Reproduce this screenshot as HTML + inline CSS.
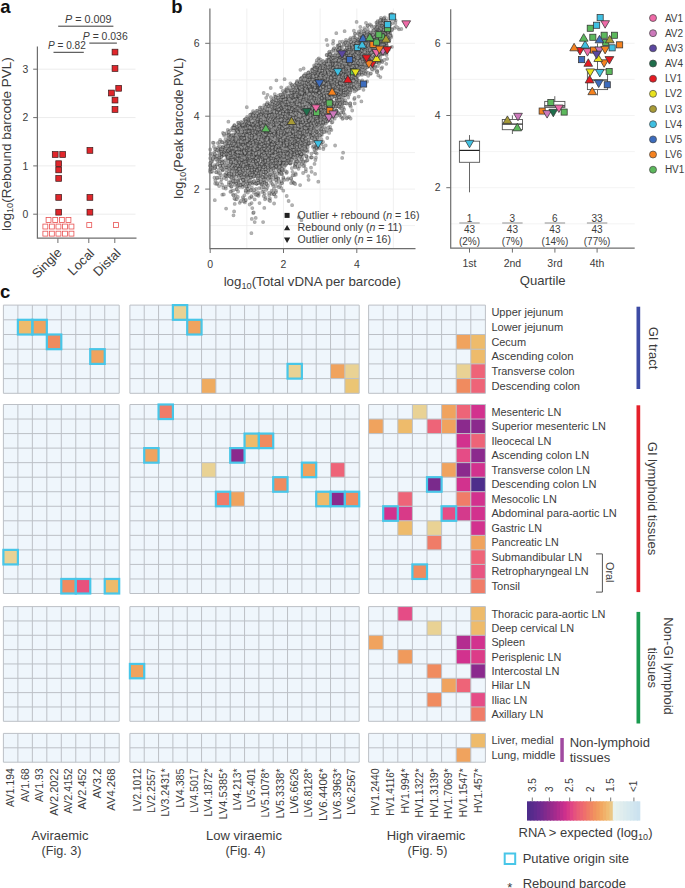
<!DOCTYPE html>
<html><head><meta charset="utf-8"><style>
html,body{margin:0;padding:0;background:#fff;overflow:hidden;}
svg{display:block;}
text{font-family:"Liberation Sans", sans-serif;}
</style></head><body>
<svg width="685" height="888" viewBox="0 0 685 888" font-family='"Liberation Sans", sans-serif' fill="#3c3c3c">
<text x="0.2" y="12.9" font-size="18.5" fill="#111" font-weight="bold" >a</text>
<path d="M37.4 214.2H135.5M37.4 165.9H135.5M37.4 117.6H135.5M37.4 69.2H135.5" stroke="#ececec" stroke-width="1"/>
<path d="M37.4 46.6V238.2H136.5" stroke="#6e6e6e" stroke-width="1.2" fill="none"/>
<path d="M33.2 214.2H37.4M33.2 165.9H37.4M33.2 117.6H37.4M33.2 69.2H37.4M57.9 238.2V243M88.8 238.2V243M114.8 238.2V243" stroke="#6e6e6e" stroke-width="1"/>
<text x="28.2" y="217.8" font-size="10.4" text-anchor="end" >0</text>
<text x="28.2" y="169.5" font-size="10.4" text-anchor="end" >1</text>
<text x="28.2" y="121.2" font-size="10.4" text-anchor="end" >2</text>
<text x="28.2" y="72.8" font-size="10.4" text-anchor="end" >3</text>
<text x="10.6" y="144.2" font-size="13.5" text-anchor="middle" transform="rotate(-90 10.6 144.2)" >log<tspan font-size="9.2" dy="2.6">10</tspan><tspan dy="-2.6">(Rebound barcode PVL)</tspan></text>
<text x="62.7" y="253.5" font-size="13" text-anchor="end" transform="rotate(-45 62.7 253.5)" >Single</text>
<text x="95.1" y="254.2" font-size="13" text-anchor="end" transform="rotate(-45 95.1 254.2)" >Local</text>
<text x="121.6" y="254.0" font-size="13" text-anchor="end" transform="rotate(-45 121.6 254.0)" >Distal</text>
<text x="65.0" y="23.0" font-size="10.6" textLength="46.4" lengthAdjust="spacingAndGlyphs" ><tspan font-style="italic">P</tspan> = 0.009</text>
<text x="82.8" y="40.4" font-size="10.6" textLength="44.9" lengthAdjust="spacingAndGlyphs" ><tspan font-style="italic">P</tspan> = 0.036</text>
<text x="48.0" y="49.1" font-size="10.6" textLength="37.8" lengthAdjust="spacingAndGlyphs" ><tspan font-style="italic">P</tspan> = 0.82</text>
<path d="M58.2 26.2H113.4M89.3 43.1H116.9M53.5 52.3H83.8" stroke="#3a3a3a" stroke-width="1"/>
<rect x="52.3" y="151.6" width="5.8" height="5.8" fill="#e0262b" stroke="#3a1a1a" stroke-width="0.7"/>
<rect x="59.8" y="151.6" width="5.8" height="5.8" fill="#e0262b" stroke="#3a1a1a" stroke-width="0.7"/>
<rect x="55.8" y="160.8" width="5.8" height="5.8" fill="#e0262b" stroke="#3a1a1a" stroke-width="0.7"/>
<rect x="55.8" y="167.0" width="5.8" height="5.8" fill="#e0262b" stroke="#3a1a1a" stroke-width="0.7"/>
<rect x="55.8" y="175.5" width="5.8" height="5.8" fill="#e0262b" stroke="#3a1a1a" stroke-width="0.7"/>
<rect x="55.8" y="194.5" width="5.8" height="5.8" fill="#e0262b" stroke="#3a1a1a" stroke-width="0.7"/>
<rect x="55.8" y="209.3" width="5.8" height="5.8" fill="#e0262b" stroke="#3a1a1a" stroke-width="0.7"/>
<rect x="87.0" y="147.5" width="5.8" height="5.8" fill="#e0262b" stroke="#3a1a1a" stroke-width="0.7"/>
<rect x="87.0" y="194.5" width="5.8" height="5.8" fill="#e0262b" stroke="#3a1a1a" stroke-width="0.7"/>
<rect x="87.0" y="209.3" width="5.8" height="5.8" fill="#e0262b" stroke="#3a1a1a" stroke-width="0.7"/>
<rect x="112.1" y="49.2" width="5.8" height="5.8" fill="#e0262b" stroke="#3a1a1a" stroke-width="0.7"/>
<rect x="112.1" y="65.6" width="5.8" height="5.8" fill="#e0262b" stroke="#3a1a1a" stroke-width="0.7"/>
<rect x="115.8" y="85.4" width="5.8" height="5.8" fill="#e0262b" stroke="#3a1a1a" stroke-width="0.7"/>
<rect x="108.5" y="90.1" width="5.8" height="5.8" fill="#e0262b" stroke="#3a1a1a" stroke-width="0.7"/>
<rect x="112.1" y="97.2" width="5.8" height="5.8" fill="#e0262b" stroke="#3a1a1a" stroke-width="0.7"/>
<rect x="112.1" y="106.6" width="5.8" height="5.8" fill="#e0262b" stroke="#3a1a1a" stroke-width="0.7"/>
<rect x="46.1" y="217.5" width="4.9" height="4.9" fill="#fff" stroke="#e85050" stroke-width="0.8"/>
<rect x="52.8" y="217.5" width="4.9" height="4.9" fill="#fff" stroke="#e85050" stroke-width="0.8"/>
<rect x="59.4" y="217.5" width="4.9" height="4.9" fill="#fff" stroke="#e85050" stroke-width="0.8"/>
<rect x="66.0" y="217.5" width="4.9" height="4.9" fill="#fff" stroke="#e85050" stroke-width="0.8"/>
<rect x="42.9" y="224.1" width="4.9" height="4.9" fill="#fff" stroke="#e85050" stroke-width="0.8"/>
<rect x="49.4" y="224.1" width="4.9" height="4.9" fill="#fff" stroke="#e85050" stroke-width="0.8"/>
<rect x="56.0" y="224.1" width="4.9" height="4.9" fill="#fff" stroke="#e85050" stroke-width="0.8"/>
<rect x="62.5" y="224.1" width="4.9" height="4.9" fill="#fff" stroke="#e85050" stroke-width="0.8"/>
<rect x="69.0" y="224.1" width="4.9" height="4.9" fill="#fff" stroke="#e85050" stroke-width="0.8"/>
<rect x="42.9" y="231.2" width="4.9" height="4.9" fill="#fff" stroke="#e85050" stroke-width="0.8"/>
<rect x="49.4" y="231.2" width="4.9" height="4.9" fill="#fff" stroke="#e85050" stroke-width="0.8"/>
<rect x="56.0" y="231.2" width="4.9" height="4.9" fill="#fff" stroke="#e85050" stroke-width="0.8"/>
<rect x="62.5" y="231.2" width="4.9" height="4.9" fill="#fff" stroke="#e85050" stroke-width="0.8"/>
<rect x="69.0" y="231.2" width="4.9" height="4.9" fill="#fff" stroke="#e85050" stroke-width="0.8"/>
<rect x="86.8" y="222.6" width="4.9" height="4.9" fill="#fff" stroke="#e85050" stroke-width="0.8"/>
<rect x="113.5" y="222.6" width="4.9" height="4.9" fill="#fff" stroke="#e85050" stroke-width="0.8"/>
<text x="171.2" y="13.4" font-size="18.5" fill="#111" font-weight="bold" >b</text>
<path d="M210 225.6H415M210 189.1H415M210 152.6H415M210 116.2H415M210 79.8H415M210 43.3H415M246.8 8.5V248.7M283.5 8.5V248.7M320.1 8.5V248.7M356.8 8.5V248.7M393.4 8.5V248.7" stroke="#ececec" stroke-width="0.8"/>
<defs><path id="k0" d="M286.8 109.7h0M264.9 143.8h0M310.9 89.4h0M252.6 145.5h0M253.2 183.7h0M253.2 212.9h0M329.6 101.4h0M279.2 121.4h0M295.2 97.1h0M332.7 113.9h0M311.4 77.5h0M270.5 127.4h0M261.7 165.9h0M265.3 110.9h0M353.2 62.2h0M250.5 146.4h0M263.5 191.3h0M351.7 59.1h0M316.4 145.4h0M300.3 126.6h0M285.2 138.0h0M271.0 130.4h0M387.2 58.8h0M341.0 46.9h0M282.7 137.7h0M251.7 159.1h0M251.0 124.8h0M309.2 115.9h0M289.1 134.5h0M372.3 48.5h0M321.9 103.3h0M261.8 127.5h0M350.1 67.9h0M347.1 59.0h0M296.3 91.9h0M305.3 129.0h0M359.7 87.0h0M242.9 166.3h0M277.7 132.8h0M313.4 92.7h0M307.6 100.0h0M246.4 130.1h0M297.8 167.1h0M244.6 156.2h0M312.3 98.9h0M328.0 86.1h0M217.1 164.7h0M323.3 89.0h0M293.2 101.3h0M285.4 142.9h0M311.7 119.4h0M282.1 136.0h0M271.6 100.4h0M340.0 81.7h0M310.5 111.4h0M220.5 165.4h0M310.5 135.8h0M315.9 113.1h0M299.2 104.3h0M255.2 138.8h0M332.2 85.2h0M381.6 43.0h0M358.4 57.3h0M240.9 161.5h0M311.9 107.8h0M308.8 72.3h0M306.9 80.8h0M304.4 107.5h0M321.5 73.2h0M346.3 76.7h0M314.4 83.5h0M284.1 145.2h0M270.1 141.4h0M287.0 151.1h0M297.7 81.1h0M322.7 89.7h0M303.5 100.4h0M291.5 92.7h0M224.2 135.5h0M378.6 48.0h0M278.6 162.5h0M233.5 182.6h0M299.1 150.3h0M342.6 64.6h0M331.4 115.4h0M352.0 69.2h0M303.4 106.5h0M323.0 131.9h0M267.7 134.5h0M341.4 75.3h0M331.4 130.0h0M368.1 60.8h0M282.2 174.1h0M231.2 186.8h0M314.8 70.9h0M306.9 118.0h0M302.4 125.5h0M263.1 159.9h0M376.0 31.0h0M293.4 136.2h0M226.1 167.8h0M314.1 97.3h0M329.5 69.2h0M252.8 140.5h0M295.3 97.8h0M323.4 105.9h0M326.0 94.0h0M263.2 144.7h0M284.9 147.2h0M328.7 63.1h0M316.8 126.4h0M229.2 151.7h0M342.9 73.9h0M316.1 76.9h0M389.7 22.3h0M229.6 141.9h0M285.6 142.5h0M318.8 58.3h0M320.2 89.7h0M238.5 168.1h0M308.7 121.7h0M258.8 131.1h0M282.1 96.3h0M296.1 103.0h0M251.3 163.1h0M271.1 147.9h0M382.4 43.5h0M362.4 62.7h0M251.4 146.7h0M322.1 78.4h0M271.3 153.3h0M283.6 161.8h0M274.5 167.7h0M330.5 61.0h0M279.6 129.2h0M283.2 100.2h0M287.5 120.5h0M227.8 144.3h0M242.3 139.1h0M301.7 78.0h0M247.7 159.2h0M284.2 136.8h0M253.7 145.3h0M242.9 139.8h0M238.9 147.1h0M257.5 157.7h0M336.6 113.2h0M378.8 38.4h0M351.2 54.0h0M305.3 101.7h0M306.0 84.0h0M342.3 90.8h0M269.3 140.8h0M246.9 143.7h0M369.8 24.3h0M288.4 129.5h0M317.5 90.5h0M314.9 87.8h0M298.9 131.1h0M321.7 144.1h0M297.2 158.9h0M310.0 106.8h0M330.8 77.1h0M272.6 132.3h0M346.2 65.3h0M318.3 86.1h0M320.2 97.5h0M271.3 143.3h0M294.9 127.5h0M294.3 175.1h0M304.0 103.6h0M384.5 44.6h0M319.0 88.0h0M285.2 116.2h0M263.6 141.1h0M272.8 133.1h0M337.7 72.4h0M350.5 92.0h0M298.5 107.2h0M313.2 117.4h0M223.8 153.8h0M256.6 166.2h0M292.4 111.5h0M252.5 130.9h0M368.0 72.6h0M320.9 77.6h0M254.0 151.0h0M364.4 60.3h0M341.8 78.8h0M308.2 143.7h0M366.3 62.2h0M342.0 86.4h0M247.5 183.7h0M330.8 71.9h0M295.5 121.5h0M298.3 135.2h0M330.1 96.7h0M330.8 78.2h0M277.2 128.6h0M288.9 135.6h0M338.9 97.7h0M253.9 181.3h0M255.6 153.4h0M302.7 122.2h0M309.3 125.9h0M338.1 50.3h0M282.6 118.9h0M323.6 103.4h0M342.3 92.9h0M283.5 126.0h0M292.8 126.4h0M307.9 96.6h0M260.8 145.8h0M318.9 121.7h0M313.1 114.5h0M380.6 32.5h0M252.7 152.0h0M310.8 89.8h0M321.6 110.1h0M345.9 66.9h0M214.0 156.0h0M230.2 147.2h0M300.0 99.1h0M351.5 80.3h0M333.9 76.3h0M301.6 154.7h0M354.5 46.3h0M335.4 79.2h0M262.6 115.9h0M259.8 165.2h0M337.9 103.4h0M256.0 189.0h0M227.7 156.5h0M254.8 171.6h0M293.2 133.5h0M387.0 41.7h0M261.2 134.9h0M305.6 118.5h0M283.3 96.7h0M246.5 161.9h0M285.8 89.6h0M234.9 155.3h0M302.2 144.2h0M300.3 90.3h0M299.2 112.2h0M266.0 157.9h0M316.0 139.5h0M334.5 75.0h0M287.0 128.6h0M331.6 94.5h0M255.1 155.1h0M259.7 122.4h0M249.1 156.6h0M346.0 39.8h0M302.8 97.1h0M300.9 158.4h0M303.3 76.6h0M277.3 154.6h0M283.3 106.8h0M379.4 45.2h0M316.7 111.7h0M329.0 109.4h0M238.0 122.6h0M241.3 125.9h0M326.6 83.0h0M321.1 130.0h0M303.6 119.5h0M355.1 43.1h0M288.0 145.0h0M293.0 134.7h0M249.9 146.6h0M354.3 43.8h0M283.0 125.4h0M301.3 108.7h0M305.1 92.1h0M292.0 119.0h0M275.7 133.2h0M280.1 142.5h0M301.5 129.6h0M301.3 103.0h0M358.5 70.6h0M244.5 166.1h0M231.7 139.9h0M270.4 132.3h0M302.0 98.4h0M272.7 139.5h0M280.9 141.6h0M309.2 109.4h0M241.0 161.0h0M304.6 117.6h0M263.7 125.7h0M321.4 94.2h0M319.1 64.6h0M214.2 152.6h0M286.2 147.8h0M346.7 54.3h0M284.9 146.7h0M285.6 161.6h0M283.0 141.6h0M292.3 157.0h0M308.2 108.5h0M338.1 65.7h0M290.4 83.3h0M269.1 165.1h0M297.6 117.1h0M231.6 163.9h0M307.4 84.2h0M275.8 106.1h0M289.7 109.1h0M345.3 55.2h0M246.3 126.8h0M323.5 84.3h0M309.7 106.6h0M335.2 92.5h0M342.5 57.6h0M275.7 110.7h0M288.9 144.3h0M348.2 97.5h0M296.1 84.1h0M377.4 39.8h0M332.7 91.2h0M274.9 160.8h0M308.9 103.6h0M324.4 86.3h0M325.9 113.3h0M311.0 103.2h0M271.5 127.7h0M276.1 119.0h0M233.3 162.0h0M333.9 86.2h0M269.3 145.2h0M304.4 130.9h0M255.2 148.0h0M287.9 95.5h0M304.7 92.5h0M319.3 106.8h0M275.3 118.0h0M237.3 143.3h0M210.2 171.0h0M230.1 176.6h0M280.7 115.2h0M312.2 96.8h0M276.1 190.9h0M297.0 94.6h0M236.4 147.4h0M384.6 21.2h0M325.7 87.8h0M326.4 104.4h0M210.6 165.3h0M389.9 15.0h0M244.1 150.5h0M217.5 178.2h0M342.0 69.4h0"/><path id="k1" d="M384.4 21.0h0M289.7 127.5h0M295.8 147.5h0M304.7 110.9h0M283.5 129.2h0M298.7 129.3h0M313.7 95.4h0M285.1 99.6h0M252.5 144.3h0M355.0 39.8h0M321.7 109.1h0M280.3 121.0h0M229.8 146.9h0M244.4 145.8h0M277.1 126.6h0M262.7 113.0h0M267.3 102.5h0M303.2 96.6h0M239.5 149.1h0M299.5 110.2h0M231.3 191.2h0M250.5 124.0h0M332.9 62.0h0M330.1 58.1h0M349.7 74.7h0M258.4 170.4h0M317.5 104.0h0M221.4 149.9h0M365.7 42.4h0M336.4 68.0h0M273.5 143.4h0M354.6 49.0h0M375.8 51.7h0M311.3 102.3h0M298.8 217.2h0M278.8 140.1h0M268.8 122.3h0M247.7 119.5h0M300.2 89.3h0M309.3 117.1h0M221.2 154.8h0M252.7 140.7h0M310.2 97.3h0M240.1 148.7h0M276.0 144.2h0M295.3 111.1h0M325.8 87.5h0M302.7 95.0h0M256.6 137.3h0M317.7 101.6h0M267.0 149.2h0M280.7 170.7h0M295.0 112.4h0M371.0 37.7h0M287.3 98.4h0M251.6 137.2h0M333.2 94.9h0M344.8 114.8h0M273.3 131.4h0M245.0 136.1h0M377.9 49.0h0M287.2 122.7h0M291.8 133.5h0M377.9 48.1h0M305.7 101.1h0M269.6 124.4h0M232.0 143.8h0M274.5 119.8h0M279.8 118.5h0M330.6 79.2h0M359.0 63.9h0M243.4 138.8h0M239.2 149.9h0M386.1 47.6h0M364.3 28.1h0M347.8 58.4h0M291.8 136.0h0M295.9 94.5h0M270.3 123.7h0M283.6 112.7h0M313.5 106.9h0M276.6 160.9h0M268.2 151.9h0M318.9 65.5h0M251.7 138.3h0M314.7 147.5h0M304.7 103.1h0M282.9 151.4h0M220.2 139.9h0M283.9 135.8h0M300.5 100.0h0M282.1 143.5h0M350.8 67.1h0M358.8 57.0h0M276.7 132.8h0M273.5 167.1h0M248.6 164.7h0M293.9 104.6h0M295.0 132.2h0M355.0 51.0h0M354.7 103.4h0M285.5 106.8h0M316.0 83.8h0M296.8 141.8h0M298.7 110.7h0M275.4 133.2h0M283.6 139.3h0M263.2 146.7h0M281.0 133.8h0M259.8 175.2h0M345.1 54.4h0M306.6 110.0h0M260.3 138.3h0M266.1 170.5h0M292.0 132.8h0M274.3 157.9h0M262.0 146.3h0M303.1 112.7h0M275.3 109.6h0M306.8 139.3h0M257.5 169.7h0M293.7 154.1h0M306.7 100.8h0M329.2 94.2h0M283.2 132.5h0M319.3 86.9h0M267.2 129.6h0M316.5 66.2h0M380.3 22.8h0M350.5 79.8h0M287.0 106.9h0M302.1 104.9h0M260.0 136.1h0M375.6 38.5h0M378.4 48.1h0M305.5 130.7h0M221.9 161.0h0M338.5 78.2h0M292.4 93.8h0M312.0 78.6h0M323.3 112.1h0M290.1 116.7h0M358.8 60.2h0M257.0 172.0h0M280.9 106.8h0M375.8 45.4h0M264.1 172.5h0M379.5 52.2h0M260.5 172.7h0M250.2 132.6h0M274.6 115.4h0M339.0 72.9h0M330.6 81.0h0M270.7 88.0h0M267.6 119.0h0M360.2 45.8h0M271.9 111.6h0M315.0 123.7h0M264.4 160.9h0M252.6 154.1h0M256.6 156.9h0M349.9 58.5h0M241.2 151.5h0M259.0 157.8h0M270.0 124.6h0M282.6 136.8h0M383.2 28.7h0M255.5 151.9h0M343.5 60.1h0M249.5 183.4h0M356.4 62.2h0M241.9 140.6h0M345.5 78.2h0M265.2 123.2h0M385.5 36.2h0M220.7 161.2h0M277.9 157.8h0M308.5 130.5h0M305.6 138.1h0M283.3 97.7h0M306.8 95.7h0M255.8 163.2h0M293.8 142.3h0M269.2 195.2h0M259.7 115.1h0M241.7 136.8h0M318.0 96.7h0M274.3 125.3h0M381.2 46.4h0M249.5 133.9h0M273.7 157.8h0M373.8 44.8h0M290.3 114.3h0M303.6 100.3h0M326.3 83.1h0M280.1 125.6h0M276.8 117.2h0M307.2 118.7h0M327.9 114.2h0M338.3 80.2h0M306.9 128.3h0M289.5 113.5h0M372.9 41.3h0M382.6 52.2h0M310.1 114.0h0M382.9 31.1h0M316.3 73.2h0M307.5 119.0h0M336.8 106.1h0M255.1 122.7h0M287.7 125.3h0M366.0 57.8h0M238.7 138.7h0M337.2 97.5h0M273.0 126.9h0M312.4 100.2h0M252.6 142.0h0M260.0 144.8h0M390.3 33.1h0M270.2 135.8h0M346.2 85.4h0M335.6 48.9h0M292.5 113.0h0M311.0 114.7h0M211.0 166.8h0M251.3 159.4h0M227.5 167.7h0M272.8 126.7h0M252.9 133.3h0M308.4 72.4h0M244.6 160.4h0M251.5 130.9h0M245.7 168.0h0M332.2 80.8h0M238.3 152.4h0M347.4 90.7h0M308.1 95.9h0M320.0 129.0h0M347.6 65.9h0M378.8 40.4h0M210.5 154.5h0M255.1 117.2h0M300.0 123.3h0M376.0 39.0h0M304.9 111.8h0M252.6 127.8h0M367.0 46.0h0M252.8 129.5h0M379.5 35.8h0M249.3 151.7h0M252.3 159.1h0M313.6 116.3h0M333.8 89.3h0M336.1 54.9h0M311.0 119.9h0M316.0 97.3h0M378.4 32.2h0M258.9 155.5h0M281.4 138.8h0M361.9 56.6h0M296.1 90.3h0M369.3 33.5h0M292.9 87.4h0M307.1 141.9h0M287.0 147.3h0M340.8 57.3h0M296.1 102.7h0M235.7 154.3h0M310.0 95.4h0M323.5 106.9h0M354.9 59.3h0M329.7 114.1h0M316.6 75.3h0M327.3 69.7h0M355.3 45.7h0M299.7 122.7h0M386.9 31.5h0M279.0 112.6h0M233.3 160.9h0M307.2 99.6h0M293.4 135.1h0M381.0 44.0h0M254.0 136.4h0M350.7 72.5h0M335.1 106.3h0M331.3 69.4h0M274.8 101.5h0M294.8 100.8h0M254.5 148.3h0M338.2 84.2h0M257.7 164.5h0M280.8 108.0h0M280.1 143.9h0M306.8 156.4h0M377.1 60.3h0M276.9 137.0h0M356.6 81.1h0M322.3 104.1h0M375.3 43.7h0M318.0 108.0h0M361.7 38.5h0M241.4 154.2h0M324.2 104.8h0M272.3 125.1h0M295.7 114.4h0M286.4 123.5h0M287.5 149.0h0M319.0 118.9h0M345.8 77.4h0M331.4 67.4h0M351.1 44.3h0M303.4 113.9h0M292.7 117.8h0M302.6 125.5h0M240.7 165.2h0M376.2 55.7h0M338.0 95.5h0M269.9 198.4h0M291.8 112.5h0M320.2 113.4h0M293.5 125.2h0M330.5 61.9h0M288.6 118.3h0M289.8 136.1h0M290.1 102.0h0M258.6 123.0h0M330.4 81.9h0M260.3 129.4h0M351.4 55.0h0M235.2 139.8h0M278.0 124.0h0M319.4 112.5h0M382.7 42.4h0M381.6 51.5h0M394.6 27.9h0M241.6 144.4h0M242.0 134.6h0M338.2 82.5h0M336.5 82.0h0M382.1 26.2h0M278.0 119.4h0M376.1 43.1h0M303.6 125.8h0M292.6 101.9h0M376.5 26.0h0M262.9 134.4h0M313.0 114.7h0M267.1 138.4h0M263.6 187.4h0M302.6 109.1h0M337.2 102.8h0M255.2 165.9h0M278.7 159.0h0"/><path id="k2" d="M352.4 61.0h0M357.2 80.4h0M262.5 142.8h0M268.3 109.5h0M256.8 168.3h0M279.5 163.2h0M253.4 153.2h0M274.4 150.0h0M268.8 128.5h0M350.7 79.0h0M378.2 30.4h0M292.1 115.8h0M286.2 134.9h0M315.1 85.3h0M262.3 109.4h0M271.1 137.2h0M315.5 101.8h0M282.4 120.3h0M325.1 70.1h0M327.4 120.8h0M377.2 44.2h0M305.8 144.1h0M354.4 77.1h0M300.7 117.9h0M279.8 131.3h0M256.7 159.1h0M261.1 148.3h0M248.8 169.4h0M319.4 92.4h0M295.9 131.2h0M316.8 72.4h0M305.4 104.0h0M286.4 122.1h0M304.9 76.8h0M234.4 139.6h0M278.0 115.5h0M292.0 132.0h0M320.3 72.3h0M315.5 107.0h0M294.8 163.0h0M269.4 117.7h0M210.2 149.5h0M284.8 165.8h0M345.4 65.7h0M302.4 116.7h0M246.7 135.5h0M228.4 159.2h0M354.3 75.0h0M343.9 81.8h0M325.8 88.5h0M295.9 123.5h0M276.4 158.3h0M289.7 158.9h0M340.4 86.1h0M334.0 74.1h0M269.1 133.5h0M259.5 142.7h0M265.5 135.0h0M306.2 121.4h0M346.4 63.6h0M258.7 121.4h0M272.6 145.0h0M309.8 129.0h0M250.7 129.2h0M299.5 121.0h0M275.1 141.8h0M323.7 68.9h0M331.5 81.6h0M316.0 120.1h0M266.6 158.5h0M221.1 155.2h0M371.4 49.5h0M325.7 145.4h0M266.9 128.3h0M307.6 151.7h0M256.6 111.0h0M388.7 31.8h0M254.2 134.6h0M292.3 154.0h0M270.7 127.1h0M292.1 108.6h0M301.2 130.0h0M380.9 42.4h0M297.6 120.2h0M325.9 92.5h0M251.8 218.9h0M244.6 131.3h0M306.3 132.8h0M252.9 171.6h0M352.4 63.6h0M289.6 130.8h0M302.4 139.3h0M298.0 126.5h0M294.9 108.7h0M243.5 146.9h0M277.2 153.9h0M302.3 116.6h0M260.0 156.9h0M269.3 149.7h0M341.4 76.1h0M373.7 49.4h0M376.8 52.3h0M344.8 83.6h0M301.4 110.5h0M387.1 24.4h0M265.9 106.5h0M353.3 51.1h0M222.7 155.6h0M377.3 58.7h0M298.2 116.3h0M253.1 175.5h0M356.6 40.9h0M236.7 157.7h0M305.4 121.2h0M380.9 42.6h0M287.6 121.4h0M269.0 152.9h0M347.7 77.2h0M308.0 85.3h0M325.6 69.9h0M295.6 173.3h0M337.7 91.9h0M308.1 94.0h0M307.4 131.5h0M261.0 143.4h0M282.3 99.4h0M246.2 124.3h0M262.3 149.3h0M267.2 114.1h0M210.9 153.4h0M271.7 135.1h0M322.2 78.4h0M335.0 67.7h0M313.7 122.1h0M260.2 111.5h0M262.9 167.8h0M242.9 150.4h0M323.8 72.6h0M259.2 152.4h0M306.4 100.3h0M321.5 139.2h0M220.1 165.9h0M288.4 126.4h0M296.5 117.5h0M281.8 129.6h0M292.2 101.3h0M311.8 136.2h0M226.0 176.0h0M301.4 148.8h0M324.2 117.5h0M246.8 140.8h0M250.7 167.8h0M277.9 108.5h0M313.5 127.8h0M288.6 114.6h0M259.3 135.9h0M275.9 105.2h0M244.5 159.5h0M326.0 121.7h0M300.0 109.0h0M307.5 114.7h0M303.6 104.8h0M276.4 121.2h0M325.0 89.8h0M270.8 135.8h0M333.3 89.5h0M282.2 118.2h0M228.5 150.6h0M319.3 73.1h0M356.7 61.3h0M228.5 141.3h0M311.7 80.3h0M344.5 70.4h0M289.8 125.3h0M256.8 163.8h0M279.3 139.6h0M315.7 67.1h0M312.0 111.0h0M364.6 57.2h0M300.4 137.6h0M234.0 153.0h0M261.9 122.1h0M309.6 109.5h0M319.6 75.7h0M291.8 109.5h0M302.2 116.0h0M273.0 127.7h0M301.8 107.2h0M245.3 128.5h0M274.0 193.9h0M342.8 66.6h0M354.0 66.4h0M326.7 88.6h0M283.4 148.4h0M384.3 33.0h0M294.4 152.6h0M245.5 138.5h0M313.4 93.4h0M295.8 125.7h0M266.1 138.3h0M322.5 128.0h0M312.2 73.4h0M321.5 111.4h0M284.5 138.7h0M233.9 139.5h0M317.5 103.7h0M378.4 37.2h0M289.9 145.0h0M325.9 88.4h0M379.9 48.7h0M290.7 114.5h0M337.9 93.2h0M234.3 125.1h0M365.9 72.0h0M280.9 113.7h0M242.6 169.8h0M308.1 107.3h0M267.3 137.4h0M283.6 136.1h0M330.1 81.4h0M348.2 51.0h0M288.8 131.3h0M341.8 74.9h0M245.1 130.4h0M221.7 141.8h0M314.7 146.6h0M391.3 35.9h0M231.6 174.1h0M377.0 55.3h0M302.3 157.9h0M284.3 126.9h0M321.2 94.5h0M304.4 94.0h0M371.5 52.8h0M301.8 142.4h0M296.1 87.6h0M322.7 100.7h0M249.6 132.1h0M365.8 56.8h0M247.5 146.1h0M388.8 38.2h0M277.8 132.7h0M298.3 99.2h0M268.6 169.0h0M305.2 104.0h0M276.7 119.3h0M262.2 170.7h0M316.5 132.7h0M340.3 96.3h0M281.9 152.8h0M261.1 171.3h0M309.2 102.6h0M257.7 134.3h0M242.4 143.8h0M304.5 89.3h0M359.9 36.6h0M387.4 22.9h0M252.7 148.7h0M281.9 125.0h0M266.2 133.1h0M276.5 182.2h0M385.2 36.2h0M238.8 122.7h0M331.4 96.9h0M266.4 139.3h0M290.6 163.7h0M270.6 139.7h0M319.8 104.6h0M236.7 173.9h0M351.5 59.6h0M329.3 96.6h0M381.2 44.1h0M284.3 118.0h0M361.6 56.3h0M381.4 26.0h0M346.0 49.5h0M286.7 120.1h0M249.3 121.8h0M360.7 39.9h0M237.1 156.2h0M264.6 193.9h0M282.8 98.4h0M332.8 96.4h0M269.7 146.1h0M256.4 137.3h0M249.0 155.3h0M297.0 99.5h0M305.5 100.1h0M289.6 116.7h0M256.6 123.9h0M230.7 148.2h0M242.1 145.1h0M344.6 88.2h0M296.5 148.0h0M288.2 160.2h0M381.3 30.1h0M263.9 143.5h0M248.3 161.2h0M281.1 123.1h0M276.6 146.8h0M235.9 165.7h0M266.7 152.6h0M347.4 61.6h0M284.1 167.3h0M319.5 77.6h0M234.3 161.5h0M303.6 125.9h0M373.9 43.5h0M309.1 143.6h0M247.9 192.5h0M246.5 143.8h0M242.8 141.7h0M285.8 115.0h0M319.3 98.5h0M345.8 41.8h0M283.5 111.4h0M323.7 146.9h0M279.5 155.0h0M288.1 151.0h0M297.9 110.5h0M292.1 109.6h0M274.0 151.9h0M251.9 151.8h0M386.4 24.7h0M341.6 76.2h0M275.8 139.2h0M303.0 110.2h0M311.3 127.0h0M357.2 69.1h0M278.7 95.4h0M299.2 155.5h0M265.1 132.0h0M285.7 106.6h0M288.9 109.5h0M244.5 176.6h0M294.3 131.3h0M255.5 159.0h0M295.0 107.2h0M289.8 103.2h0M231.5 151.2h0M265.6 167.0h0M281.6 110.6h0M294.6 122.5h0M333.3 84.7h0M299.6 131.6h0M312.3 97.8h0M346.1 66.6h0M210.2 165.4h0M279.8 172.1h0M255.9 146.9h0M333.1 107.1h0M246.3 134.8h0M273.3 174.0h0"/><path id="k3" d="M290.3 149.4h0M265.3 146.4h0M298.2 103.0h0M296.3 133.6h0M301.5 88.5h0M304.4 145.1h0M329.0 114.1h0M338.6 106.6h0M318.2 122.9h0M247.9 145.6h0M307.5 99.0h0M305.2 95.6h0M236.0 161.2h0M349.0 62.1h0M279.3 126.9h0M292.2 93.3h0M333.6 103.9h0M247.4 186.4h0M235.4 149.3h0M304.5 111.8h0M336.0 82.4h0M283.0 127.9h0M295.4 140.9h0M332.4 80.4h0M271.0 167.3h0M373.4 45.9h0M375.1 35.4h0M316.0 79.3h0M276.4 80.3h0M269.8 128.3h0M302.9 140.5h0M300.6 98.6h0M292.2 122.7h0M320.6 98.8h0M278.2 130.4h0M244.3 185.9h0M234.8 135.8h0M294.1 141.3h0M227.0 141.3h0M291.3 118.7h0M244.6 146.9h0M280.8 160.5h0M248.7 172.1h0M305.9 129.4h0M351.8 70.2h0M247.1 117.0h0M325.5 86.4h0M261.1 144.1h0M384.5 49.0h0M328.9 80.7h0M328.1 79.7h0M285.0 134.3h0M300.4 86.0h0M277.1 115.0h0M242.8 178.7h0M228.7 184.9h0M228.8 157.4h0M232.6 145.1h0M305.1 120.1h0M239.3 157.8h0M284.5 117.3h0M283.8 125.0h0M317.2 107.8h0M266.1 127.4h0M330.4 81.3h0M319.8 119.2h0M326.2 74.3h0M283.2 106.1h0M243.6 154.4h0M338.5 102.2h0M383.6 28.9h0M280.0 133.5h0M289.8 110.4h0M258.4 144.4h0M309.7 91.3h0M350.1 103.5h0M290.0 90.3h0M303.1 117.0h0M280.7 116.6h0M270.3 112.9h0M274.2 111.3h0M374.8 52.5h0M278.0 137.1h0M264.9 122.4h0M322.7 78.3h0M233.4 135.3h0M263.7 93.0h0M268.8 161.4h0M271.3 131.0h0M308.8 86.5h0M257.8 156.0h0M374.6 35.7h0M281.3 164.3h0M242.9 132.0h0M295.1 105.9h0M265.0 142.9h0M264.2 143.0h0M312.3 78.9h0M232.6 151.7h0M239.7 202.8h0M267.1 111.6h0M280.6 131.3h0M317.1 143.1h0M291.3 101.9h0M391.2 30.3h0M322.4 78.3h0M285.5 145.3h0M252.7 148.9h0M317.9 84.8h0M303.3 113.0h0M282.5 139.6h0M244.3 148.1h0M313.6 105.9h0M341.1 90.8h0M293.4 123.4h0M280.0 155.9h0M301.1 118.5h0M288.8 140.4h0M370.1 59.6h0M283.1 115.2h0M321.6 108.6h0M218.8 151.4h0M305.8 103.6h0M223.9 177.9h0M284.3 153.8h0M242.0 164.5h0M355.2 57.0h0M380.2 57.0h0M315.1 100.7h0M263.5 157.4h0M322.7 84.9h0M297.6 102.0h0M274.4 194.1h0M309.4 120.2h0M297.5 137.0h0M326.7 96.0h0M292.6 150.0h0M359.2 41.8h0M264.3 138.9h0M236.5 146.8h0M250.4 145.0h0M387.2 28.8h0M262.5 150.1h0M321.6 114.5h0M299.6 102.4h0M284.3 150.9h0M265.1 137.2h0M378.3 51.7h0M256.7 183.8h0M322.9 119.1h0M262.3 150.8h0M335.1 74.1h0M280.9 122.5h0M250.8 172.8h0M345.7 76.5h0M358.7 60.0h0M277.5 111.6h0M297.0 148.4h0M267.2 134.5h0M330.5 77.8h0M326.5 83.8h0M245.8 153.8h0M370.0 48.0h0M290.4 133.0h0M304.9 127.0h0M330.3 66.6h0M234.1 160.1h0M306.0 117.7h0M261.5 136.8h0M277.4 126.3h0M282.3 126.3h0M340.2 80.4h0M238.7 154.9h0M239.7 139.9h0M344.2 51.4h0M314.6 66.5h0M267.0 188.0h0M309.7 125.5h0M244.9 163.6h0M293.6 111.1h0M310.4 94.5h0M300.8 102.5h0M354.8 55.2h0M330.3 91.4h0M290.6 140.0h0M279.2 143.8h0M254.4 124.0h0M304.4 138.9h0M362.5 39.1h0M316.4 66.8h0M330.7 76.4h0M286.7 124.4h0M291.9 168.2h0M309.4 136.9h0M313.9 116.7h0M270.9 152.1h0M247.4 164.5h0M315.7 88.7h0M299.6 95.8h0M312.5 111.9h0M288.5 144.7h0M319.7 69.2h0M294.2 137.7h0M308.8 78.8h0M306.9 117.6h0M368.1 47.4h0M346.1 53.5h0M319.4 97.0h0M295.7 110.1h0M310.7 122.3h0M262.0 151.0h0M264.4 142.0h0M268.9 129.0h0M292.7 157.3h0M363.3 58.5h0M357.2 65.3h0M273.4 134.1h0M211.8 171.9h0M300.1 185.1h0M297.9 131.7h0M303.1 137.0h0M309.9 98.5h0M264.3 105.1h0M297.4 94.8h0M271.1 124.2h0M291.1 143.9h0M366.9 67.6h0M360.2 56.8h0M293.1 117.9h0M364.8 30.2h0M249.6 165.2h0M264.9 156.2h0M299.2 131.7h0M351.3 72.5h0M308.3 176.1h0M283.2 159.9h0M266.0 134.9h0M319.0 72.2h0M262.3 164.3h0M321.8 85.1h0M262.4 140.1h0M282.6 150.8h0M327.8 83.1h0M323.1 85.7h0M376.2 47.0h0M224.2 151.3h0M287.1 113.9h0M275.7 192.4h0M267.9 139.3h0M253.3 136.8h0M314.6 99.9h0M230.7 166.1h0M265.1 106.1h0M289.4 153.5h0M310.9 93.1h0M315.0 101.8h0M248.3 147.4h0M250.2 139.3h0M253.7 212.5h0M245.9 137.6h0M272.7 154.1h0M314.7 95.0h0M282.6 108.6h0M301.5 124.3h0M282.0 108.1h0M376.6 44.7h0M296.7 129.5h0M230.8 162.9h0M259.3 153.6h0M350.5 60.7h0M336.0 106.1h0M283.0 126.1h0M349.8 50.0h0M254.0 155.9h0M321.7 84.3h0M234.1 126.5h0M270.5 155.6h0M379.5 54.4h0M307.1 78.8h0M280.9 115.1h0M349.0 64.5h0M289.1 116.7h0M296.9 147.8h0M249.3 159.4h0M289.0 159.6h0M242.8 155.7h0M301.5 90.6h0M293.8 155.5h0M272.5 165.2h0M330.6 95.9h0M252.3 160.8h0M338.6 62.7h0M345.3 56.0h0M305.2 90.5h0M259.9 157.8h0M339.7 69.9h0M262.9 138.6h0M236.5 142.6h0M212.4 161.0h0M300.3 144.7h0M374.9 47.3h0M284.1 100.2h0M280.7 166.1h0M294.3 140.0h0M296.9 95.7h0M350.0 56.8h0M272.2 179.7h0M309.3 80.3h0M238.5 129.7h0M386.8 45.1h0M231.2 145.7h0M264.0 132.6h0M352.2 60.7h0M338.4 69.6h0M245.6 120.6h0M246.8 155.4h0M274.4 142.2h0M358.7 60.7h0M347.6 86.2h0M251.4 153.1h0M277.7 149.4h0M251.1 118.5h0M331.8 71.2h0M316.8 90.2h0M256.3 157.3h0M237.3 165.4h0M294.4 109.9h0M292.8 140.4h0M357.8 81.1h0M303.8 113.4h0M370.8 41.2h0M267.8 138.9h0M348.8 70.7h0M325.5 86.3h0M381.4 25.8h0M297.2 109.5h0M298.0 87.2h0M360.9 53.7h0M267.9 120.6h0M332.8 91.8h0M320.0 62.8h0M248.2 175.4h0M365.6 49.4h0M256.2 162.7h0M267.1 126.1h0M315.0 118.1h0M299.9 133.0h0M353.6 51.5h0M360.4 46.2h0M301.5 98.5h0M303.1 108.7h0M253.5 143.1h0M232.8 175.6h0"/><path id="k4" d="M334.1 82.5h0M270.0 117.6h0M228.9 155.5h0M260.1 129.7h0M260.0 109.3h0M254.0 141.0h0M386.8 30.8h0M349.0 69.0h0M332.5 65.3h0M299.2 127.6h0M296.7 116.9h0M284.7 120.8h0M302.1 94.2h0M348.3 76.8h0M379.4 39.1h0M392.1 29.0h0M299.6 95.8h0M254.8 129.3h0M270.8 129.4h0M322.6 88.0h0M326.8 79.9h0M278.0 139.4h0M288.2 140.0h0M242.7 180.0h0M253.8 166.5h0M294.0 91.4h0M276.1 167.2h0M269.5 123.7h0M300.2 89.1h0M382.0 34.8h0M347.4 76.4h0M316.8 102.1h0M311.5 138.6h0M278.2 159.2h0M254.8 120.1h0M330.0 89.7h0M379.2 29.8h0M257.1 116.1h0M356.9 59.4h0M280.0 154.3h0M249.1 168.6h0M332.7 74.2h0M247.3 135.1h0M294.7 128.7h0M355.2 44.0h0M290.5 118.1h0M313.1 142.1h0M339.1 67.6h0M323.5 84.3h0M289.6 153.6h0M351.0 59.2h0M267.7 147.4h0M298.7 147.4h0M256.8 183.5h0M236.6 168.3h0M310.0 133.1h0M378.6 37.3h0M248.5 156.0h0M267.1 158.6h0M287.4 95.2h0M258.6 180.6h0M305.3 84.8h0M351.9 86.6h0M351.3 58.9h0M301.5 113.7h0M293.2 182.8h0M340.9 88.8h0M273.9 188.7h0M257.3 127.4h0M274.1 136.5h0M265.8 139.7h0M314.6 87.5h0M272.9 116.8h0M325.4 84.6h0M371.2 25.4h0M328.3 82.4h0M302.8 105.2h0M286.2 96.2h0M327.4 83.5h0M244.5 119.7h0M240.4 165.8h0M383.4 22.4h0M293.8 121.4h0M258.2 179.3h0M215.2 183.5h0M267.2 135.2h0M246.4 135.9h0M272.3 103.4h0M345.2 52.3h0M326.9 73.6h0M299.7 109.4h0M331.6 88.3h0M237.2 152.3h0M280.0 101.9h0M363.4 40.2h0M249.1 140.1h0M275.7 143.7h0M320.6 66.4h0M333.5 49.1h0M258.3 171.5h0M270.0 141.3h0M312.8 102.0h0M341.1 74.1h0M275.3 121.1h0M231.7 135.5h0M286.8 160.5h0M289.4 136.2h0M263.8 137.3h0M322.3 95.7h0M244.6 161.5h0M297.1 118.2h0M332.5 96.1h0M262.5 131.2h0M296.4 155.9h0M253.5 149.6h0M263.9 135.9h0M336.5 83.1h0M350.0 77.9h0M332.8 101.8h0M289.8 105.6h0M359.1 56.3h0M339.6 114.3h0M283.3 159.2h0M343.5 101.0h0M300.1 155.5h0M340.0 70.4h0M285.1 111.5h0M270.8 135.7h0M311.3 89.6h0M241.7 153.0h0M266.5 154.8h0M308.8 139.3h0M344.0 53.9h0M272.1 107.2h0M265.5 140.5h0M263.7 139.4h0M210.2 169.3h0M303.6 136.2h0M276.5 151.7h0M237.8 131.5h0M342.1 94.5h0M293.2 131.8h0M276.6 134.3h0M286.7 109.5h0M314.8 67.9h0M280.2 135.5h0M306.5 104.2h0M307.7 123.4h0M356.1 87.6h0M260.8 128.0h0M272.7 154.1h0M295.4 152.9h0M341.0 55.8h0M237.3 154.4h0M329.0 52.4h0M246.5 163.6h0M329.2 64.5h0M264.8 135.0h0M260.4 128.1h0M244.3 167.7h0M260.1 107.9h0M305.8 97.7h0M308.8 110.9h0M343.8 73.3h0M291.5 149.6h0M318.5 78.3h0M252.8 148.1h0M379.6 47.5h0M328.2 65.8h0M235.8 134.1h0M270.3 138.9h0M318.3 134.4h0M260.4 124.3h0M338.2 88.2h0M270.3 143.2h0M362.0 65.9h0M260.9 116.6h0M295.8 127.8h0M243.9 154.1h0M323.2 89.0h0M258.7 140.8h0M292.8 137.9h0M321.7 102.9h0M317.5 99.1h0M296.6 151.6h0M340.7 69.0h0M282.3 150.9h0M310.1 77.3h0M280.9 140.4h0M270.6 141.4h0M325.0 119.6h0M238.4 146.6h0M257.4 146.3h0M315.0 88.4h0M275.7 96.9h0M261.1 140.8h0M347.5 50.4h0M297.9 130.6h0M264.2 161.4h0M273.6 170.4h0M254.8 170.3h0M265.0 109.1h0M275.6 148.4h0M317.6 90.3h0M317.8 108.5h0M265.6 197.9h0M264.8 167.3h0M316.4 69.6h0M341.5 104.5h0M287.9 108.8h0M299.6 109.0h0M363.5 89.8h0M345.2 95.2h0M289.5 107.9h0M293.6 133.3h0M271.1 134.6h0M337.5 68.4h0M333.5 94.4h0M293.7 112.8h0M376.5 40.8h0M332.3 75.6h0M314.6 95.8h0M344.0 65.3h0M287.5 131.3h0M339.1 63.6h0M364.1 48.1h0M225.5 139.2h0M371.0 44.6h0M315.7 122.0h0M333.6 75.3h0M271.5 128.9h0M251.0 157.1h0M337.5 65.8h0M233.6 150.1h0M279.6 173.8h0M381.9 31.5h0M238.6 175.4h0M321.4 142.6h0M383.9 31.5h0M279.0 120.5h0M328.4 66.3h0M244.6 175.0h0M285.2 129.8h0M237.5 146.0h0M259.7 141.2h0M334.4 69.8h0M281.2 139.3h0M293.4 106.5h0M304.6 105.1h0M349.5 78.6h0M271.5 158.1h0M289.7 97.0h0M298.1 103.4h0M355.1 65.8h0M357.4 72.4h0M297.0 149.2h0M245.2 147.5h0M282.3 162.8h0M302.5 142.9h0M300.1 152.7h0M294.2 144.6h0M273.4 154.4h0M272.8 153.9h0M355.4 56.7h0M281.3 97.9h0M386.1 43.4h0M376.2 39.4h0M264.9 157.5h0M256.6 162.5h0M374.0 42.7h0M278.3 161.7h0M255.5 162.3h0M257.0 155.5h0M263.7 153.3h0M290.8 123.1h0M222.2 154.4h0M293.5 121.4h0M250.4 140.7h0M381.8 32.5h0M215.9 149.2h0M298.2 126.9h0M255.4 139.0h0M294.0 96.1h0M312.2 115.2h0M288.1 163.2h0M311.7 124.3h0M236.0 155.9h0M329.3 69.6h0M280.3 133.5h0M287.4 121.7h0M336.6 64.6h0M327.9 81.7h0M273.5 138.5h0M250.7 150.2h0M334.8 67.3h0M337.7 76.8h0M322.2 98.4h0M254.9 151.1h0M308.7 124.9h0M264.8 172.3h0M348.5 70.0h0M246.1 176.8h0M353.1 61.0h0M256.5 163.5h0M306.7 145.3h0M358.6 33.2h0M351.1 56.0h0M239.7 186.9h0M280.0 110.2h0M272.1 101.7h0M336.5 72.8h0M276.9 141.0h0M246.1 134.2h0M303.9 133.6h0M289.4 155.8h0M327.5 90.9h0M359.0 43.6h0M265.0 119.4h0M286.3 101.5h0M328.1 71.2h0M225.4 147.4h0M356.6 51.8h0M264.4 136.1h0M265.4 139.9h0M309.4 103.4h0M239.8 129.2h0M333.7 55.7h0M266.0 151.8h0M303.9 118.9h0M269.6 138.7h0M355.4 63.2h0M289.6 115.3h0M317.9 109.8h0M373.3 44.5h0M362.1 70.7h0M288.6 201.0h0M340.2 87.0h0M296.2 98.3h0M252.0 152.3h0M319.7 80.6h0M315.6 110.3h0M285.2 163.5h0M241.0 125.9h0M322.9 74.0h0M249.5 151.4h0M336.3 100.1h0M333.1 117.8h0M262.1 153.0h0M287.0 141.9h0M316.8 98.7h0M262.7 159.0h0M313.1 99.1h0M321.8 134.9h0"/><path id="k5" d="M337.4 96.1h0M234.7 135.6h0M263.6 145.1h0M291.2 123.1h0M319.0 113.0h0M354.2 88.0h0M316.9 131.6h0M318.4 81.4h0M253.4 169.3h0M315.1 87.8h0M386.7 41.3h0M296.1 145.2h0M274.4 136.5h0M247.0 154.5h0M285.8 125.2h0M286.1 145.6h0M298.1 129.6h0M275.1 177.3h0M245.7 130.3h0M341.9 68.9h0M311.9 96.2h0M269.9 141.4h0M293.9 115.4h0M345.6 91.3h0M336.5 70.3h0M276.0 137.5h0M341.2 117.1h0M267.8 143.6h0M228.8 171.9h0M273.6 160.4h0M254.3 157.1h0M330.1 87.2h0M277.1 127.8h0M252.1 153.8h0M266.8 139.4h0M251.5 165.4h0M234.3 177.8h0M340.3 84.2h0M346.9 50.9h0M241.4 150.5h0M361.3 73.6h0M370.8 43.0h0M316.9 67.8h0M268.0 136.2h0M270.9 97.1h0M333.8 79.8h0M309.8 118.7h0M275.2 128.3h0M330.0 109.9h0M272.5 112.8h0M256.6 131.0h0M235.3 152.1h0M359.3 59.8h0M256.7 118.9h0M262.0 153.5h0M343.0 65.3h0M249.8 161.1h0M256.9 137.0h0M246.0 152.9h0M245.4 153.2h0M291.8 113.5h0M294.9 134.7h0M321.7 80.6h0M283.9 137.2h0M273.0 143.3h0M304.9 109.8h0M338.3 45.4h0M331.5 64.1h0M273.7 140.6h0M222.6 168.1h0M252.9 133.2h0M322.7 80.3h0M301.3 114.0h0M319.4 106.9h0M349.5 61.0h0M303.4 132.3h0M246.2 155.6h0M267.9 128.3h0M244.1 149.3h0M285.6 130.5h0M334.7 71.5h0M296.1 111.6h0M317.0 75.6h0M258.6 131.9h0M260.7 155.9h0M376.9 50.6h0M275.0 131.3h0M349.8 45.4h0M243.0 161.7h0M219.2 158.4h0M362.3 56.3h0M239.3 168.3h0M238.0 137.3h0M358.2 47.1h0M325.8 110.5h0M265.1 178.9h0M242.3 153.8h0M250.6 175.4h0M259.9 152.5h0M317.0 94.4h0M307.3 118.7h0M346.8 63.2h0M341.6 76.2h0M238.2 180.8h0M248.0 136.8h0M340.2 53.4h0M273.4 128.6h0M286.5 127.7h0M345.6 94.6h0M296.3 153.6h0M307.5 75.1h0M304.2 90.6h0M254.1 129.6h0M275.6 158.6h0M366.4 40.4h0M359.3 67.1h0M344.9 79.1h0M318.3 107.6h0M266.4 130.0h0M245.6 139.7h0M382.3 32.6h0M246.5 124.4h0M248.7 143.9h0M329.9 90.6h0M368.5 53.4h0M266.5 183.6h0M243.5 158.0h0M266.5 130.0h0M283.9 108.0h0M285.3 136.2h0M304.0 84.4h0M317.8 92.7h0M362.2 60.2h0M283.9 126.0h0M317.8 83.8h0M280.3 159.9h0M241.3 141.4h0M323.8 92.2h0M269.3 137.2h0M251.2 130.7h0M318.5 92.9h0M248.3 141.1h0M376.2 47.9h0M347.5 82.0h0M276.8 154.3h0M266.8 180.8h0M334.9 103.0h0M300.2 91.3h0M274.5 144.6h0M256.8 152.3h0M375.7 57.4h0M271.4 152.0h0M315.9 157.7h0M255.8 150.7h0M260.2 128.2h0M276.8 131.6h0M253.0 146.5h0M246.7 132.9h0M255.4 152.2h0M376.8 62.2h0M349.5 88.6h0M278.3 178.1h0M284.0 117.4h0M327.6 83.7h0M290.3 135.8h0M296.9 110.6h0M317.2 110.3h0M274.9 139.4h0M285.0 111.1h0M317.9 80.8h0M257.4 159.6h0M300.5 98.9h0M292.6 120.3h0M311.7 120.6h0M278.9 158.7h0M326.1 64.1h0M350.8 67.3h0M306.4 99.2h0M285.1 138.0h0M297.0 100.8h0M344.2 89.7h0M375.9 35.9h0M259.1 153.6h0M324.2 110.2h0M373.6 41.0h0M321.1 125.4h0M381.8 19.8h0M276.4 137.8h0M223.0 133.0h0M318.2 100.9h0M295.4 131.2h0M286.7 107.5h0M324.9 113.4h0M230.3 182.0h0M329.2 132.9h0M359.6 49.8h0M222.4 185.0h0M307.7 93.9h0M383.3 33.9h0M319.7 90.9h0M222.7 170.3h0M302.3 128.4h0M277.6 98.3h0M303.8 104.7h0M280.8 122.4h0M305.0 110.3h0M351.9 57.0h0M277.2 140.0h0M296.9 112.1h0M278.6 117.6h0M244.6 148.4h0M251.7 162.8h0M248.1 154.8h0M303.7 98.6h0M271.6 191.0h0M362.4 47.3h0M274.7 144.6h0M338.6 47.7h0M266.9 134.3h0M257.3 182.8h0M269.8 165.5h0M339.2 64.5h0M324.2 102.4h0M227.2 141.4h0M325.3 97.8h0M253.5 155.2h0M345.6 58.3h0M289.0 110.6h0M308.8 120.9h0M343.9 98.1h0M302.4 105.7h0M304.7 87.3h0M272.1 160.8h0M283.1 115.0h0M238.7 142.0h0M345.4 100.3h0M318.1 131.4h0M259.6 150.8h0M386.3 35.0h0M289.9 99.0h0M295.4 143.1h0M249.9 160.0h0M251.0 146.0h0M320.9 116.4h0M375.7 50.1h0M290.0 116.8h0M330.2 56.7h0M263.5 146.5h0M251.0 176.1h0M261.2 126.0h0M316.2 87.1h0M307.0 110.9h0M247.6 130.6h0M256.3 132.5h0M387.9 48.7h0M307.9 82.5h0M305.5 108.2h0M299.0 119.9h0M283.5 100.4h0M293.5 98.9h0M316.1 91.8h0M285.9 132.1h0M349.9 45.1h0M259.6 175.9h0M318.0 80.7h0M264.4 139.7h0M332.3 58.1h0M358.1 49.1h0M277.3 131.8h0M268.3 112.1h0M281.4 174.0h0M317.8 100.2h0M289.5 101.8h0M323.0 96.8h0M254.7 153.7h0M309.6 126.5h0M321.0 89.1h0M329.3 81.4h0M312.7 146.8h0M310.0 75.4h0M218.9 169.5h0M243.3 167.0h0M361.4 69.7h0M263.4 147.6h0M331.5 110.3h0M311.3 157.3h0M357.0 89.4h0M291.4 113.7h0M352.3 61.2h0M252.6 142.5h0M248.0 137.2h0M258.1 157.3h0M257.1 176.1h0M266.7 144.1h0M276.5 125.7h0M239.7 167.0h0M373.1 38.3h0M298.3 136.2h0M236.1 176.9h0M276.9 119.5h0M297.8 123.6h0M378.0 35.9h0M354.7 61.0h0M259.8 128.4h0M261.3 143.8h0M331.8 82.5h0M284.7 163.1h0M232.4 149.8h0M291.1 119.7h0M306.5 92.7h0M313.3 125.4h0M252.5 146.6h0M222.5 163.8h0M295.1 121.8h0M335.5 75.5h0M358.0 39.6h0M333.4 78.4h0M261.7 147.4h0M237.3 150.5h0M261.5 184.4h0M308.3 79.2h0M280.8 148.6h0M355.1 59.0h0M363.3 68.4h0M331.2 70.9h0M323.0 86.4h0M234.2 153.5h0M378.3 38.2h0M351.2 59.8h0M285.4 138.4h0M325.6 102.5h0M369.9 33.9h0M337.8 66.8h0M301.4 89.8h0M351.2 57.4h0M254.9 126.3h0M329.2 108.7h0M311.3 96.4h0M325.8 96.7h0M293.8 116.0h0M340.3 49.6h0M241.0 156.4h0M307.1 92.4h0M319.7 90.3h0M269.6 125.9h0M288.7 138.3h0M261.7 129.6h0M251.4 124.4h0M305.1 119.1h0M247.3 164.6h0M294.4 128.0h0M311.9 123.2h0M274.2 124.7h0"/><path id="k6" d="M330.2 99.1h0M334.2 63.8h0M244.5 139.0h0M276.7 118.8h0M361.8 51.1h0M258.4 133.5h0M271.6 141.2h0M237.9 160.3h0M375.1 41.4h0M305.7 148.0h0M248.2 129.2h0M278.2 170.8h0M215.3 167.8h0M263.7 176.9h0M330.3 70.4h0M241.2 163.0h0M282.3 137.9h0M271.1 169.9h0M253.7 171.6h0M377.4 71.7h0M351.7 69.0h0M328.8 103.8h0M309.7 116.6h0M268.5 171.3h0M220.5 149.9h0M264.7 127.3h0M232.2 128.7h0M339.3 56.9h0M278.3 120.6h0M260.9 155.8h0M253.8 133.4h0M254.8 136.4h0M260.5 114.8h0M260.8 183.5h0M301.8 146.6h0M300.3 154.6h0M271.6 128.2h0M285.7 125.0h0M273.4 162.0h0M245.1 137.8h0M240.0 156.3h0M271.1 131.1h0M278.1 107.4h0M267.5 151.9h0M256.7 140.2h0M242.6 146.2h0M299.4 103.2h0M329.8 73.7h0M266.9 152.3h0M295.6 130.5h0M357.8 83.5h0M278.1 178.9h0M233.1 160.3h0M334.0 77.7h0M243.3 125.9h0M340.8 81.5h0M317.3 113.0h0M260.7 132.7h0M258.4 149.1h0M248.0 129.6h0M359.2 64.8h0M247.7 174.9h0M289.5 106.2h0M293.7 108.1h0M324.1 88.6h0M295.9 116.6h0M318.2 85.3h0M216.4 150.2h0M226.4 179.2h0M348.2 74.8h0M269.1 122.4h0M306.0 87.4h0M270.8 162.9h0M353.0 56.7h0M303.7 119.8h0M300.6 122.4h0M247.4 141.7h0M308.0 115.4h0M344.3 71.5h0M372.5 38.4h0M253.4 159.4h0M310.7 75.2h0M234.3 166.0h0M302.6 107.9h0M284.1 149.7h0M327.4 99.5h0M247.9 141.5h0M290.4 108.4h0M291.4 136.3h0M366.4 50.2h0M325.1 117.6h0M299.7 115.8h0M327.8 112.3h0M314.9 90.9h0M358.3 83.8h0M268.8 123.2h0M311.7 111.3h0M325.8 81.4h0M327.6 102.3h0M335.7 69.0h0M340.5 92.2h0M266.0 145.2h0M299.3 110.2h0M309.1 98.9h0M388.8 49.7h0M249.7 197.9h0M288.6 114.6h0M324.6 94.7h0M318.2 111.1h0M312.1 91.5h0M348.1 58.1h0M316.1 116.6h0M235.8 163.0h0M294.5 143.7h0M264.1 163.8h0M304.4 91.0h0M361.4 101.4h0M278.6 129.7h0M360.3 33.9h0M245.2 132.4h0M216.3 171.9h0M314.6 98.6h0M270.6 125.5h0M343.1 67.6h0M281.5 127.5h0M299.4 100.7h0M320.0 70.0h0M342.5 70.1h0M331.3 92.5h0M331.2 82.8h0M251.0 148.4h0M278.4 135.6h0M347.0 72.9h0M237.9 181.3h0M280.3 100.3h0M283.6 143.7h0M392.7 23.1h0M317.5 117.7h0M274.8 120.3h0M317.1 132.1h0M264.0 165.2h0M274.9 123.9h0M246.8 107.2h0M327.2 71.0h0M222.8 146.9h0M305.5 84.3h0M334.0 74.2h0M296.2 134.3h0M292.4 181.7h0M260.6 123.3h0M323.7 83.6h0M292.9 151.2h0M254.4 182.8h0M346.2 68.2h0M316.1 94.3h0M332.5 59.8h0M238.8 159.7h0M362.7 41.7h0M346.6 67.5h0M342.8 111.9h0M285.5 120.9h0M281.8 162.6h0M308.7 90.6h0M296.1 97.3h0M248.6 155.8h0M305.6 115.8h0M321.8 67.9h0M371.5 38.6h0M374.6 67.0h0M367.3 40.5h0M331.4 58.9h0M242.7 160.0h0M279.1 120.6h0M279.0 151.6h0M327.9 91.3h0M254.3 153.2h0M276.9 154.8h0M341.3 83.3h0M299.9 145.7h0M285.7 103.2h0M260.2 155.3h0M254.7 157.2h0M269.2 155.1h0M323.4 89.8h0M372.0 34.6h0M294.7 121.1h0M294.9 166.3h0M230.7 162.9h0M280.5 111.2h0M299.9 126.9h0M373.7 39.0h0M291.4 115.4h0M277.1 137.8h0M294.2 135.7h0M344.1 44.9h0M318.9 84.6h0M259.4 149.9h0M367.0 65.0h0M345.5 65.8h0M238.0 172.8h0M283.8 93.1h0M275.3 126.7h0M286.1 122.9h0M301.7 135.4h0M295.8 174.7h0M312.9 68.8h0M311.1 79.9h0M235.2 153.8h0M233.3 127.2h0M236.1 180.7h0M336.0 79.0h0M276.7 122.0h0M293.2 117.7h0M319.4 89.4h0M298.1 114.9h0M266.4 144.9h0M376.7 38.0h0M290.3 108.9h0M307.2 107.6h0M332.7 67.9h0M260.7 143.2h0M297.2 129.5h0M347.3 83.6h0M247.4 135.9h0M294.3 116.8h0M328.8 87.0h0M355.2 33.8h0M320.3 88.1h0M284.9 133.6h0M378.0 47.9h0M317.6 66.5h0M274.4 115.9h0M284.8 112.0h0M338.2 71.7h0M265.3 138.3h0M293.4 134.5h0M349.2 87.6h0M238.6 145.9h0M312.7 70.9h0M336.1 93.3h0M337.1 104.7h0M341.9 105.1h0M257.3 138.6h0M343.6 74.3h0M304.8 132.5h0M327.8 112.2h0M250.2 117.7h0M344.1 88.9h0M367.7 49.1h0M357.7 45.2h0M268.2 135.0h0M355.4 72.3h0M299.9 105.6h0M246.4 142.6h0M284.8 110.0h0M313.6 110.0h0M344.0 87.1h0M254.4 155.1h0M349.2 73.1h0M263.5 118.6h0M269.4 140.2h0M262.6 162.3h0M311.9 122.6h0M261.0 156.1h0M310.7 97.9h0M280.3 140.1h0M278.9 152.1h0M355.9 52.7h0M307.1 113.8h0M275.0 132.5h0M300.3 149.7h0M329.8 79.4h0M310.2 107.5h0M359.4 53.5h0M359.6 52.7h0M300.5 153.4h0M264.1 130.2h0M274.7 124.0h0M274.2 128.5h0M307.2 131.4h0M321.2 92.1h0M352.0 62.2h0M282.2 135.8h0M260.9 133.6h0M256.4 161.6h0M373.2 50.1h0M306.7 111.6h0M223.3 142.3h0M255.8 148.1h0M316.5 113.6h0M310.4 125.8h0M361.9 47.0h0M252.4 157.9h0M312.2 123.3h0M266.4 139.0h0M323.2 78.5h0M253.7 118.5h0M272.6 111.4h0M262.6 124.5h0M253.5 147.1h0M283.2 96.5h0M360.0 59.7h0M248.4 157.4h0M324.0 123.9h0M287.6 103.3h0M324.4 89.6h0M303.0 101.1h0M351.2 70.9h0M339.3 67.3h0M258.8 194.1h0M337.6 45.7h0M256.3 183.6h0M318.7 103.3h0M293.3 120.1h0M298.5 168.8h0M290.9 119.4h0M308.8 143.1h0M378.3 43.7h0M382.3 33.4h0M277.3 159.5h0M240.8 158.2h0M329.4 97.6h0M386.6 55.0h0M309.2 94.5h0M287.6 109.2h0M249.2 134.7h0M227.6 143.1h0M254.1 146.6h0M233.4 159.3h0M245.4 141.0h0M298.0 135.5h0M312.3 106.7h0M313.0 105.5h0M317.3 70.4h0M290.5 116.2h0M251.3 128.8h0M337.9 72.3h0M292.3 119.0h0M231.5 148.4h0M298.4 92.3h0M252.3 157.2h0M298.9 133.6h0M286.0 119.2h0M253.5 144.9h0M273.9 119.0h0M341.5 72.0h0M296.7 129.6h0M276.1 131.2h0M324.4 98.3h0M299.0 123.1h0M294.5 120.9h0M284.2 115.0h0M228.3 158.1h0"/><path id="k7" d="M297.7 103.2h0M235.3 199.3h0M334.1 48.2h0M253.3 177.1h0M274.7 172.4h0M330.7 77.9h0M335.5 80.1h0M308.2 73.1h0M350.8 106.7h0M378.3 30.0h0M324.3 113.8h0M245.3 162.2h0M292.8 147.6h0M277.7 137.8h0M368.0 58.9h0M317.6 108.9h0M326.7 109.7h0M319.9 118.1h0M362.2 49.4h0M236.8 151.0h0M296.0 119.2h0M334.9 69.1h0M306.5 156.9h0M288.0 154.0h0M293.5 139.3h0M258.8 146.8h0M376.4 22.6h0M276.5 138.1h0M239.4 161.7h0M364.4 68.7h0M245.0 119.7h0M218.1 147.5h0M284.0 126.3h0M326.6 77.7h0M331.8 88.6h0M302.7 118.9h0M334.8 87.6h0M231.9 150.9h0M261.9 131.0h0M325.9 122.0h0M229.1 150.5h0M335.9 61.8h0M328.7 78.4h0M252.8 139.9h0M292.7 135.9h0M311.1 98.8h0M233.5 180.9h0M339.6 78.5h0M292.4 128.6h0M306.5 107.3h0M235.5 182.1h0M254.3 155.1h0M237.2 186.1h0M269.1 138.3h0M368.2 45.0h0M242.2 130.0h0M310.2 132.4h0M367.7 39.1h0M262.8 163.1h0M247.9 155.7h0M391.6 13.8h0M303.2 110.0h0M362.5 59.8h0M326.3 106.7h0M337.8 50.1h0M301.8 110.5h0M376.5 38.6h0M353.8 71.5h0M324.5 90.0h0M276.0 118.1h0M250.4 148.3h0M265.0 142.1h0M271.6 119.4h0M324.1 88.6h0M286.1 110.3h0M317.1 99.1h0M303.7 84.2h0M257.5 110.6h0M247.1 163.2h0M290.5 143.2h0M327.7 111.7h0M315.5 135.8h0M330.8 74.3h0M335.9 89.5h0M268.6 144.0h0M290.3 130.4h0M303.8 86.6h0M322.3 84.4h0M294.4 116.8h0M315.2 99.0h0M335.3 89.3h0M342.5 87.7h0M293.3 113.0h0M251.1 158.1h0M308.5 110.3h0M326.4 61.7h0M265.7 144.2h0M363.1 73.7h0M342.4 85.9h0M272.1 115.1h0M295.3 150.0h0M296.9 102.8h0M303.2 109.7h0M383.4 20.3h0M343.5 67.1h0M281.6 152.5h0M283.2 149.4h0M313.1 103.6h0M325.1 65.1h0M306.3 106.0h0M384.0 44.4h0M245.0 154.6h0M328.6 55.4h0M286.2 137.2h0M240.1 173.2h0M263.9 148.7h0M289.3 111.5h0M381.5 52.2h0M251.1 123.4h0M308.1 127.8h0M380.5 47.5h0M274.4 116.6h0M264.3 144.9h0M212.8 158.7h0M305.0 108.5h0M258.8 182.5h0M289.0 147.5h0M303.5 130.1h0M257.0 158.3h0M377.8 34.2h0M236.3 163.3h0M241.5 132.0h0M279.7 104.4h0M360.3 66.7h0M275.8 143.3h0M258.4 123.6h0M291.2 133.3h0M385.3 26.9h0M329.4 75.3h0M301.5 112.8h0M279.7 133.3h0M256.1 143.2h0M344.6 61.8h0M269.8 153.0h0M328.1 71.8h0M270.5 157.9h0M299.1 111.0h0M283.1 157.9h0M265.0 123.2h0M315.3 86.9h0M388.3 24.0h0M234.6 142.7h0M336.4 57.7h0M296.7 109.6h0M313.9 112.6h0M375.3 52.3h0M292.2 131.3h0M338.9 82.3h0M348.6 49.9h0M377.9 52.6h0M249.6 158.1h0M319.3 91.0h0M334.4 65.7h0M273.4 160.1h0M346.7 52.5h0M316.7 153.6h0M237.0 144.8h0M256.4 168.1h0M285.0 134.5h0M352.3 70.7h0M329.8 88.5h0M267.7 129.1h0M229.5 154.0h0M302.9 98.3h0M272.9 132.0h0M226.6 133.1h0M347.9 43.5h0M291.1 183.1h0M324.2 95.2h0M282.9 139.9h0M344.5 75.3h0M355.1 61.0h0M359.0 34.6h0M335.3 75.3h0M281.4 114.4h0M271.6 132.5h0M338.7 89.3h0M316.5 84.2h0M332.7 69.3h0M382.5 46.3h0M325.5 80.7h0M311.4 108.6h0M286.1 148.6h0M235.8 157.7h0M317.5 96.8h0M343.7 72.0h0M298.2 128.2h0M311.5 69.9h0M345.8 73.3h0M312.4 135.1h0M311.2 86.0h0M322.7 98.6h0M291.9 117.5h0M308.3 116.1h0M284.8 140.5h0M225.7 154.0h0M234.0 147.7h0M243.1 157.2h0M290.0 124.4h0M248.2 154.0h0M307.3 127.6h0M327.4 92.5h0M250.7 158.0h0M303.3 115.3h0M230.3 155.9h0M268.8 104.7h0M295.6 93.1h0M278.4 140.8h0M291.0 116.7h0M312.5 86.7h0M297.5 115.9h0M313.9 73.7h0M268.2 167.3h0M239.3 129.9h0M267.3 153.9h0M316.9 91.1h0M324.0 84.4h0M280.7 102.5h0M298.9 122.8h0M378.0 34.7h0M271.7 128.7h0M283.4 156.0h0M300.1 126.3h0M308.7 118.2h0M331.2 75.7h0M263.1 130.9h0M288.3 106.2h0M273.8 150.3h0M278.3 127.9h0M376.4 32.6h0M294.1 113.7h0M382.4 49.5h0M303.9 119.8h0M258.1 141.9h0M305.1 123.1h0M285.9 111.9h0M364.4 39.8h0M288.5 129.1h0M256.2 151.3h0M376.5 58.5h0M309.6 79.0h0M307.0 91.3h0M376.9 31.8h0M261.0 154.9h0M234.5 159.2h0M353.9 71.8h0M271.0 148.3h0M281.5 127.0h0M281.6 129.7h0M289.8 117.9h0M254.2 170.4h0M342.8 83.7h0M233.5 215.3h0M335.1 90.4h0M355.1 61.8h0M354.7 61.5h0M241.9 136.0h0M262.1 140.9h0M264.8 125.9h0M307.5 92.2h0M301.0 100.1h0M337.7 88.0h0M260.8 152.8h0M379.6 42.5h0M359.7 88.3h0M281.1 135.9h0M337.6 100.1h0M265.8 141.5h0M295.7 119.3h0M249.1 166.9h0M381.1 30.8h0M248.1 190.3h0M306.8 146.0h0M257.4 142.9h0M334.6 71.7h0M220.0 165.8h0M245.0 175.6h0M359.8 45.6h0M298.8 87.8h0M291.2 110.6h0M310.2 125.7h0M319.4 91.4h0M262.3 132.3h0M332.3 94.9h0M336.6 86.0h0M274.2 130.0h0M237.1 132.4h0M309.1 102.6h0M300.4 135.4h0M303.0 125.8h0M247.1 126.9h0M319.3 85.8h0M294.3 127.4h0M260.8 123.3h0M278.2 154.6h0M304.7 105.3h0M334.5 104.3h0M359.0 60.0h0M337.5 71.1h0M328.6 73.2h0M273.6 149.8h0M232.3 138.0h0M284.6 151.6h0M297.2 105.6h0M331.7 87.7h0M265.8 172.2h0M316.7 149.1h0M350.4 38.2h0M294.6 118.9h0M283.7 144.4h0M297.0 115.2h0M282.1 123.6h0M349.4 75.6h0M344.6 31.2h0M297.7 132.4h0M257.5 145.8h0M296.3 159.9h0M235.8 136.1h0M328.9 63.3h0M327.8 86.9h0M298.9 118.1h0M313.9 98.1h0M243.8 143.7h0M293.2 133.3h0M333.3 40.8h0M263.4 152.4h0M358.3 58.6h0M270.5 174.8h0M348.0 67.5h0M343.8 55.0h0M242.3 151.0h0M276.5 133.8h0M316.4 106.7h0M265.4 165.7h0M255.1 156.1h0M264.2 182.1h0M260.2 152.5h0M244.6 122.9h0M277.1 112.2h0M299.6 113.2h0M345.0 74.9h0M248.9 140.0h0M259.9 147.0h0"/><path id="k8" d="M272.9 130.7h0M341.2 85.5h0M242.1 165.5h0M311.8 132.5h0M267.0 139.8h0M255.0 144.5h0M365.8 47.2h0M275.8 131.9h0M236.9 162.8h0M296.7 108.2h0M300.2 109.1h0M275.3 114.0h0M268.5 123.5h0M333.3 77.7h0M288.5 134.0h0M292.6 125.8h0M268.2 150.0h0M288.8 99.8h0M295.8 126.3h0M284.7 149.3h0M250.2 126.6h0M272.9 145.7h0M254.6 175.0h0M276.7 139.6h0M258.5 195.8h0M376.3 42.5h0M259.9 121.5h0M313.9 123.1h0M250.8 163.2h0M380.7 42.2h0M228.4 141.2h0M313.4 123.8h0M373.5 57.1h0M255.5 159.3h0M240.7 175.6h0M254.6 155.7h0M265.4 147.7h0M276.6 123.6h0M343.4 61.9h0M301.4 125.9h0M238.4 148.6h0M265.4 132.9h0M382.3 60.9h0M286.7 128.2h0M305.7 75.1h0M230.5 159.2h0M291.1 179.0h0M346.6 56.6h0M317.6 110.3h0M279.7 131.0h0M304.0 75.4h0M267.4 123.4h0M295.8 144.8h0M376.7 41.2h0M300.0 111.2h0M281.8 138.3h0M372.2 58.8h0M329.3 78.9h0M306.7 131.2h0M296.6 138.2h0M305.5 111.5h0M298.5 107.7h0M320.8 89.7h0M313.8 96.2h0M334.9 112.9h0M253.5 134.4h0M263.7 152.6h0M381.6 31.9h0M377.5 36.0h0M328.6 117.9h0M243.6 149.5h0M271.1 129.7h0M380.4 48.2h0M298.4 112.9h0M235.3 164.0h0M316.8 138.4h0M254.1 157.6h0M295.4 118.1h0M254.3 150.8h0M327.6 83.4h0M296.1 134.4h0M269.2 200.0h0M332.9 58.0h0M252.6 132.7h0M287.2 156.9h0M287.4 132.2h0M282.3 128.3h0M329.1 74.5h0M243.6 151.2h0M238.7 181.5h0M323.1 105.0h0M222.3 194.7h0M288.8 106.8h0M325.8 98.4h0M328.1 59.4h0M273.4 148.3h0M329.9 99.9h0M350.2 86.0h0M239.6 138.9h0M290.8 90.1h0M286.1 91.1h0M278.2 123.3h0M380.1 37.6h0M267.6 129.1h0M324.2 81.8h0M304.8 131.6h0M275.6 162.0h0M390.4 24.5h0M237.6 155.9h0M321.7 86.1h0M336.5 66.8h0M330.6 67.5h0M384.1 31.2h0M272.8 133.3h0M297.6 139.4h0M287.0 145.9h0M340.1 65.1h0M271.5 114.5h0M376.6 39.6h0M305.9 85.7h0M336.8 91.0h0M346.7 69.2h0M266.8 162.9h0M341.6 85.6h0M219.1 154.3h0M281.4 114.5h0M264.5 162.3h0M364.9 50.5h0M286.8 130.7h0M321.8 90.6h0M294.8 146.5h0M298.6 119.7h0M277.2 102.5h0M276.1 186.0h0M256.6 125.9h0M289.4 155.2h0M286.4 151.7h0M243.8 180.5h0M272.2 135.5h0M224.5 154.0h0M223.4 187.8h0M332.5 81.4h0M213.9 146.7h0M217.1 184.2h0M285.1 143.8h0M380.7 29.8h0M303.7 154.6h0M210.2 171.9h0M295.0 97.3h0M258.0 154.8h0M327.6 110.2h0M346.3 52.6h0M237.7 129.9h0M280.0 143.2h0M366.2 61.6h0M298.7 108.1h0M313.7 85.3h0M254.5 126.9h0M271.4 130.5h0M267.5 94.8h0M349.2 51.9h0M280.8 102.4h0M360.4 49.5h0M253.3 171.5h0M365.1 62.1h0M278.0 138.8h0M304.8 88.6h0M247.6 144.6h0M337.4 85.5h0M245.8 181.8h0M286.2 99.1h0M318.9 115.9h0M259.7 119.0h0M286.8 133.5h0M286.2 155.2h0M330.0 91.9h0M250.4 143.1h0M390.1 34.8h0M334.5 86.6h0M300.8 116.9h0M347.7 67.1h0M297.4 98.7h0M240.8 143.5h0M309.9 115.9h0M303.4 115.5h0M266.3 168.9h0M299.4 152.9h0M270.4 128.7h0M298.4 99.4h0M326.0 93.3h0M283.9 126.5h0M354.4 37.1h0M376.4 49.0h0M286.5 112.3h0M298.7 152.9h0M361.2 66.3h0M251.0 171.8h0M336.7 63.8h0M214.2 165.2h0M277.7 138.9h0M311.0 84.1h0M339.6 71.2h0M333.5 90.2h0M280.6 100.0h0M263.1 133.6h0M316.9 122.3h0M238.4 147.5h0M269.2 163.8h0M241.1 165.7h0M384.5 60.0h0M334.6 82.7h0M307.5 103.3h0M238.4 162.0h0M303.1 86.6h0M342.2 73.6h0M250.5 114.6h0M234.4 198.4h0M281.7 123.7h0M363.4 53.6h0M241.0 141.9h0M308.3 111.9h0M320.1 120.3h0M252.7 153.3h0M371.0 37.2h0M369.7 48.3h0M299.7 129.6h0M351.8 67.0h0M324.3 97.5h0M335.4 92.2h0M245.2 165.0h0M250.9 177.7h0M290.1 103.0h0M264.3 122.2h0M319.8 115.1h0M292.4 99.6h0M315.5 95.6h0M279.6 119.7h0M276.0 179.6h0M342.9 91.0h0M344.4 91.6h0M292.3 158.6h0M302.4 139.4h0M265.3 133.5h0M309.7 128.9h0M376.3 42.1h0M293.1 154.6h0M276.6 136.3h0M355.2 89.2h0M354.4 52.6h0M366.4 63.2h0M378.7 48.6h0M339.7 75.9h0M344.8 54.7h0M297.1 151.0h0M230.9 182.8h0M281.2 130.6h0M275.8 142.6h0M263.9 145.5h0M271.8 193.8h0M326.6 114.6h0M306.6 97.4h0M343.1 73.9h0M282.4 136.4h0M249.6 162.4h0M269.0 143.7h0M276.1 150.1h0M308.9 84.6h0M377.5 39.4h0M232.9 194.6h0M271.4 146.3h0M245.9 121.4h0M295.3 120.1h0M302.4 106.6h0M269.9 128.4h0M340.9 66.9h0M348.6 62.3h0M328.1 111.0h0M305.7 116.6h0M287.4 139.0h0M268.5 147.5h0M276.1 147.3h0M230.1 142.5h0M334.8 82.4h0M266.5 130.9h0M313.4 89.9h0M269.2 120.7h0M273.1 144.3h0M300.1 129.1h0M239.6 164.2h0M328.3 92.3h0M285.0 164.9h0M257.2 131.2h0M257.5 161.0h0M261.8 170.0h0M293.2 120.2h0M292.7 113.5h0M307.7 102.4h0M350.2 48.0h0M239.9 155.3h0M258.8 147.4h0M317.9 107.3h0M259.2 130.1h0M297.9 89.6h0M351.5 40.5h0M283.6 111.1h0M307.1 95.8h0M324.9 90.7h0M288.6 114.8h0M300.1 108.4h0M283.3 124.8h0M275.6 108.3h0M237.5 149.7h0M272.3 130.5h0M322.1 123.7h0M254.0 141.1h0M291.0 113.4h0M317.4 93.4h0M258.3 156.5h0M340.8 63.6h0M304.0 88.6h0M334.0 64.8h0M327.2 85.4h0M249.0 157.1h0M278.6 129.3h0M281.6 114.9h0M290.1 131.3h0M300.5 123.8h0M339.3 75.1h0M287.2 141.3h0M239.5 157.8h0M323.3 107.8h0M309.5 79.4h0M336.8 103.6h0M264.4 118.8h0M347.4 52.8h0M289.1 108.1h0M294.2 103.5h0M285.1 160.5h0M275.3 141.5h0M329.6 64.1h0M250.2 126.5h0M322.6 123.9h0M359.7 55.5h0M338.7 64.5h0M370.7 53.3h0M382.4 26.0h0M223.5 154.5h0M339.2 50.5h0M300.6 87.5h0M261.8 152.6h0M282.6 131.1h0M310.9 157.5h0M266.5 157.1h0"/><path id="k9" d="M281.3 131.9h0M268.3 106.1h0M368.9 32.8h0M346.3 67.0h0M326.7 63.3h0M251.4 142.4h0M245.6 141.9h0M253.0 134.9h0M314.3 109.1h0M308.3 142.5h0M264.0 129.2h0M323.8 122.2h0M378.3 56.1h0M328.5 85.6h0M322.7 114.2h0M254.7 138.2h0M318.4 93.1h0M300.0 156.5h0M365.0 49.8h0M356.6 21.9h0M250.6 172.7h0M260.1 163.9h0M377.5 59.1h0M277.5 150.8h0M247.4 126.2h0M273.0 129.8h0M333.3 67.9h0M371.0 61.9h0M335.6 62.9h0M322.9 61.5h0M324.5 70.9h0M281.5 110.7h0M317.4 116.1h0M259.9 152.7h0M362.6 61.3h0M319.4 95.3h0M263.4 162.4h0M316.1 72.4h0M259.9 131.6h0M273.8 139.1h0M322.9 63.2h0M313.6 145.8h0M288.0 131.6h0M292.6 175.4h0M338.4 98.1h0M235.9 129.1h0M289.2 96.7h0M265.7 150.5h0M257.8 146.6h0M290.1 118.8h0M263.1 162.6h0M320.8 121.0h0M264.9 112.3h0M250.9 154.6h0M389.2 29.8h0M345.9 71.1h0M321.8 101.2h0M278.3 127.7h0M338.3 113.2h0M283.2 107.5h0M341.7 59.6h0M329.8 72.2h0M235.9 164.4h0M258.4 116.7h0M224.0 133.9h0M325.4 74.4h0M329.8 87.8h0M338.7 93.2h0M270.6 165.1h0M280.9 134.6h0M214.5 177.7h0M286.1 164.6h0M223.9 152.1h0M306.4 89.8h0M325.2 91.2h0M371.9 42.1h0M336.4 62.2h0M333.3 62.8h0M361.0 56.4h0M338.3 71.6h0M309.1 115.3h0M346.2 71.2h0M314.8 123.6h0M344.5 56.4h0M360.4 56.5h0M311.3 108.0h0M294.3 143.8h0M305.8 99.0h0M326.0 74.7h0M281.9 123.6h0M231.5 135.5h0M228.3 160.9h0M302.8 95.4h0M376.0 39.8h0M252.8 127.5h0M351.9 66.3h0M343.7 51.4h0M272.8 140.4h0M334.0 104.3h0M374.3 40.5h0M306.0 102.8h0M328.7 115.5h0M384.8 25.8h0M290.9 132.6h0M298.5 144.6h0M244.8 139.4h0M307.6 98.3h0M296.9 133.0h0M268.1 122.7h0M376.9 70.5h0M310.7 90.7h0M310.4 80.9h0M344.7 53.7h0M243.1 126.0h0M262.5 133.6h0M253.5 146.2h0M278.7 165.8h0M338.2 58.9h0M234.1 175.3h0M350.0 74.0h0M380.0 28.8h0M275.2 163.9h0M280.6 131.2h0M234.9 154.0h0M282.9 147.1h0M303.2 103.7h0M257.5 116.1h0M226.7 151.1h0M283.9 137.4h0M262.8 182.4h0M255.4 136.9h0M280.5 116.9h0M257.5 125.0h0M320.7 115.8h0M287.0 88.1h0M282.3 100.4h0M244.4 195.3h0M299.0 118.4h0M225.9 174.7h0M303.5 145.4h0M281.3 188.1h0M295.5 96.8h0M269.4 122.8h0M307.7 108.4h0M307.8 95.6h0M240.6 138.9h0M238.2 146.2h0M282.6 113.4h0M238.5 138.5h0M378.6 42.4h0M326.5 67.6h0M343.1 118.0h0M349.2 94.5h0M236.8 146.0h0M239.6 165.6h0M233.3 154.5h0M288.3 102.2h0M301.6 132.7h0M258.9 173.3h0M250.2 131.4h0M244.5 143.9h0M376.0 39.8h0M249.5 137.5h0M336.5 97.8h0M298.0 89.7h0M285.8 160.9h0M383.5 46.9h0M309.8 96.7h0M321.8 114.3h0M344.9 71.7h0M268.5 147.0h0M318.7 98.1h0M253.1 111.1h0M299.5 111.6h0M336.3 113.0h0M292.7 112.5h0M331.2 87.1h0M274.3 126.5h0M313.0 105.4h0M346.1 79.2h0M363.9 63.1h0M303.0 108.8h0M324.6 91.3h0M280.6 112.9h0M308.1 104.7h0M276.3 103.3h0M237.8 153.9h0M330.6 66.4h0M351.5 53.0h0M320.5 103.0h0M323.1 83.0h0M269.4 146.2h0M326.6 89.9h0M297.7 114.7h0M269.2 124.5h0M244.8 157.2h0M367.8 34.4h0M346.2 76.3h0M267.4 156.7h0M310.5 110.8h0M317.3 85.2h0M308.8 142.2h0M323.9 71.9h0M266.8 156.3h0M232.9 177.6h0M281.7 123.8h0M322.9 82.7h0M263.2 116.3h0M244.0 137.2h0M372.9 40.0h0M307.5 116.3h0M354.8 54.3h0M301.4 100.2h0M237.0 160.8h0M277.6 143.0h0M346.2 74.1h0M256.9 135.8h0M241.3 150.4h0M255.2 149.8h0M290.7 113.4h0M298.6 142.3h0M288.5 161.2h0M262.4 132.6h0M311.7 74.2h0M254.3 190.2h0M291.1 127.7h0M289.4 121.0h0M278.9 147.6h0M236.2 165.7h0M230.7 150.0h0M252.9 157.6h0M369.2 53.0h0M307.2 114.6h0M236.2 154.1h0M289.8 108.8h0M283.0 153.9h0M295.5 114.6h0M327.8 85.2h0M252.1 151.9h0M316.3 108.9h0M315.4 160.1h0M358.8 51.5h0M310.2 124.3h0M282.5 142.3h0M219.3 146.2h0M313.4 88.3h0M384.3 30.6h0M253.5 143.0h0M263.9 127.9h0M285.0 119.3h0M273.4 137.7h0M220.3 161.6h0M221.8 148.1h0M285.9 143.4h0M262.8 180.2h0M378.8 52.4h0M259.3 169.6h0M317.8 125.3h0M274.9 102.9h0M304.7 90.1h0M297.4 107.8h0M245.0 155.7h0M290.7 97.6h0M251.0 168.7h0M250.5 127.6h0M262.5 132.5h0M297.2 123.1h0M268.6 153.6h0M344.2 109.3h0M233.5 141.5h0M252.3 208.1h0M273.3 140.0h0M227.3 156.2h0M276.8 162.3h0M349.8 48.2h0M321.6 84.8h0M269.3 153.5h0M372.7 65.5h0M258.8 156.4h0M299.3 128.9h0M297.9 91.7h0M288.4 97.4h0M217.9 143.1h0M241.4 149.9h0M267.4 125.8h0M280.3 107.7h0M276.7 133.3h0M335.2 80.2h0M333.3 83.4h0M267.1 149.0h0M356.3 64.2h0M338.6 105.9h0M235.7 143.8h0M298.0 143.6h0M269.5 124.2h0M316.1 86.6h0M346.7 93.3h0M303.9 104.4h0M332.5 83.4h0M230.5 185.5h0M389.0 39.9h0M275.3 96.7h0M259.3 172.8h0M240.1 155.3h0M379.7 33.6h0M290.3 151.1h0M244.1 155.0h0M321.2 123.5h0M282.9 101.0h0M295.8 151.3h0M294.7 105.4h0M258.1 179.9h0M272.1 123.1h0M307.6 108.7h0M252.6 136.0h0M362.4 51.4h0M314.4 73.4h0M263.7 144.6h0M296.5 105.4h0M360.7 45.2h0M375.5 52.2h0M292.7 134.7h0M340.5 59.6h0M273.3 175.4h0M332.1 109.2h0M308.6 104.5h0M286.7 150.0h0M264.2 172.1h0M268.4 115.6h0M346.4 67.8h0M275.1 132.7h0M292.2 140.1h0M269.1 169.2h0M377.8 29.9h0M294.1 128.1h0M287.3 130.0h0M265.7 151.7h0M283.7 107.3h0M241.9 135.0h0M330.5 71.3h0M322.5 92.6h0M267.2 123.7h0M354.6 62.8h0M239.9 138.0h0M262.7 150.5h0M358.9 58.6h0M267.4 164.7h0M219.9 146.2h0M331.0 67.5h0M381.4 30.5h0M309.7 86.9h0M277.5 166.0h0M242.5 185.2h0"/><path id="k10" d="M345.1 68.4h0M336.6 116.1h0M301.6 159.4h0M295.5 99.9h0M326.2 84.8h0M291.3 115.4h0M313.8 112.4h0M322.3 96.3h0M254.7 199.4h0M399.0 29.3h0M301.5 115.8h0M334.1 88.0h0M282.1 170.5h0M296.0 121.1h0M270.4 115.8h0M270.0 119.9h0M331.8 112.8h0M380.8 45.7h0M235.3 140.2h0M309.8 80.9h0M340.9 102.6h0M275.2 133.2h0M279.0 158.7h0M322.7 94.0h0M272.5 153.5h0M295.7 140.8h0M241.7 151.0h0M312.2 112.2h0M273.1 120.4h0M252.1 113.5h0M268.8 115.3h0M379.9 35.6h0M286.5 115.0h0M384.4 44.9h0M327.1 95.4h0M254.8 129.4h0M244.7 125.4h0M257.6 171.0h0M371.6 39.1h0M264.9 124.5h0M244.7 137.9h0M266.3 184.1h0M248.8 133.8h0M351.4 88.4h0M285.1 157.6h0M246.8 154.3h0M319.0 97.8h0M265.3 136.8h0M293.2 90.0h0M356.5 74.1h0M333.5 91.1h0M287.0 127.9h0M273.9 107.2h0M277.6 163.7h0M276.3 120.0h0M247.2 168.6h0M333.0 90.0h0M357.1 54.1h0M320.6 126.6h0M305.3 82.9h0M242.7 159.2h0M317.2 104.7h0M295.8 100.0h0M327.1 59.6h0M237.5 171.5h0M249.4 155.3h0M253.1 135.5h0M239.5 124.4h0M320.6 93.1h0M281.8 152.4h0M290.4 121.2h0M273.0 132.4h0M242.1 153.3h0M368.0 38.3h0M365.6 59.0h0M274.3 104.9h0M323.4 121.4h0M246.1 159.1h0M257.8 172.9h0M343.3 79.6h0M276.3 107.2h0M228.4 121.7h0M291.4 151.0h0M246.6 128.6h0M258.3 153.9h0M329.6 71.5h0M261.1 126.0h0M325.4 71.1h0M342.0 103.5h0M328.4 116.9h0M334.0 69.6h0M284.2 154.4h0M252.8 158.4h0M261.0 175.1h0M346.6 85.3h0M305.2 128.0h0M332.4 94.2h0M248.3 138.4h0M248.4 122.0h0M284.3 139.4h0M305.0 94.9h0M268.9 151.8h0M312.3 120.8h0M248.4 129.8h0M360.8 81.3h0M251.6 203.1h0M232.1 154.9h0M310.7 88.3h0M292.9 129.2h0M330.5 79.0h0M318.7 110.0h0M262.0 141.1h0M259.7 173.0h0M378.3 29.9h0M250.8 136.4h0M354.2 99.1h0M375.5 54.0h0M283.8 119.6h0M249.7 128.2h0M312.8 100.4h0M304.8 127.2h0M282.5 136.0h0M284.2 142.7h0M273.4 125.1h0M302.1 164.2h0M308.6 117.6h0M323.7 107.4h0M300.4 117.0h0M375.2 51.6h0M353.8 62.2h0M309.9 119.4h0M284.9 121.9h0M248.5 161.9h0M241.9 153.7h0M311.7 76.3h0M251.1 161.5h0M227.2 176.2h0M338.1 73.1h0M280.1 163.4h0M344.4 52.8h0M282.7 136.1h0M323.3 97.3h0M318.9 127.9h0M298.7 129.9h0M374.2 61.3h0M281.4 110.8h0M289.4 133.6h0M315.1 107.4h0M384.5 18.9h0M324.0 80.0h0M241.8 157.6h0M240.7 140.9h0M302.3 106.2h0M303.0 127.1h0M271.8 132.7h0M295.1 154.0h0M271.5 139.3h0M270.7 147.0h0M317.9 98.1h0M309.4 76.1h0M316.1 129.7h0M279.0 104.1h0M341.2 77.7h0M377.5 56.5h0M301.1 115.3h0M284.3 141.3h0M285.1 127.0h0M272.4 137.0h0M357.0 45.4h0M352.2 74.3h0M280.3 113.6h0M321.5 68.4h0M225.4 148.4h0M288.6 110.6h0M253.7 157.7h0M349.9 39.6h0M215.2 157.0h0M318.5 70.1h0M239.0 151.8h0M310.3 117.9h0M320.7 104.8h0M250.1 176.9h0M258.4 123.9h0M381.4 60.5h0M266.7 164.6h0M288.0 148.5h0M316.3 99.2h0M338.1 86.3h0M296.6 120.7h0M322.9 72.3h0M271.4 125.1h0M328.8 73.4h0M289.9 162.9h0M250.8 165.5h0M352.5 69.0h0M311.7 93.5h0M306.2 125.8h0M266.9 144.2h0M237.1 158.5h0M347.4 65.0h0M277.8 128.7h0M241.9 176.4h0M290.2 136.5h0M311.6 137.4h0M254.8 113.0h0M244.0 147.4h0M314.5 116.0h0M239.9 135.3h0M292.6 92.9h0M302.4 81.7h0M359.0 56.4h0M258.9 173.6h0M308.6 179.8h0M281.9 122.1h0M213.7 142.9h0M340.4 69.9h0M277.0 110.5h0M380.9 46.5h0M308.8 97.3h0M316.1 90.7h0M289.3 132.6h0M219.3 161.5h0M291.0 105.0h0M316.0 75.3h0M322.3 89.8h0M302.6 107.2h0M298.9 108.7h0M306.2 156.0h0M276.2 177.5h0M295.1 140.1h0M249.7 135.6h0M287.3 137.0h0M314.1 90.2h0M368.9 36.7h0M234.0 174.3h0M242.0 137.2h0M237.6 140.1h0M356.4 70.3h0M372.9 44.5h0M358.0 64.2h0M300.8 124.0h0M296.0 114.3h0M241.8 157.1h0M298.8 125.2h0M376.1 51.9h0M298.9 96.3h0M278.8 116.7h0M291.5 152.5h0M314.5 163.9h0M253.5 139.9h0M313.3 78.7h0M259.7 178.7h0M280.1 104.7h0M259.2 128.3h0M382.8 23.1h0M288.4 100.9h0M315.3 79.3h0M343.5 83.5h0M240.9 138.9h0M351.7 70.9h0M343.0 77.4h0M283.7 131.6h0M264.7 158.7h0M269.8 123.3h0M215.2 155.2h0M258.9 114.7h0M271.2 182.9h0M297.6 143.4h0M301.4 220.2h0M286.7 101.5h0M286.2 126.4h0M330.3 109.3h0M249.3 166.3h0M375.3 39.8h0M277.2 130.5h0M310.0 102.9h0M240.4 172.8h0M347.7 76.5h0M317.4 124.2h0M315.6 117.8h0M318.6 77.2h0M317.9 77.7h0M210.2 158.2h0M271.7 149.2h0M281.9 182.8h0M355.9 43.0h0M241.2 149.2h0M314.4 118.3h0M301.8 95.6h0M271.5 135.9h0M302.4 97.9h0M250.0 144.3h0M335.9 60.2h0M304.7 101.8h0M245.9 132.3h0M292.0 105.9h0M265.9 116.4h0M290.2 124.3h0M301.7 104.7h0M215.4 167.1h0M248.4 162.1h0M305.0 120.4h0M230.7 145.0h0M302.9 83.7h0M294.1 121.9h0M361.9 58.4h0M309.3 93.3h0M355.6 50.6h0M254.5 153.4h0M365.8 40.0h0M309.0 96.0h0M236.8 128.2h0M319.7 104.1h0M261.7 133.6h0M259.1 155.9h0M236.3 141.4h0M292.1 100.6h0M275.3 167.5h0M357.9 54.5h0M257.9 150.1h0M269.2 128.2h0M275.1 144.1h0M328.2 111.8h0M318.7 90.5h0M279.2 118.4h0M256.5 128.0h0M232.7 161.4h0M256.1 140.9h0M290.6 110.1h0M301.0 103.5h0M308.2 97.3h0M358.5 80.5h0M304.0 102.6h0M308.9 77.2h0M367.8 60.9h0M283.3 170.2h0M246.3 145.8h0M338.5 51.7h0M249.5 151.7h0M381.2 30.5h0M252.6 170.1h0M297.7 161.6h0M251.9 168.4h0M270.3 137.8h0M320.0 74.8h0M338.3 74.0h0M295.8 115.5h0M344.1 75.5h0M251.4 129.4h0M305.9 171.3h0M329.5 81.0h0M306.7 76.3h0M342.2 87.1h0"/><path id="k11" d="M307.5 110.0h0M391.0 37.6h0M367.7 47.5h0M267.5 127.7h0M278.4 102.3h0M323.6 64.4h0M285.9 110.6h0M263.0 129.9h0M302.4 138.8h0M304.4 113.6h0M265.4 141.0h0M282.1 114.4h0M244.9 133.0h0M273.9 136.4h0M261.4 136.8h0M349.0 67.9h0M375.7 44.3h0M270.3 144.1h0M351.3 85.6h0M323.9 74.8h0M288.3 103.6h0M225.2 150.2h0M318.0 72.9h0M300.7 131.4h0M299.7 166.3h0M263.3 165.1h0M336.3 110.5h0M251.2 156.5h0M352.5 78.4h0M314.5 96.4h0M389.1 18.2h0M260.7 155.4h0M243.9 138.0h0M298.5 143.0h0M321.4 130.7h0M274.3 117.1h0M280.9 141.7h0M280.6 119.5h0M324.8 87.7h0M298.4 134.1h0M306.5 107.7h0M257.4 132.2h0M340.1 80.7h0M232.9 179.0h0M356.8 56.1h0M232.1 143.7h0M382.5 49.1h0M358.3 88.4h0M329.9 89.7h0M278.4 116.9h0M339.5 77.0h0M358.2 59.4h0M267.4 128.6h0M378.7 43.6h0M287.1 109.6h0M234.1 167.0h0M310.8 111.6h0M299.4 125.2h0M262.8 176.5h0M260.4 150.8h0M294.8 145.4h0M251.3 117.5h0M264.7 160.7h0M349.4 63.7h0M316.4 131.5h0M360.0 60.7h0M297.6 110.0h0M253.2 142.3h0M309.7 108.7h0M272.9 148.7h0M347.7 94.3h0M285.4 141.2h0M289.5 135.8h0M313.2 90.4h0M261.9 156.8h0M228.7 135.7h0M350.1 60.9h0M360.0 43.9h0M332.4 63.9h0M301.0 89.9h0M267.5 123.9h0M279.5 123.6h0M270.5 139.5h0M252.7 156.0h0M283.2 107.1h0M308.9 101.1h0M238.2 169.9h0M251.9 125.9h0M285.1 119.4h0M287.7 143.5h0M318.2 101.9h0M255.7 123.0h0M346.2 57.6h0M266.2 106.0h0M277.1 133.4h0M256.1 147.9h0M353.9 41.9h0M284.4 113.4h0M302.8 123.5h0M267.7 113.0h0M346.6 94.0h0M305.7 105.1h0M234.9 167.9h0M310.7 91.2h0M295.3 115.2h0M337.1 65.9h0M288.4 130.5h0M253.6 125.2h0M364.3 43.4h0M257.1 148.8h0M320.7 82.5h0M243.8 145.5h0M331.5 60.0h0M245.4 163.4h0M313.8 124.6h0M302.7 102.6h0M303.9 107.9h0M319.9 135.9h0M283.1 96.8h0M296.2 122.9h0M312.7 73.1h0M331.2 93.3h0M289.1 152.8h0M245.8 150.2h0M337.1 90.5h0M287.9 127.8h0M351.4 65.3h0M260.2 147.8h0M292.6 125.8h0M358.3 61.3h0M351.3 59.2h0M294.0 93.3h0M300.6 148.8h0M220.3 149.7h0M238.4 128.6h0M245.1 143.3h0M289.5 124.9h0M338.9 94.4h0M280.0 138.0h0M248.2 131.9h0M312.7 99.1h0M211.9 171.1h0M319.4 113.7h0M273.0 192.4h0M277.4 166.2h0M242.3 152.5h0M324.7 92.5h0M239.2 162.0h0M364.2 67.2h0M293.6 98.9h0M273.3 127.2h0M330.3 64.2h0M248.1 153.7h0M241.0 134.4h0M282.4 122.0h0M291.9 84.9h0M324.0 101.4h0M240.3 178.4h0M297.9 104.8h0M306.5 91.8h0M285.3 118.2h0M326.9 54.9h0M299.0 114.0h0M360.3 27.0h0M336.1 75.2h0M332.2 83.1h0M244.0 162.6h0M267.9 116.6h0M270.1 201.0h0M304.2 123.4h0M310.7 110.3h0M265.5 142.3h0M259.2 188.1h0M300.7 109.0h0M322.1 100.6h0M265.2 107.6h0M283.6 118.1h0M270.2 128.0h0M270.6 131.3h0M278.7 104.0h0M315.6 118.8h0M368.1 37.5h0M319.9 93.7h0M380.2 54.4h0M316.8 111.2h0M260.3 138.5h0M295.0 106.9h0M345.8 82.5h0M351.6 72.2h0M316.2 123.8h0M368.3 41.2h0M313.1 103.8h0M305.8 96.7h0M240.6 148.3h0M245.8 145.6h0M323.8 101.2h0M282.5 95.1h0M329.2 92.5h0M362.5 54.0h0M302.8 103.6h0M347.7 66.2h0M244.3 149.0h0M348.9 83.9h0M276.1 159.5h0M301.2 138.9h0M312.0 157.4h0M301.3 84.9h0M379.3 23.7h0M266.2 162.0h0M255.2 169.6h0M277.8 150.5h0M307.4 120.5h0M241.3 166.7h0M327.6 72.9h0M250.5 166.8h0M316.8 60.5h0M222.2 142.4h0M266.7 150.6h0M347.9 63.2h0M269.7 174.6h0M248.6 160.4h0M320.4 116.8h0M278.3 149.4h0M241.5 139.7h0M336.6 60.3h0M224.3 147.8h0M321.8 98.9h0M287.0 128.4h0M269.3 146.0h0M270.3 133.2h0M317.1 81.6h0M347.1 73.9h0M244.2 164.3h0M343.4 57.8h0M269.4 163.5h0M312.5 134.8h0M236.8 149.1h0M269.9 147.0h0M239.2 171.9h0M277.9 123.8h0M317.0 80.2h0M292.8 102.8h0M274.6 136.0h0M276.4 164.4h0M251.7 147.2h0M372.2 51.3h0M351.4 85.8h0M281.8 110.5h0M380.4 50.5h0M329.9 100.0h0M330.4 87.2h0M297.5 131.9h0M299.0 126.0h0M248.2 174.3h0M276.1 130.5h0M242.3 138.0h0M260.8 149.7h0M372.9 30.7h0M278.0 131.8h0M279.0 135.2h0M282.3 162.9h0M236.2 183.4h0M361.0 30.7h0M246.5 137.7h0M345.1 83.7h0M334.6 89.8h0M321.8 75.8h0M353.9 30.7h0M327.4 92.3h0M272.4 132.2h0M273.0 166.0h0M255.3 155.3h0M260.7 146.0h0M304.3 86.0h0M367.2 40.0h0M378.2 43.7h0M268.7 118.4h0M381.5 43.4h0M297.4 140.4h0M218.6 173.1h0M330.7 58.5h0M335.2 83.5h0M264.6 145.4h0M278.0 133.1h0M275.8 165.8h0M320.6 85.8h0M314.1 96.5h0M240.9 201.0h0M281.5 157.5h0M240.0 166.2h0M370.0 46.0h0M299.1 117.5h0M268.0 156.0h0M269.7 122.8h0M342.3 76.5h0M238.8 164.9h0M320.6 59.6h0M264.6 160.3h0M349.2 46.9h0M286.8 122.0h0M249.8 142.2h0M244.3 182.8h0M357.5 61.9h0M231.4 178.5h0M342.5 118.8h0M300.8 84.3h0M372.3 33.8h0M382.2 37.2h0M355.0 80.2h0M379.4 52.3h0M366.9 50.5h0M276.0 111.6h0M331.7 122.6h0M275.3 145.4h0M305.2 146.4h0M349.7 60.1h0M366.9 55.1h0M279.3 155.5h0M343.4 92.2h0M302.2 105.0h0M288.1 178.4h0M315.2 94.3h0M255.6 158.0h0M317.9 59.5h0M272.5 108.1h0M304.9 140.9h0M323.6 80.7h0M289.3 120.6h0M313.1 106.1h0M343.6 75.9h0M314.2 84.5h0M258.3 117.5h0M247.5 158.0h0M303.2 113.0h0M279.8 108.0h0M311.9 89.5h0M352.6 48.6h0M242.2 184.0h0M318.2 90.6h0M259.4 140.5h0M313.2 98.6h0M328.7 62.0h0M340.4 102.7h0M290.5 156.3h0M294.0 127.9h0M329.5 93.3h0M256.8 169.1h0M314.2 110.0h0M243.4 158.6h0M262.0 183.9h0M346.9 60.9h0M226.1 208.6h0M305.6 105.1h0"/><path id="k12" d="M265.8 122.5h0M247.1 148.7h0M229.3 151.7h0M301.9 153.3h0M323.4 101.9h0M331.1 101.4h0M269.3 135.1h0M225.9 145.7h0M330.7 75.6h0M241.2 121.9h0M329.2 80.6h0M297.4 113.0h0M228.8 182.4h0M263.0 140.5h0M298.7 111.7h0M346.8 68.9h0M256.2 125.7h0M244.8 202.4h0M306.4 108.2h0M281.2 129.5h0M359.9 61.4h0M339.5 66.8h0M364.5 43.5h0M334.1 59.3h0M373.0 41.6h0M301.4 113.4h0M290.0 124.0h0M336.4 93.2h0M268.8 106.0h0M305.6 97.1h0M332.3 78.9h0M314.1 113.0h0M338.6 72.0h0M263.0 171.7h0M296.2 88.8h0M306.6 119.9h0M275.8 131.2h0M344.5 90.6h0M244.4 142.8h0M256.1 130.8h0M328.1 75.9h0M255.7 217.9h0M289.4 118.6h0M256.9 151.2h0M248.7 150.4h0M325.5 88.1h0M325.5 74.0h0M309.4 111.7h0M279.3 150.5h0M376.8 47.4h0M251.5 129.8h0M336.6 80.7h0M339.4 67.1h0M322.6 110.5h0M242.6 167.4h0M380.8 46.5h0M355.6 45.1h0M251.6 143.1h0M269.4 113.0h0M343.5 112.7h0M324.3 92.1h0M371.0 36.5h0M327.4 85.5h0M306.7 88.6h0M284.0 106.7h0M324.5 81.6h0M295.9 97.3h0M279.2 145.8h0M289.5 146.2h0M230.0 169.7h0M271.4 138.0h0M309.5 120.1h0M284.4 148.7h0M345.9 64.1h0M347.3 66.6h0M306.3 88.8h0M256.6 149.2h0M259.4 147.9h0M250.8 144.1h0M250.4 143.4h0M270.1 144.1h0M291.4 95.2h0M262.6 161.8h0M375.9 48.1h0M250.5 140.5h0M252.9 150.2h0M337.4 80.1h0M379.7 41.5h0M268.2 151.5h0M264.5 141.0h0M318.6 104.2h0M293.4 108.1h0M278.9 127.3h0M382.2 62.2h0M315.5 85.3h0M290.0 111.4h0M278.3 134.4h0M238.7 133.4h0M298.5 121.2h0M336.3 75.3h0M263.7 134.6h0M349.8 51.8h0M378.1 24.1h0M254.2 129.5h0M222.0 148.9h0M294.7 124.6h0M307.7 100.5h0M295.9 161.7h0M247.2 163.5h0M327.4 84.6h0M245.7 143.9h0M360.4 44.5h0M343.9 92.8h0M383.7 45.3h0M303.2 84.7h0M345.1 56.9h0M248.4 120.0h0M284.4 133.3h0M359.0 31.3h0M274.0 142.1h0M293.6 141.7h0M292.7 94.8h0M313.3 123.3h0M248.5 153.8h0M257.7 149.1h0M262.4 169.0h0M265.4 126.2h0M269.0 146.1h0M274.7 143.9h0M341.1 56.3h0M290.7 123.6h0M360.5 52.8h0M324.0 98.0h0M330.5 83.2h0M323.5 82.5h0M228.4 137.9h0M291.1 178.2h0M269.1 156.5h0M305.1 132.9h0M291.1 159.9h0M337.0 99.5h0M335.1 108.5h0M227.6 155.8h0M274.9 114.9h0M346.7 93.6h0M355.8 46.8h0M324.0 120.1h0M235.8 128.8h0M295.4 155.5h0M257.7 125.7h0M296.2 136.5h0M268.9 141.6h0M263.1 139.8h0M263.2 137.9h0M325.4 116.9h0M257.3 159.7h0M243.6 142.3h0M340.0 42.4h0M339.9 87.1h0M262.5 140.4h0M294.6 119.1h0M284.3 151.2h0M327.3 86.4h0M311.3 85.3h0M329.1 69.2h0M246.2 160.8h0M329.8 72.5h0M308.9 85.8h0M337.3 57.6h0M339.9 82.3h0M289.8 141.6h0M294.7 154.5h0M242.2 162.9h0M312.7 105.4h0M335.5 74.1h0M332.7 61.3h0M324.7 87.4h0M327.7 106.0h0M263.3 166.1h0M334.2 80.5h0M323.8 78.1h0M265.3 173.6h0M291.6 114.5h0M255.4 134.8h0M233.3 134.9h0M296.2 86.1h0M258.5 145.0h0M363.4 64.2h0M272.8 113.8h0M307.2 117.7h0M291.9 127.7h0M251.9 187.7h0M338.2 85.4h0M320.8 68.2h0M265.0 199.3h0M244.6 166.1h0M239.8 152.1h0M274.4 115.2h0M301.7 115.4h0M359.6 73.6h0M226.3 169.8h0M274.5 163.6h0M344.5 43.1h0M316.5 71.8h0M382.8 19.7h0M278.1 130.7h0M329.0 91.2h0M270.9 177.2h0M295.5 121.9h0M389.4 40.4h0M311.5 107.4h0M353.8 87.4h0M260.2 145.3h0M217.4 164.0h0M314.4 84.5h0M275.2 132.7h0M259.9 131.8h0M354.7 58.9h0M299.0 118.7h0M328.3 78.8h0M253.7 134.1h0M369.6 60.5h0M374.2 62.5h0M247.9 156.5h0M322.3 101.8h0M274.6 146.3h0M305.6 94.5h0M231.6 174.5h0M278.2 127.8h0M340.6 66.1h0M350.0 60.8h0M337.4 87.8h0M286.7 196.0h0M263.1 139.5h0M387.7 32.7h0M257.8 121.3h0M306.7 130.8h0M308.6 103.0h0M263.2 129.2h0M327.6 90.2h0M357.1 71.5h0M283.0 163.8h0M315.2 89.0h0M323.5 106.4h0M228.5 174.5h0M293.5 105.5h0M311.4 101.3h0M261.6 124.0h0M275.2 156.4h0M340.9 84.1h0M262.9 170.5h0M324.6 85.0h0M235.3 155.1h0M285.8 143.6h0M314.4 152.2h0M370.5 53.6h0M378.7 47.9h0M339.3 87.6h0M331.2 55.4h0M310.2 99.9h0M365.2 73.6h0M238.9 163.6h0M280.6 140.7h0M348.1 62.4h0M279.6 131.0h0M292.8 106.4h0M339.8 42.0h0M265.6 140.0h0M307.5 150.1h0M312.2 96.0h0M371.5 33.1h0M280.5 132.2h0M345.2 64.6h0M263.3 122.7h0M299.7 89.0h0M285.0 129.5h0M304.9 161.9h0M272.6 145.9h0M360.6 84.3h0M241.2 175.2h0M284.3 144.4h0M332.0 85.1h0M302.9 96.4h0M314.5 77.4h0M303.5 149.6h0M259.5 150.5h0M294.6 100.3h0M301.8 131.3h0M342.7 56.0h0M259.2 134.5h0M282.6 139.3h0M341.6 87.0h0M356.7 50.7h0M296.6 140.7h0M327.9 71.2h0M346.3 103.1h0M341.1 100.0h0M371.8 26.8h0M235.1 145.4h0M289.5 120.2h0M289.2 126.2h0M313.8 121.2h0M332.5 64.6h0M252.8 166.7h0M238.3 150.6h0M316.2 114.8h0M243.2 135.2h0M353.6 67.2h0M369.6 38.5h0M253.7 158.6h0M279.7 101.2h0M252.5 124.3h0M331.0 92.5h0M377.0 50.2h0M226.3 143.0h0M367.1 81.5h0M292.2 144.5h0M244.9 143.4h0M250.7 143.4h0M348.9 76.2h0M372.1 52.6h0M247.9 125.8h0M367.4 48.9h0M291.3 124.3h0M274.1 118.1h0M295.4 117.3h0M276.0 148.6h0M236.8 160.8h0M300.6 78.6h0M253.9 129.6h0M277.6 134.2h0M317.4 78.5h0M317.3 106.1h0M277.4 125.5h0M234.3 127.9h0M362.2 38.5h0M298.1 83.6h0M313.2 77.6h0M260.7 113.9h0M253.1 158.5h0M381.7 46.4h0M328.0 92.6h0M317.3 101.4h0M268.9 150.5h0M301.1 108.4h0M386.8 20.8h0M296.4 134.5h0M268.3 146.2h0M235.5 162.5h0M280.7 95.0h0M271.9 160.5h0M345.4 73.2h0M384.5 24.0h0"/><path id="k13" d="M332.5 77.7h0M328.3 86.8h0M389.2 31.5h0M271.7 138.6h0M260.1 122.1h0M236.1 132.6h0M265.4 172.8h0M315.8 114.5h0M279.3 153.8h0M256.2 118.2h0M372.2 56.4h0M283.2 140.7h0M367.5 46.0h0M349.5 58.2h0M254.0 192.7h0M241.2 166.1h0M321.8 112.2h0M297.6 113.7h0M270.2 180.7h0M352.9 79.2h0M293.6 132.9h0M376.0 28.6h0M335.7 79.3h0M380.4 46.0h0M356.1 59.4h0M276.5 116.5h0M273.5 151.3h0M343.1 95.5h0M382.7 54.3h0M294.2 92.1h0M327.2 61.2h0M289.2 146.8h0M286.0 106.5h0M230.3 147.9h0M253.7 123.1h0M286.7 156.4h0M374.6 62.6h0M354.7 48.5h0M377.8 36.1h0M329.7 70.1h0M254.0 142.2h0M249.3 155.7h0M245.7 130.6h0M356.6 77.7h0M328.5 70.5h0M331.0 76.7h0M316.3 75.8h0M281.5 124.5h0M383.9 46.5h0M296.6 114.3h0M359.2 63.9h0M251.4 135.5h0M325.6 111.0h0M358.5 47.9h0M343.2 52.4h0M256.0 117.2h0M240.1 158.4h0M290.3 98.6h0M252.3 147.7h0M350.4 88.8h0M273.7 120.5h0M282.9 159.7h0M246.3 156.9h0M334.6 63.9h0M262.0 150.2h0M284.0 112.5h0M321.6 84.0h0M286.2 141.8h0M247.6 176.7h0M288.1 104.6h0M336.7 82.7h0M263.2 123.5h0M258.0 138.4h0M292.0 123.9h0M315.3 79.8h0M265.4 167.1h0M289.6 137.6h0M355.1 62.6h0M248.0 144.4h0M315.3 122.8h0M261.5 116.1h0M342.6 59.4h0M215.0 149.3h0M248.3 149.3h0M309.3 97.7h0M325.8 123.5h0M255.7 167.9h0M302.6 99.2h0M279.9 128.5h0M352.3 68.1h0M261.7 120.4h0M333.0 90.0h0M346.6 77.6h0M234.0 167.1h0M284.1 130.9h0M288.8 157.6h0M314.1 91.0h0M350.2 81.8h0M325.7 113.6h0M285.6 105.2h0M358.4 40.6h0M312.5 69.9h0M276.3 137.9h0M367.1 42.1h0M285.9 123.3h0M311.4 88.2h0M269.2 131.1h0M313.1 101.0h0M379.6 48.3h0M283.1 151.6h0M283.1 118.0h0M258.0 133.3h0M315.9 113.9h0M286.6 99.1h0M271.2 136.8h0M295.9 138.9h0M320.2 96.3h0M344.9 62.5h0M251.4 233.2h0M328.8 101.1h0M268.7 118.1h0M290.7 151.0h0M222.7 169.9h0M363.1 52.8h0M252.1 139.9h0M331.9 112.3h0M265.9 145.0h0M300.3 126.7h0M280.1 122.5h0M343.8 80.8h0M307.4 84.2h0M351.1 51.8h0M358.8 57.8h0M290.3 133.1h0M268.0 158.8h0M379.0 37.9h0M378.3 75.4h0M245.9 128.6h0M316.4 106.5h0M274.1 106.8h0M309.2 110.3h0M329.9 70.1h0M310.9 98.6h0M258.1 142.5h0M282.0 183.1h0M277.7 155.9h0M259.8 123.1h0M274.2 120.2h0M233.1 190.6h0M240.4 166.4h0M256.7 162.2h0M266.1 114.3h0M294.9 165.4h0M255.5 152.8h0M355.6 61.9h0M277.5 137.3h0M345.8 73.2h0M354.2 44.0h0M265.0 116.0h0M263.6 148.2h0M291.9 120.6h0M282.2 147.4h0M262.2 192.0h0M382.2 36.6h0M320.7 80.1h0M363.0 48.5h0M383.1 37.0h0M327.7 77.2h0M344.1 78.3h0M305.3 80.6h0M299.7 131.8h0M275.2 123.7h0M280.1 167.0h0M299.4 109.2h0M299.5 107.0h0M328.6 70.5h0M345.9 68.2h0M278.6 145.5h0M322.6 101.7h0M381.3 19.6h0M288.8 125.2h0M273.0 156.9h0M326.1 101.2h0M362.9 63.8h0M329.2 55.5h0M346.8 46.9h0M271.0 136.5h0M359.4 45.5h0M326.8 71.0h0M354.6 77.8h0M210.6 162.6h0M320.7 85.1h0M248.3 147.9h0M282.0 146.0h0M366.1 32.6h0M369.3 46.7h0M288.5 113.6h0M277.6 104.4h0M322.2 92.8h0M291.3 138.0h0M358.7 96.6h0M289.9 115.7h0M295.6 108.9h0M262.7 130.1h0M294.7 143.1h0M300.2 89.9h0M268.1 125.3h0M339.2 53.2h0M343.3 79.1h0M294.0 95.3h0M271.2 126.9h0M264.6 161.3h0M235.5 150.4h0M292.9 117.9h0M314.6 81.1h0M308.6 114.3h0M268.1 153.5h0M252.8 138.8h0M319.2 86.8h0M280.9 115.9h0M298.7 99.1h0M277.3 130.4h0M316.4 131.9h0M305.1 107.2h0M329.5 51.6h0M277.2 141.4h0M356.0 44.0h0M315.4 117.0h0M287.7 108.6h0M338.6 84.6h0M283.1 155.9h0M309.8 102.2h0M248.5 161.5h0M290.9 129.7h0M257.5 135.1h0M324.1 112.7h0M295.7 110.4h0M296.0 144.3h0M304.5 134.3h0M296.2 83.7h0M314.0 130.5h0M214.9 154.0h0M286.2 103.3h0M308.3 140.1h0M373.0 69.8h0M371.7 67.9h0M269.5 115.3h0M283.1 141.3h0M323.2 89.9h0M248.0 128.3h0M251.4 190.0h0M319.7 105.5h0M327.8 90.6h0M280.5 145.7h0M319.1 85.4h0M290.8 115.6h0M251.7 197.1h0M301.6 96.6h0M241.3 154.4h0M322.0 112.8h0M304.2 105.5h0M302.9 109.0h0M278.2 122.8h0M325.7 66.5h0M317.9 95.4h0M345.7 89.5h0M369.8 39.0h0M260.5 136.8h0M308.4 82.1h0M257.8 129.5h0M311.6 118.8h0M378.5 41.9h0M303.8 141.5h0M289.6 106.8h0M285.7 157.1h0M284.4 136.2h0M299.0 116.7h0M245.5 141.2h0M252.5 182.5h0M349.5 65.9h0M293.6 110.6h0M362.1 36.9h0M239.5 143.9h0M385.1 33.4h0M290.6 96.0h0M281.3 137.5h0M239.7 163.4h0M318.1 106.9h0M340.2 94.1h0M351.3 55.2h0M270.2 103.5h0M327.4 75.5h0M238.9 173.0h0M267.5 124.9h0M312.4 97.5h0M262.5 139.7h0M362.7 41.7h0M271.9 111.0h0M289.3 162.3h0M244.4 163.6h0M262.5 143.1h0M278.0 120.2h0M330.8 77.1h0M266.7 151.3h0M308.7 106.3h0M337.4 100.6h0M329.2 88.6h0M284.0 115.4h0M361.3 45.9h0M322.3 99.4h0M276.5 100.7h0M314.5 136.6h0M271.4 134.6h0M248.9 132.6h0M306.4 109.1h0M332.9 94.6h0M258.9 136.8h0M266.3 140.0h0M221.7 153.2h0M357.2 57.4h0M375.7 27.9h0M297.9 90.4h0M268.7 175.9h0M212.9 168.0h0M307.2 117.4h0M326.5 39.9h0M346.1 52.4h0M276.0 106.3h0M292.2 137.6h0M282.9 104.1h0M289.0 149.8h0M336.9 86.3h0M311.3 118.7h0M325.0 100.4h0M268.9 123.6h0M277.7 151.2h0M306.0 91.1h0M304.6 118.1h0M276.1 113.1h0M270.7 124.0h0M261.5 135.0h0M322.8 82.0h0M317.1 115.8h0M280.3 104.8h0M299.2 128.7h0M275.2 130.4h0M238.6 134.7h0M262.1 139.3h0M298.0 129.0h0M305.2 88.4h0M329.9 103.3h0M296.8 106.2h0M279.7 144.7h0"/><path id="k14" d="M378.9 61.9h0M271.5 122.9h0M253.9 181.9h0M286.9 91.2h0M364.8 70.3h0M293.4 109.3h0M294.3 122.2h0M379.3 36.1h0M327.7 81.3h0M359.9 47.5h0M220.7 157.2h0M287.7 106.7h0M356.1 48.1h0M321.0 73.6h0M330.9 103.5h0M381.1 38.6h0M288.5 121.4h0M292.8 108.5h0M325.7 108.3h0M349.2 47.6h0M308.5 104.2h0M236.3 189.1h0M301.6 148.1h0M291.6 141.1h0M320.0 79.3h0M273.3 155.2h0M229.2 134.3h0M242.1 155.2h0M222.6 147.4h0M268.0 113.3h0M286.2 129.6h0M289.2 119.5h0M350.9 61.1h0M257.7 140.5h0M250.6 177.3h0M310.0 88.4h0M250.6 155.8h0M352.8 70.8h0M259.5 132.2h0M338.9 85.0h0M382.4 28.5h0M313.3 99.1h0M350.5 53.6h0M277.5 168.5h0M381.8 34.2h0M374.2 48.5h0M260.2 172.3h0M310.0 83.4h0M286.5 163.2h0M257.0 195.1h0M264.0 127.8h0M231.3 159.8h0M262.0 116.0h0M270.0 121.0h0M270.5 118.5h0M262.6 145.6h0M312.0 108.1h0M310.3 101.8h0M286.6 148.6h0M367.5 33.7h0M245.7 191.8h0M241.4 137.9h0M310.7 87.1h0M283.3 102.5h0M305.8 102.7h0M368.6 33.9h0M379.1 38.5h0M323.9 96.8h0M308.8 105.3h0M339.6 55.1h0M243.0 176.5h0M302.2 81.6h0M295.9 118.2h0M304.2 127.3h0M283.1 136.7h0M269.2 133.6h0M331.6 82.5h0M284.7 120.7h0M261.1 123.9h0M267.9 146.9h0M246.7 189.2h0M339.6 45.5h0M251.3 124.4h0M378.1 34.9h0M249.0 143.0h0M271.6 153.0h0M276.9 129.0h0M313.8 76.6h0M320.1 88.2h0M281.2 166.8h0M377.6 21.1h0M319.6 113.0h0M298.6 106.4h0M274.1 165.2h0M261.3 129.5h0M290.5 132.5h0M263.9 124.1h0M326.6 109.2h0M304.3 107.8h0M306.7 110.6h0M333.2 69.0h0M254.3 157.9h0M309.4 116.3h0M319.4 98.1h0M370.9 51.4h0M240.4 129.7h0M355.9 63.5h0M313.7 71.5h0M378.1 29.0h0M374.4 29.5h0M340.6 71.5h0M322.8 77.9h0M300.3 103.1h0M324.4 89.5h0M227.9 155.1h0M349.1 117.0h0M304.2 103.8h0M278.0 118.3h0M331.2 65.8h0M288.3 121.7h0M370.5 73.8h0M343.1 74.2h0M297.1 129.7h0M325.5 70.7h0M380.1 49.7h0M381.8 52.7h0M260.8 154.5h0M279.9 133.4h0M356.4 61.9h0M283.7 128.0h0M304.0 115.1h0M329.6 67.2h0M249.9 182.7h0M355.0 72.1h0M278.5 119.9h0M352.3 53.0h0M275.9 138.1h0M292.8 117.7h0M260.0 167.0h0M306.9 122.8h0M263.5 128.5h0M382.0 40.2h0M210.6 169.1h0M273.3 157.2h0M259.7 122.0h0M352.0 79.2h0M319.2 83.3h0M245.3 148.1h0M334.7 88.0h0M355.0 73.7h0M305.3 85.2h0M300.0 90.7h0M338.6 86.6h0M285.3 135.3h0M293.2 127.9h0M306.8 160.7h0M324.6 74.0h0M283.8 162.6h0M305.1 94.7h0M360.4 41.1h0M270.1 133.1h0M256.4 144.7h0M233.5 151.2h0M341.1 69.2h0M357.5 38.7h0M322.0 85.1h0M363.5 37.7h0M293.7 157.4h0M226.3 167.2h0M251.0 170.4h0M294.3 183.0h0M262.0 132.0h0M302.5 106.9h0M259.1 157.5h0M279.9 123.8h0M296.0 159.6h0M258.0 182.8h0M343.6 69.2h0M281.7 137.4h0M281.6 123.0h0M231.4 177.3h0M232.2 168.6h0M289.6 99.1h0M321.4 98.8h0M279.5 108.7h0M367.7 34.7h0M306.8 108.2h0M293.9 142.3h0M352.2 52.8h0M258.0 151.7h0M231.9 147.3h0M294.5 140.3h0M291.6 128.5h0M314.0 105.9h0M264.4 146.9h0M298.2 95.7h0M291.6 114.9h0M227.8 129.8h0M298.4 120.5h0M251.9 144.0h0M255.9 148.4h0M270.3 117.9h0M287.2 133.9h0M310.5 117.1h0M356.7 71.6h0M312.8 115.4h0M384.3 41.8h0M295.2 127.4h0M325.5 71.2h0M302.4 114.3h0M295.8 103.9h0M324.8 92.7h0M348.0 58.1h0M277.0 174.1h0M358.1 42.0h0M254.2 154.8h0M313.4 126.4h0M259.2 114.9h0M309.7 74.8h0M356.1 90.1h0M331.9 70.4h0M279.1 136.9h0M339.6 68.1h0M241.2 156.3h0M335.9 85.4h0M237.6 138.5h0M341.1 68.1h0M347.5 68.3h0M288.5 126.1h0M245.1 160.6h0M354.5 50.5h0M296.8 92.6h0M374.0 50.7h0M360.6 60.1h0M274.4 117.3h0M362.1 55.0h0M271.5 145.0h0M245.1 126.1h0M387.2 37.0h0M257.6 133.8h0M257.9 136.0h0M360.4 41.7h0M292.5 108.8h0M330.9 74.7h0M315.2 131.1h0M291.8 146.3h0M285.8 106.6h0M335.4 83.1h0M367.6 52.3h0M304.9 113.2h0M380.8 42.5h0M230.7 146.1h0M300.6 107.7h0M276.2 120.8h0M273.5 119.1h0M263.2 151.3h0M266.6 142.1h0M233.9 163.0h0M223.1 165.5h0M305.3 115.5h0M284.7 159.1h0M309.2 127.1h0M257.5 148.7h0M317.5 115.8h0M232.1 167.8h0M247.4 168.0h0M303.1 103.4h0M290.1 109.8h0M350.8 58.2h0M358.5 70.0h0M264.3 207.9h0M315.0 71.1h0M221.1 149.7h0M313.4 75.4h0M359.2 49.3h0M386.7 47.1h0M252.6 166.4h0M254.1 150.1h0M259.6 131.8h0M319.8 65.9h0M285.0 103.8h0M236.9 154.7h0M307.1 104.5h0M241.5 124.2h0M273.2 148.3h0M282.6 108.3h0M330.5 53.6h0M381.7 43.6h0M318.3 107.8h0M340.3 70.5h0M308.3 102.7h0M330.9 104.8h0M280.2 169.2h0M290.0 130.0h0M322.1 125.6h0M355.5 89.9h0M302.7 133.4h0M315.3 107.1h0M292.1 149.6h0M270.7 144.9h0M299.5 121.2h0M348.8 41.2h0M353.1 62.8h0M369.3 48.0h0M290.7 129.6h0M352.3 62.3h0M296.0 164.2h0M277.2 107.4h0M296.5 113.2h0M304.2 106.3h0M259.8 134.1h0M298.1 116.7h0M327.8 98.5h0M242.9 158.7h0M355.1 88.8h0M334.5 91.4h0M295.7 121.3h0M262.2 112.2h0M273.1 185.5h0M378.5 53.7h0M247.0 174.2h0M299.2 129.9h0M275.2 146.8h0M340.3 88.8h0M241.4 129.0h0M261.9 145.7h0M296.0 123.2h0M293.5 111.7h0M378.7 62.6h0M314.5 88.7h0M312.4 102.9h0M338.5 46.7h0M286.8 126.8h0M331.7 103.9h0M254.8 163.1h0M270.3 130.1h0M329.2 109.8h0M342.6 59.8h0M347.0 88.4h0M276.1 134.9h0M252.8 146.7h0M342.6 77.3h0M282.1 153.4h0M321.4 129.0h0M322.8 112.6h0M316.4 101.9h0M262.9 130.5h0M327.0 99.0h0M294.4 151.7h0M334.1 76.7h0M352.5 67.6h0M335.4 67.0h0M337.7 88.5h0"/><path id="k15" d="M311.2 123.3h0M274.5 147.3h0M301.5 150.5h0M245.5 147.0h0M266.6 146.3h0M283.9 144.4h0M257.1 132.5h0M329.5 61.9h0M316.1 148.2h0M248.8 143.3h0M265.8 158.0h0M237.6 132.0h0M320.5 108.3h0M272.9 118.0h0M380.6 30.4h0M234.1 138.9h0M353.6 70.2h0M281.9 144.0h0M304.7 109.7h0M297.4 123.9h0M319.4 98.7h0M280.8 138.9h0M265.1 155.8h0M266.1 149.9h0M296.3 119.3h0M264.7 125.5h0M297.6 113.4h0M315.7 93.7h0M368.1 56.7h0M369.1 59.1h0M241.0 184.6h0M344.1 59.7h0M270.5 149.0h0M243.5 199.0h0M267.8 124.1h0M306.0 135.4h0M364.9 45.3h0M285.7 136.2h0M366.9 49.7h0M355.8 73.1h0M355.7 83.3h0M254.3 144.7h0M282.1 116.0h0M265.7 172.5h0M252.3 159.2h0M261.1 134.9h0M293.2 101.4h0M265.6 169.2h0M361.2 41.5h0M269.4 125.1h0M260.2 144.4h0M211.3 162.2h0M317.9 83.6h0M356.0 81.0h0M371.4 37.1h0M376.8 61.6h0M337.6 74.0h0M341.0 76.7h0M288.1 114.8h0M341.0 89.3h0M291.7 126.3h0M347.2 56.5h0M310.4 110.5h0M268.0 163.3h0M320.3 67.4h0M349.6 49.6h0M364.2 50.0h0M306.8 84.1h0M348.3 62.8h0M233.2 157.2h0M252.3 151.8h0M345.2 72.1h0M327.2 101.7h0M247.9 140.6h0M329.1 99.4h0M330.6 101.4h0M344.6 61.8h0M305.8 110.2h0M278.2 133.9h0M288.1 130.8h0M268.6 146.9h0M286.6 147.6h0M297.2 104.2h0M253.0 145.0h0M232.1 147.9h0M313.5 117.0h0M321.0 104.0h0M261.6 127.6h0M322.1 67.4h0M318.9 65.5h0M311.4 95.5h0M294.5 95.3h0M304.8 109.4h0M354.0 59.6h0M254.7 175.7h0M311.0 96.5h0M361.8 40.6h0M240.3 154.3h0M358.1 45.9h0M274.8 94.2h0M351.4 67.3h0M250.2 166.5h0M352.8 46.9h0M225.5 175.7h0M279.8 162.8h0M370.3 54.8h0M268.8 142.8h0M339.6 97.3h0M303.5 99.1h0M254.0 167.0h0M245.0 158.0h0M303.7 128.1h0M281.2 105.2h0M367.6 54.4h0M340.5 60.2h0M329.7 66.4h0M310.4 97.1h0M300.0 133.1h0M357.2 63.2h0M243.8 179.9h0M298.7 153.1h0M336.9 112.2h0M272.9 116.3h0M266.9 137.0h0M246.4 146.9h0M286.0 147.3h0M323.3 91.8h0M332.6 105.7h0M238.0 185.5h0M295.2 167.4h0M237.9 131.7h0M265.1 162.2h0M328.1 94.9h0M347.1 117.5h0M272.6 119.5h0M297.0 115.8h0M271.4 146.5h0M336.0 86.5h0M294.4 109.8h0M304.7 98.0h0M258.8 158.6h0M335.4 95.4h0M254.7 171.8h0M333.2 92.2h0M284.8 106.4h0M227.1 147.0h0M354.0 69.5h0M293.0 147.9h0M364.1 54.5h0M300.0 129.7h0M316.0 76.3h0M252.2 136.5h0M289.1 87.1h0M256.1 133.1h0M306.1 97.7h0M223.8 194.4h0M249.5 153.2h0M340.4 64.6h0M230.4 191.8h0M261.3 156.8h0M346.1 70.4h0M316.4 96.7h0M313.5 93.3h0M271.9 161.4h0M314.5 112.4h0M319.7 91.9h0M271.6 135.1h0M298.1 122.0h0M303.4 103.0h0M285.2 93.3h0M377.3 41.5h0M340.8 48.1h0M287.6 114.5h0M316.8 113.5h0M323.0 65.0h0M310.4 85.1h0M263.1 116.1h0M325.9 103.7h0M267.1 155.8h0M360.2 64.1h0M375.6 39.8h0M377.2 33.5h0M278.4 143.0h0M366.0 49.3h0M294.4 114.1h0M277.2 166.9h0M336.4 82.2h0M320.3 134.6h0M366.0 67.5h0M368.9 48.9h0M324.6 104.5h0M299.7 88.4h0M321.1 102.5h0M286.0 146.0h0M308.4 86.2h0M315.5 94.5h0M278.8 142.0h0M264.3 146.4h0M317.8 77.8h0M283.4 97.0h0M267.9 140.9h0M305.0 151.4h0M299.1 122.0h0M273.9 130.0h0M344.5 103.2h0M260.6 175.5h0M381.0 17.8h0M232.5 152.7h0M253.2 114.0h0M297.4 117.1h0M306.8 125.3h0M305.8 85.7h0M243.1 170.7h0M339.9 68.7h0M297.3 124.1h0M341.1 112.6h0M300.4 107.1h0M278.7 114.4h0M263.4 133.6h0M301.0 89.1h0M269.5 129.8h0M355.7 73.4h0M285.8 124.0h0M293.5 137.2h0M395.6 20.4h0M261.7 116.7h0M383.7 47.9h0M354.7 68.4h0M356.0 48.7h0M333.6 82.1h0M298.6 125.4h0M310.8 124.7h0M362.2 58.9h0M282.3 128.2h0M308.0 89.1h0M257.5 159.1h0M333.3 76.2h0M242.3 125.0h0M308.7 87.1h0M278.9 133.2h0M381.7 27.3h0M232.9 152.4h0M324.3 112.9h0M246.1 135.1h0M351.9 89.6h0M277.0 143.2h0M331.6 82.0h0M295.1 141.3h0M259.8 147.1h0M284.8 150.2h0M288.9 106.0h0M235.2 171.1h0M269.7 152.0h0M345.5 52.3h0M303.0 116.1h0M251.4 145.5h0M257.7 136.7h0M319.8 115.0h0M299.3 143.8h0M362.2 80.5h0M287.6 130.8h0M319.7 86.4h0M384.2 32.3h0M267.6 112.6h0M256.0 147.1h0M320.6 77.8h0M232.8 153.2h0M363.6 31.3h0M270.4 132.5h0M271.3 115.0h0M376.2 40.3h0M289.2 129.6h0M263.6 187.0h0M313.6 84.0h0M329.7 80.1h0M324.8 92.8h0M314.0 140.5h0M245.6 145.9h0M299.9 106.1h0M227.0 157.3h0M214.8 200.2h0M304.1 147.2h0M357.0 43.3h0M366.0 42.2h0M369.8 38.5h0M311.2 91.5h0M305.7 109.7h0M280.3 153.0h0M279.8 131.4h0M273.7 113.8h0M300.2 141.0h0M298.8 146.1h0M334.7 71.9h0M293.1 113.7h0M269.6 161.9h0M285.6 102.1h0M261.5 165.4h0M297.7 124.1h0M300.7 100.2h0M314.2 94.5h0M352.6 76.1h0M325.1 127.9h0M279.3 150.8h0M374.2 49.8h0M339.7 83.7h0M320.8 101.7h0M261.5 187.9h0M317.0 109.4h0M300.8 133.3h0M228.6 134.6h0M290.4 131.9h0M293.6 119.7h0M266.6 144.5h0M303.0 130.2h0M320.7 89.8h0M354.3 49.8h0M370.9 73.3h0M319.3 81.7h0M263.9 123.7h0M317.8 122.3h0M304.5 127.7h0M289.0 143.1h0M289.2 124.0h0M346.1 60.8h0M250.1 127.3h0M325.3 63.5h0M254.7 143.6h0M277.5 124.7h0M306.9 127.8h0M322.0 132.1h0M277.1 143.8h0M311.0 127.9h0M222.9 161.7h0M226.0 146.8h0M315.2 137.3h0M285.2 150.5h0M292.3 102.0h0M357.6 61.4h0M278.9 130.8h0M264.2 118.2h0M228.5 150.8h0M345.6 50.8h0M300.2 131.2h0M382.2 34.9h0M346.0 71.3h0M316.0 140.2h0M304.8 148.0h0M350.6 90.3h0M304.4 165.7h0M269.9 114.8h0M327.4 86.6h0M301.3 147.9h0M377.5 39.9h0"/><path id="k16" d="M239.1 151.0h0M306.2 100.3h0M364.2 35.8h0M303.7 115.4h0M318.0 139.0h0M274.8 138.7h0M310.1 110.1h0M255.9 160.1h0M224.9 174.7h0M289.9 145.7h0M341.6 65.1h0M255.4 151.1h0M293.8 139.1h0M319.2 78.0h0M256.0 150.2h0M312.8 85.8h0M278.6 113.5h0M370.6 47.5h0M282.1 124.6h0M255.6 130.9h0M322.4 80.3h0M316.5 113.7h0M306.2 113.0h0M349.9 105.2h0M255.7 172.8h0M316.5 100.9h0M272.2 156.3h0M339.9 104.2h0M282.8 111.7h0M317.6 93.9h0M299.0 149.8h0M272.8 118.8h0M267.9 136.2h0M315.1 112.6h0M289.1 111.0h0M290.4 135.4h0M340.9 78.8h0M353.5 63.3h0M280.5 161.5h0M221.1 175.1h0M290.9 112.0h0M356.5 44.9h0M314.4 78.5h0M308.6 84.5h0M282.5 116.7h0M299.5 139.2h0M343.2 67.5h0M319.5 71.6h0M258.6 145.6h0M307.1 110.7h0M236.9 145.4h0M295.1 109.6h0M308.0 103.3h0M349.7 82.7h0M329.9 70.2h0M294.6 117.1h0M274.8 114.2h0M278.9 132.3h0M285.9 153.2h0M235.2 181.2h0M234.3 165.4h0M381.5 43.2h0M289.6 108.5h0M315.3 92.4h0M313.1 106.0h0M282.0 137.6h0M259.1 134.4h0M385.6 24.4h0M251.3 166.3h0M317.0 147.6h0M253.7 159.1h0M286.5 172.9h0M377.3 22.4h0M376.4 37.7h0M257.4 170.0h0M323.7 110.6h0M345.2 69.7h0M273.6 138.9h0M236.7 152.2h0M246.8 129.9h0M385.5 34.1h0M286.1 155.4h0M329.0 94.2h0M216.2 172.3h0M292.4 92.2h0M266.8 127.6h0M357.9 52.4h0M359.3 74.8h0M230.0 130.6h0M379.2 48.6h0M243.1 163.2h0M295.5 101.2h0M285.7 125.4h0M268.5 148.4h0M304.6 132.6h0M301.1 122.2h0M303.0 104.6h0M253.1 146.1h0M326.3 63.7h0M263.3 127.9h0M346.9 86.9h0M238.5 151.5h0M277.8 135.4h0M267.8 138.7h0M245.5 148.7h0M299.9 147.0h0M310.5 114.7h0M314.4 89.3h0M304.0 100.4h0M272.1 106.0h0M355.5 77.4h0M285.3 126.7h0M282.5 132.6h0M329.3 74.8h0M299.5 109.5h0M301.9 137.1h0M378.2 45.2h0M379.3 37.0h0M268.6 149.5h0M327.7 103.2h0M278.9 99.9h0M232.8 145.4h0M305.5 105.5h0M237.5 181.4h0M282.4 131.9h0M288.1 117.4h0M333.0 43.7h0M293.8 134.1h0M262.5 147.1h0M260.8 139.5h0M326.5 102.7h0M384.4 38.6h0M265.3 127.0h0M311.3 95.2h0M333.5 71.9h0M310.6 79.8h0M353.6 69.1h0M276.3 146.5h0M257.9 135.5h0M235.6 170.5h0M330.4 103.3h0M299.0 84.1h0M260.3 145.6h0M312.3 102.6h0M226.5 155.1h0M354.6 37.5h0M276.0 137.2h0M255.4 134.1h0M357.2 49.0h0M258.7 118.4h0M217.6 158.9h0M286.5 117.5h0M309.6 91.3h0M231.9 157.6h0M250.2 156.9h0M279.9 113.2h0M262.4 128.0h0M257.2 163.9h0M332.4 83.9h0M291.2 108.5h0M256.6 176.6h0M270.5 136.1h0M323.8 66.3h0M309.7 95.3h0M328.1 85.4h0M229.3 139.1h0M257.2 147.8h0M274.2 112.2h0M267.5 129.3h0M249.0 158.7h0M246.9 155.2h0M351.8 83.1h0M323.1 141.9h0M301.9 94.7h0M322.2 122.2h0M284.6 79.2h0M356.0 57.4h0M238.3 147.8h0M307.4 117.7h0M264.2 133.8h0M292.1 117.8h0M288.5 147.8h0M226.6 164.9h0M275.1 115.7h0M319.7 109.2h0M341.4 75.7h0M286.0 116.5h0M279.5 139.4h0M286.3 132.9h0M248.4 153.2h0M327.5 100.7h0M326.6 55.1h0M317.5 90.6h0M307.7 99.7h0M265.4 177.2h0M361.5 47.5h0M322.0 84.6h0M312.5 80.9h0M289.1 143.1h0M252.7 166.1h0M329.9 129.3h0M270.6 154.0h0M251.2 164.5h0M236.1 149.0h0M292.6 103.6h0M293.0 136.1h0M344.6 57.7h0M224.4 153.4h0M258.8 149.1h0M254.0 143.4h0M379.2 31.4h0M222.5 169.2h0M297.6 108.8h0M287.9 124.5h0M282.4 124.1h0M335.7 94.1h0M249.8 150.0h0M316.1 102.1h0M302.0 91.7h0M249.7 150.7h0M373.7 37.3h0M263.1 138.7h0M300.5 161.6h0M355.7 50.5h0M333.7 86.5h0M311.7 92.1h0M283.0 134.6h0M309.0 107.2h0M310.4 119.9h0M304.6 84.6h0M281.3 131.4h0M352.0 48.2h0M364.8 64.2h0M266.8 150.9h0M315.3 104.5h0M240.2 177.9h0M281.9 147.5h0M321.1 85.3h0M276.3 128.7h0M339.4 55.1h0M308.2 93.5h0M340.6 71.3h0M365.6 42.5h0M239.9 155.9h0M266.9 131.5h0M252.1 135.4h0M360.3 46.5h0M334.4 90.4h0M358.4 39.8h0M343.2 74.0h0M300.2 104.4h0M296.1 110.8h0M259.3 116.0h0M373.9 49.3h0M314.1 65.4h0M238.9 177.3h0M368.1 58.1h0M335.3 57.2h0M299.3 144.7h0M338.8 73.9h0M278.0 132.5h0M315.8 89.2h0M301.3 149.4h0M321.8 85.8h0M280.6 106.9h0M251.6 155.3h0M237.9 142.3h0M250.0 154.5h0M273.2 156.8h0M287.4 136.1h0M279.0 134.5h0M325.0 81.4h0M305.8 83.7h0M306.8 75.6h0M252.6 145.8h0M279.8 117.2h0M245.2 200.6h0M259.3 128.7h0M234.6 184.8h0M273.3 125.1h0M248.0 157.3h0M339.5 107.4h0M239.9 153.0h0M391.7 18.6h0M300.1 110.9h0M341.0 79.7h0M307.4 103.3h0M309.7 87.7h0M296.0 131.0h0M310.8 110.8h0M291.3 145.7h0M273.7 144.0h0M253.5 153.1h0M264.7 123.6h0M334.0 89.9h0M247.7 157.0h0M290.2 114.0h0M353.0 60.9h0M233.2 160.6h0M299.7 97.6h0M270.0 129.9h0M248.9 153.1h0M309.3 81.5h0M291.0 110.3h0M370.5 57.8h0M291.1 106.7h0M293.9 147.7h0M242.0 147.9h0M302.2 120.3h0M329.0 118.6h0M352.1 65.3h0M385.3 39.1h0M266.5 139.2h0M275.0 139.1h0M281.4 151.7h0M332.6 76.2h0M283.2 139.5h0M280.9 131.8h0M332.9 116.2h0M334.6 86.4h0M329.0 76.7h0M236.6 150.0h0M242.5 138.5h0M307.4 98.0h0M277.6 146.2h0M279.4 123.2h0M234.4 162.5h0M277.6 110.0h0M345.4 83.5h0M265.2 118.7h0M229.4 157.3h0M322.5 95.4h0M341.3 71.1h0M262.9 141.4h0M337.8 73.7h0M337.4 85.1h0M279.3 140.0h0M264.9 123.2h0M304.5 113.6h0M269.2 127.2h0M266.6 130.6h0M275.5 112.3h0M279.3 149.2h0M245.7 143.1h0M321.5 66.3h0M299.7 108.0h0M297.2 130.2h0M361.6 40.9h0M279.4 140.1h0M302.6 131.2h0M302.6 114.9h0M375.9 39.8h0"/><path id="k17" d="M253.2 146.5h0M323.3 105.5h0M308.5 143.7h0M238.3 172.9h0M249.2 169.9h0M244.6 147.6h0M312.4 120.9h0M329.0 59.7h0M318.0 84.5h0M308.0 81.0h0M359.7 61.3h0M340.4 84.1h0M345.0 70.5h0M291.3 123.2h0M388.4 24.5h0M244.2 138.2h0M274.0 128.5h0M301.3 138.4h0M261.1 164.4h0M387.5 36.3h0M273.7 133.0h0M347.5 76.3h0M253.8 113.5h0M261.5 119.6h0M270.4 148.3h0M290.2 163.0h0M329.7 86.2h0M376.8 72.2h0M283.1 128.9h0M239.1 147.3h0M265.7 126.9h0M302.0 100.3h0M376.3 47.0h0M360.1 61.4h0M352.2 110.5h0M335.8 53.9h0M384.2 37.3h0M303.5 135.8h0M250.0 129.2h0M258.6 133.3h0M280.7 108.5h0M249.6 171.5h0M300.6 134.6h0M280.6 113.2h0M331.6 68.7h0M376.0 35.9h0M256.8 144.8h0M321.3 85.8h0M262.2 126.4h0M267.8 165.5h0M283.5 178.5h0M248.5 122.0h0M250.1 114.9h0M214.3 157.2h0M363.4 69.8h0M298.2 99.0h0M253.7 154.6h0M365.7 43.7h0M238.2 153.5h0M309.8 112.5h0M303.5 87.2h0M312.2 110.9h0M297.2 131.0h0M236.8 189.4h0M250.4 142.7h0M331.3 111.0h0M254.0 133.4h0M281.2 149.0h0M297.9 91.5h0M365.3 36.6h0M274.8 107.9h0M340.6 96.7h0M250.0 151.7h0M280.4 150.2h0M379.2 43.9h0M238.0 164.0h0M307.8 92.4h0M353.6 80.5h0M261.6 142.1h0M252.5 145.6h0M387.6 38.2h0M247.0 141.4h0M311.0 96.4h0M326.1 131.7h0M352.4 43.4h0M326.9 76.9h0M375.4 50.3h0M272.1 147.2h0M300.3 100.0h0M267.5 118.8h0M285.5 99.5h0M262.5 134.8h0M288.4 137.3h0M314.3 80.3h0M307.1 102.6h0M364.9 40.1h0M382.8 42.5h0M238.3 140.8h0M220.0 172.9h0M360.5 46.3h0M375.6 55.0h0M372.6 39.8h0M381.5 36.4h0M261.4 118.8h0M286.4 148.8h0M328.4 118.8h0M263.7 157.6h0M377.3 24.3h0M316.9 110.5h0M215.0 167.5h0M235.2 165.5h0M300.7 98.9h0M221.3 156.9h0M265.3 147.8h0M294.2 149.4h0M336.5 90.7h0M365.0 68.1h0M298.8 127.1h0M269.0 115.8h0M238.8 184.7h0M283.0 140.5h0M290.2 129.3h0M291.3 110.0h0M262.1 136.2h0M277.5 138.5h0M261.8 149.8h0M277.7 138.3h0M323.7 94.6h0M274.9 131.9h0M298.3 135.8h0M315.6 85.6h0M314.1 95.3h0M214.6 166.7h0M339.7 48.5h0M268.2 105.9h0M335.3 62.4h0M264.6 126.2h0M277.7 112.7h0M271.6 153.9h0M339.5 77.3h0M329.8 92.6h0M247.6 155.6h0M237.8 197.0h0M386.5 45.8h0M354.6 97.9h0M308.0 79.9h0M293.8 97.3h0M299.9 115.9h0M281.4 127.3h0M263.0 177.7h0M314.9 89.4h0M267.5 139.8h0M274.4 131.0h0M340.5 70.1h0M277.0 160.7h0M273.5 163.4h0M291.3 107.4h0M299.9 120.7h0M251.9 172.6h0M362.1 70.1h0M395.4 22.9h0M259.0 147.0h0M253.8 133.4h0M240.4 149.1h0M282.4 113.6h0M275.8 139.5h0M316.2 121.3h0M243.4 156.4h0M303.7 112.1h0M252.3 136.6h0M376.8 50.5h0M297.6 107.5h0M243.4 148.7h0M269.5 177.4h0M345.9 79.7h0M338.9 93.8h0M297.5 132.7h0M252.1 123.8h0M347.6 90.8h0M245.1 157.7h0M332.1 87.7h0M367.4 25.8h0M250.1 184.2h0M311.4 153.6h0M296.1 132.5h0M283.2 111.4h0M297.2 145.1h0M369.4 35.6h0M312.7 94.4h0M329.8 82.8h0M281.6 103.3h0M248.1 127.9h0M327.2 74.6h0M247.9 189.2h0M333.5 70.7h0M246.0 158.9h0M339.3 68.7h0M281.5 138.8h0M248.8 171.0h0M263.1 222.1h0M358.7 53.6h0M350.1 90.3h0M276.5 146.2h0M342.9 78.9h0M249.5 147.4h0M243.7 162.6h0M263.5 127.4h0M328.1 83.3h0M339.4 74.7h0M357.0 79.7h0M327.8 89.7h0M286.9 171.9h0M266.8 133.7h0M271.5 157.9h0M282.0 131.9h0M346.3 77.9h0M253.1 166.1h0M264.1 112.1h0M279.5 105.9h0M306.0 121.3h0M354.0 87.5h0M271.6 107.1h0M290.8 142.4h0M321.3 113.4h0M253.0 144.0h0M326.1 67.8h0M249.8 149.2h0M318.9 105.4h0M284.0 99.9h0M272.2 136.5h0M260.5 159.4h0M250.5 136.4h0M343.9 90.2h0M357.2 59.0h0M312.5 94.1h0M301.3 116.8h0M299.7 92.1h0M242.5 169.0h0M270.6 166.3h0M235.5 160.8h0M335.4 52.4h0M255.1 169.4h0M260.1 168.3h0M382.6 44.8h0M270.4 132.2h0M340.4 58.0h0M350.5 60.4h0M288.6 138.3h0M305.8 114.1h0M339.7 71.6h0M344.8 56.8h0M268.6 117.6h0M297.5 118.7h0M303.9 153.2h0M380.7 44.6h0M330.4 120.0h0M284.2 118.3h0M290.9 111.5h0M347.0 73.3h0M263.9 118.8h0M280.8 139.3h0M250.1 167.6h0M280.5 94.6h0M244.1 124.5h0M383.3 44.1h0M309.4 100.4h0M297.5 84.0h0M263.0 132.5h0M329.5 54.7h0M371.1 57.7h0M266.2 158.1h0M277.1 121.5h0M365.5 33.7h0M348.3 60.4h0M251.8 131.5h0M371.8 45.5h0M377.3 35.9h0M275.9 147.0h0M348.3 53.0h0M253.4 143.7h0M305.8 89.7h0M376.9 51.3h0M334.5 67.2h0M251.8 140.5h0M401.4 29.0h0M286.8 110.9h0M342.8 64.0h0M320.9 97.6h0M278.1 145.4h0M320.4 80.9h0M294.5 114.8h0M301.6 128.0h0M374.9 52.8h0M333.0 76.7h0M283.7 100.4h0M307.0 95.7h0M315.3 112.5h0M379.3 25.7h0M346.2 55.8h0M232.9 168.3h0M266.7 164.3h0M311.9 97.8h0M290.0 134.0h0M283.8 123.6h0M275.4 140.3h0M270.9 164.5h0M260.0 150.2h0M334.8 83.2h0M322.0 103.3h0M331.4 80.7h0M340.7 84.7h0M320.4 81.0h0M375.0 55.6h0M246.2 180.1h0M242.6 142.8h0M305.4 74.0h0M258.7 144.6h0M268.4 118.7h0M322.4 89.8h0M278.2 121.0h0M323.5 81.2h0M285.7 151.3h0M333.2 84.1h0M297.0 124.8h0M276.8 112.3h0M365.5 74.1h0M292.6 129.4h0M284.8 133.3h0M342.9 76.7h0M308.0 106.8h0M387.5 29.5h0M317.3 137.6h0M380.4 77.1h0M236.6 163.3h0M251.9 160.4h0M310.6 89.6h0M279.2 128.1h0M370.2 42.2h0M221.8 153.9h0M231.7 186.3h0M271.2 134.9h0M316.2 124.2h0M264.7 147.7h0M300.8 143.2h0M327.4 73.8h0M261.1 137.3h0M319.1 71.5h0M379.3 30.6h0M345.9 69.7h0M261.8 140.9h0M347.9 53.3h0M334.2 103.0h0"/><path id="k18" d="M334.3 60.2h0M249.2 128.5h0M278.5 146.8h0M339.7 48.1h0M302.4 136.9h0M325.6 107.2h0M343.9 95.1h0M311.3 128.5h0M280.0 163.0h0M258.3 148.4h0M316.9 80.5h0M284.9 159.3h0M334.5 91.8h0M307.8 101.2h0M373.4 47.1h0M268.2 148.2h0M348.0 72.3h0M274.6 137.1h0M256.1 158.1h0M330.1 65.6h0M278.0 125.6h0M266.2 146.3h0M315.0 108.1h0M315.5 122.0h0M361.4 72.5h0M281.3 100.0h0M267.7 143.3h0M336.3 98.3h0M343.7 85.1h0M289.2 145.8h0M269.3 152.4h0M297.0 101.3h0M278.5 110.6h0M280.4 146.1h0M305.6 79.4h0M386.8 49.8h0M306.3 82.8h0M318.8 95.2h0M325.1 83.6h0M296.8 120.5h0M225.5 165.3h0M270.6 140.8h0M328.8 87.1h0M329.9 64.5h0M324.3 105.3h0M250.1 147.8h0M330.0 69.1h0M377.9 46.1h0M316.8 94.2h0M379.6 29.1h0M316.5 110.7h0M265.5 175.9h0M382.5 38.6h0M256.5 125.8h0M349.3 76.7h0M277.8 153.7h0M280.6 117.8h0M363.7 34.0h0M349.1 89.4h0M376.1 55.6h0M327.9 82.8h0M372.6 40.7h0M237.7 164.4h0M341.4 76.9h0M317.0 90.1h0M386.2 41.5h0M314.7 85.6h0M329.2 93.1h0M241.5 165.1h0M232.4 148.1h0M304.1 117.4h0M380.3 33.6h0M250.1 172.9h0M258.1 154.3h0M302.0 102.3h0M286.3 126.6h0M258.3 118.4h0M327.1 101.7h0M230.6 139.3h0M257.1 171.1h0M379.2 51.3h0M306.4 113.2h0M323.0 66.3h0M279.7 171.8h0M378.0 42.5h0M296.8 109.0h0M293.0 113.1h0M320.9 77.7h0M328.2 73.1h0M344.1 56.6h0M244.9 130.8h0M346.1 74.8h0M347.5 78.3h0M324.8 83.3h0M296.2 127.2h0M232.5 127.8h0M295.4 98.7h0M277.0 121.4h0M292.3 85.5h0M336.9 58.1h0M225.8 188.5h0M326.0 84.8h0M232.3 158.3h0M278.6 133.5h0M285.4 154.3h0M319.9 92.2h0M250.8 118.8h0M341.2 93.2h0M327.1 92.6h0M315.0 126.4h0M285.2 116.3h0M280.2 132.9h0M271.3 152.6h0M271.8 171.7h0M384.8 17.3h0M284.3 179.9h0M261.0 155.3h0M293.1 114.4h0M275.9 139.7h0M350.1 57.9h0M297.5 112.7h0M298.8 120.2h0M271.5 119.4h0M265.0 135.4h0M343.7 90.0h0M291.1 130.4h0M294.1 141.6h0M329.1 72.1h0M253.1 157.3h0M255.5 137.6h0M219.3 157.3h0M330.3 68.7h0M371.9 69.2h0M232.5 149.4h0M349.0 63.9h0M292.5 142.7h0M303.4 161.1h0M308.4 111.2h0M324.3 100.4h0M279.9 142.7h0M311.8 120.9h0M287.6 96.8h0M242.8 197.3h0M273.5 167.9h0M307.2 108.8h0M358.3 48.7h0M315.4 107.2h0M303.9 102.7h0M290.8 107.8h0M279.5 129.0h0M352.6 49.5h0M279.5 155.7h0M375.3 47.2h0M344.6 102.9h0M384.3 32.6h0M294.4 118.5h0M271.2 119.3h0M244.1 146.6h0M320.6 108.0h0M283.3 190.7h0M303.0 125.2h0M333.6 78.2h0M307.5 91.8h0M290.8 92.5h0M347.0 77.5h0M285.9 136.2h0M325.3 111.1h0M325.0 69.2h0M304.7 90.8h0M270.5 170.2h0M306.5 116.1h0M286.8 141.3h0M284.2 158.1h0M295.6 112.8h0M296.0 100.2h0M293.4 109.7h0M362.3 50.7h0M338.2 50.1h0M318.3 85.0h0M291.1 145.4h0M294.1 124.2h0M228.6 154.0h0M347.4 71.4h0M384.5 52.4h0M320.3 105.2h0M254.2 123.8h0M343.8 44.5h0M337.6 89.8h0M267.0 123.8h0M317.5 100.3h0M270.6 129.7h0M313.3 120.1h0M302.6 113.7h0M275.2 153.7h0M287.3 133.3h0M221.4 179.4h0M322.0 111.8h0M314.9 91.1h0M344.5 71.8h0M349.8 71.0h0M304.1 131.5h0M342.0 58.2h0M346.7 103.5h0M346.6 47.9h0M236.9 149.7h0M271.8 139.5h0M221.5 151.7h0M353.1 56.7h0M253.7 156.2h0M252.0 142.8h0M279.2 116.5h0M259.4 154.7h0M290.5 93.6h0M316.4 135.4h0M296.1 125.4h0M297.4 93.8h0M269.1 129.0h0M266.1 130.9h0M330.3 98.0h0M295.6 125.4h0M227.0 163.4h0M267.3 124.8h0M337.0 85.7h0M324.1 63.1h0M291.9 105.1h0M326.2 94.6h0M245.8 200.0h0M324.6 106.6h0M295.9 130.6h0M331.4 89.7h0M324.8 93.0h0M261.6 155.1h0M305.2 111.4h0M310.7 102.6h0M298.1 140.0h0M275.6 147.8h0M283.3 138.1h0M313.5 88.8h0M236.6 156.8h0M303.6 68.5h0M289.7 105.4h0M247.2 158.4h0M311.3 99.8h0M263.2 135.4h0M276.9 162.5h0M318.8 98.2h0M266.3 150.4h0M288.0 99.6h0M300.4 101.7h0M354.0 68.0h0M314.0 90.2h0M315.4 98.1h0M302.2 125.3h0M267.5 120.1h0M350.5 58.7h0M375.9 28.7h0M303.4 130.5h0M336.8 81.2h0M329.5 87.4h0M304.9 149.8h0M325.6 92.3h0M298.1 100.0h0M238.7 155.5h0M269.5 122.0h0M242.6 187.1h0M356.0 79.0h0M351.6 78.1h0M367.5 48.6h0M322.0 81.8h0M259.3 135.2h0M321.4 81.8h0M373.1 34.9h0M280.2 155.9h0M262.8 163.1h0M335.1 145.5h0M232.9 157.8h0M210.2 166.3h0M368.2 75.8h0M310.8 101.4h0M228.2 151.0h0M306.0 87.0h0M306.8 118.0h0M267.6 174.0h0M279.7 105.3h0M234.2 150.7h0M380.6 53.6h0M309.8 87.4h0M348.3 85.7h0M367.9 39.8h0M321.3 77.3h0M226.1 148.6h0M267.9 160.5h0M309.0 132.9h0M269.8 149.7h0M325.0 115.5h0M363.3 34.1h0M312.7 77.2h0M361.3 56.5h0M288.5 125.9h0M291.8 130.0h0M306.2 141.3h0M307.3 76.6h0M363.5 38.0h0M318.9 98.5h0M353.2 37.5h0M325.4 66.6h0M276.0 97.6h0M307.4 93.7h0M277.6 165.3h0M278.2 132.1h0M278.9 187.2h0M358.1 45.1h0M292.5 171.8h0M252.9 165.1h0M339.1 74.2h0M229.4 168.4h0M312.8 81.1h0M343.3 87.4h0M260.1 122.3h0M336.3 84.8h0M264.1 140.5h0M276.0 140.6h0M243.1 172.8h0M368.0 39.9h0M278.7 130.3h0M259.7 118.2h0M351.8 85.4h0M235.6 147.4h0M375.5 58.5h0M334.7 94.5h0M251.7 147.8h0M268.9 122.7h0M229.2 153.6h0M253.8 162.3h0M273.6 124.8h0M311.3 136.2h0M277.2 145.6h0M276.4 142.6h0M244.6 162.6h0M328.0 82.9h0M337.3 65.0h0M314.4 130.0h0M365.4 47.4h0M377.9 26.3h0M274.6 132.0h0M235.6 194.9h0M242.7 147.7h0M328.1 88.7h0M303.5 119.3h0M231.5 161.0h0M282.3 147.0h0M335.7 65.5h0"/><path id="k19" d="M317.8 121.6h0M323.0 84.1h0M344.3 57.1h0M333.2 113.4h0M260.1 107.5h0M375.9 50.4h0M280.1 120.1h0M302.0 138.1h0M296.4 87.8h0M217.3 160.6h0M301.0 154.4h0M367.2 50.6h0M232.7 160.1h0M289.3 99.0h0M299.7 101.5h0M249.6 133.3h0M292.6 119.0h0M318.6 147.2h0M277.8 150.5h0M304.8 132.9h0M294.3 121.6h0M267.8 144.7h0M334.1 80.1h0M254.2 169.3h0M232.9 181.0h0M225.7 186.6h0M366.8 55.8h0M375.3 66.3h0M293.0 150.1h0M273.6 99.8h0M342.3 101.5h0M338.7 66.3h0M267.9 159.3h0M334.6 71.9h0M351.0 41.8h0M318.8 102.5h0M237.4 145.1h0M309.7 79.6h0M268.9 126.0h0M285.4 115.8h0M284.0 131.0h0M297.2 145.0h0M342.4 57.5h0M283.3 177.4h0M272.6 101.7h0M240.4 185.1h0M266.9 142.6h0M264.8 121.0h0M316.6 118.2h0M337.0 91.6h0M335.5 57.7h0M296.0 107.2h0M362.2 59.8h0M297.1 90.1h0M298.4 106.9h0M312.6 122.2h0M306.7 115.8h0M309.1 95.4h0M258.3 175.9h0M318.9 108.4h0M266.1 171.9h0M290.8 149.0h0M242.4 140.0h0M243.2 156.0h0M333.5 60.2h0M281.3 181.2h0M264.5 182.9h0M312.3 99.1h0M275.8 163.0h0M330.1 66.2h0M302.3 96.7h0M283.8 107.0h0M355.0 33.6h0M264.1 134.7h0M306.1 106.0h0M265.5 160.3h0M336.7 111.0h0M292.0 127.1h0M388.0 32.5h0M350.2 103.5h0M265.1 146.1h0M252.5 115.1h0M240.2 171.7h0M326.4 103.3h0M304.9 123.3h0M384.9 53.5h0M281.3 123.1h0M322.1 77.9h0M238.8 125.5h0M392.0 29.9h0M244.4 138.3h0M375.5 55.6h0M342.7 70.2h0M255.9 157.9h0M300.0 92.6h0M307.5 84.1h0M302.3 78.8h0M294.6 85.2h0M374.9 40.0h0M372.4 59.8h0M276.9 140.1h0M276.9 108.0h0M272.9 145.4h0M292.4 117.2h0M284.4 132.1h0M246.4 186.3h0M247.8 156.8h0M337.3 75.3h0M357.0 60.4h0M291.3 140.8h0M323.1 73.2h0M274.4 134.0h0M341.5 80.2h0M327.1 95.3h0M238.0 126.1h0M289.9 119.0h0M244.1 156.7h0M217.4 159.3h0M284.5 136.1h0M269.7 129.8h0M300.8 90.8h0M257.2 123.5h0M275.0 155.8h0M342.7 75.1h0M279.3 149.9h0M282.7 151.4h0M265.1 152.8h0M321.5 133.9h0M261.3 172.0h0M246.2 181.5h0M383.3 46.9h0M305.8 168.9h0M235.0 156.8h0M299.5 97.2h0M275.4 149.1h0M249.7 127.5h0M314.4 81.8h0M305.9 132.4h0M298.9 103.5h0M268.8 143.4h0M250.6 148.7h0M306.1 150.0h0M354.5 60.4h0M263.7 116.3h0M340.4 71.7h0M278.7 109.1h0M315.1 111.4h0M256.7 129.3h0M259.0 148.1h0M300.2 82.2h0M269.2 150.6h0M274.9 120.7h0M276.5 154.5h0M291.8 121.2h0M241.5 164.9h0M370.8 53.2h0M301.4 118.0h0M289.5 104.6h0M281.2 87.3h0M258.9 140.8h0M334.7 85.6h0M316.0 70.0h0M285.8 156.1h0M278.0 159.2h0M312.8 122.0h0M257.7 141.7h0M381.8 46.1h0M386.5 40.2h0M256.7 143.3h0M343.1 152.7h0M275.6 142.1h0M311.5 132.4h0M284.0 143.5h0M347.3 67.8h0M347.0 77.0h0M260.2 132.0h0M271.8 147.4h0M271.4 156.2h0M251.5 169.6h0M285.8 110.7h0M261.8 155.8h0M296.6 129.2h0M246.8 171.4h0M374.5 37.1h0M353.6 77.1h0M250.4 149.8h0M311.1 120.0h0M296.7 92.8h0M288.2 96.1h0M356.4 62.8h0M300.6 120.3h0M350.6 118.5h0M381.6 39.4h0M304.7 83.0h0M255.2 145.6h0M360.9 50.0h0M342.4 41.6h0M283.1 134.4h0M276.5 130.2h0M322.8 105.1h0M334.3 73.4h0M315.5 106.6h0M290.3 114.1h0M281.1 146.3h0M340.7 59.6h0M318.2 72.8h0M305.0 96.8h0M260.8 173.7h0M375.5 32.5h0M258.1 127.4h0M258.7 141.1h0M286.7 158.2h0M389.0 35.1h0M271.1 152.9h0M235.6 145.7h0M323.8 88.9h0M371.7 59.0h0M263.7 196.1h0M369.5 50.3h0M242.9 179.9h0M254.6 151.1h0M335.0 70.9h0M327.1 104.7h0M238.2 142.3h0M303.9 136.7h0M305.5 99.2h0M304.7 99.1h0M261.0 142.7h0M335.8 63.4h0M287.8 117.0h0M278.7 165.3h0M330.1 88.6h0M311.3 93.9h0M359.5 39.5h0M316.4 63.0h0M276.3 138.0h0M310.9 102.5h0M326.5 67.9h0M350.2 67.7h0M263.7 142.5h0M219.1 186.1h0M376.0 37.9h0M324.3 97.4h0M260.1 144.4h0M327.3 138.0h0M342.4 87.8h0M255.1 153.9h0M254.8 144.7h0M341.9 82.9h0M281.6 129.5h0M287.0 145.1h0M307.3 114.9h0M345.8 67.8h0M294.1 118.5h0M286.1 123.1h0M258.2 138.1h0M295.7 145.6h0M271.9 147.8h0M308.1 134.5h0M326.0 87.1h0M343.5 69.3h0M353.4 56.4h0M285.6 108.3h0M287.9 107.3h0M251.3 159.8h0M250.6 165.5h0M258.4 160.3h0M274.7 136.2h0M236.6 171.7h0M345.9 57.3h0M284.3 104.2h0M262.3 111.4h0M275.9 138.2h0M230.5 155.2h0M300.4 114.2h0M261.0 126.6h0M221.3 168.4h0M336.5 82.0h0M253.5 142.2h0M294.8 118.2h0M325.9 77.3h0M362.0 74.8h0M290.3 127.9h0M237.9 143.7h0M290.3 117.7h0M331.9 78.8h0M294.9 147.5h0M277.5 157.2h0M319.9 67.3h0M279.5 144.5h0M328.4 82.6h0M261.1 131.0h0M367.7 25.5h0M287.4 136.8h0M294.5 130.7h0M310.0 89.1h0M285.4 110.1h0M284.5 114.5h0M296.7 100.8h0M321.0 118.2h0M331.9 90.0h0M308.2 126.6h0M344.5 71.0h0M249.0 138.9h0M282.9 111.5h0M382.1 41.1h0M310.0 106.1h0M296.8 81.5h0M308.9 83.7h0M310.1 117.7h0M311.2 97.8h0M312.3 98.7h0M263.9 136.7h0M281.5 127.2h0M380.7 48.9h0M244.6 158.8h0M306.1 120.1h0M340.6 84.1h0M234.1 211.4h0M312.2 81.0h0M307.2 97.8h0M273.9 158.0h0M318.9 60.9h0M299.2 127.1h0M316.0 93.8h0M284.0 108.7h0M344.9 63.7h0M253.3 156.5h0M332.1 78.2h0M272.4 144.7h0M322.7 80.9h0M334.9 84.9h0M334.9 59.2h0M336.8 85.9h0M284.2 92.4h0M380.5 61.2h0M212.9 142.7h0M244.2 173.9h0M303.7 98.1h0M345.4 50.4h0M276.0 166.3h0M290.9 155.1h0M304.5 85.4h0M286.2 125.7h0M325.5 79.4h0M319.3 112.4h0M298.5 108.8h0M279.2 163.0h0M343.6 83.5h0M307.8 147.0h0M340.9 108.7h0M382.1 44.4h0"/><path id="k20" d="M352.2 60.4h0M243.3 142.6h0M308.1 106.2h0M289.0 138.0h0M267.7 145.0h0M290.3 154.1h0M297.1 122.6h0M332.3 85.6h0M255.2 132.2h0M253.4 156.2h0M262.1 107.7h0M251.0 164.0h0M249.5 173.4h0M285.5 124.1h0M287.2 89.9h0M261.9 132.2h0M252.1 129.0h0M330.3 79.7h0M272.9 160.1h0M346.0 63.5h0M368.4 60.6h0M296.2 149.4h0M364.3 56.2h0M257.5 129.4h0M284.5 136.3h0M320.3 76.7h0M342.3 57.9h0M331.3 95.3h0M337.3 76.5h0M257.1 155.1h0M258.0 140.9h0M317.9 109.6h0M284.4 156.6h0M257.0 141.3h0M379.2 41.8h0M352.1 68.3h0M352.6 72.6h0M309.6 87.1h0M274.2 194.3h0M376.5 35.0h0M253.8 155.6h0M331.3 100.7h0M318.3 181.7h0M305.2 75.7h0M378.0 66.0h0M311.9 138.0h0M300.6 130.1h0M311.0 167.7h0M291.0 114.4h0M331.6 70.5h0M371.6 52.4h0M388.5 31.5h0M327.8 64.7h0M382.1 41.1h0M302.6 118.1h0M272.1 120.4h0M327.5 121.4h0M288.7 136.5h0M283.1 153.7h0M372.4 48.4h0M286.6 115.1h0M376.8 44.9h0M239.7 162.2h0M319.5 135.3h0M280.1 163.0h0M331.9 97.8h0M293.5 140.0h0M257.5 128.1h0M332.2 102.1h0M302.1 88.0h0M325.6 89.4h0M308.0 92.7h0M379.1 41.2h0M371.2 42.5h0M247.4 173.1h0M263.2 143.8h0M248.7 135.7h0M289.1 127.7h0M233.9 143.9h0M315.6 82.9h0M270.0 119.7h0M328.9 64.0h0M308.1 127.1h0M280.7 121.3h0M306.0 110.7h0M247.5 171.5h0M297.3 100.1h0M280.0 160.7h0M237.0 130.4h0M232.7 154.2h0M290.5 139.8h0M318.7 99.3h0M297.6 154.8h0M334.6 86.1h0M344.8 65.1h0M378.0 40.9h0M260.4 123.0h0M373.1 39.8h0M361.5 54.8h0M382.1 67.5h0M235.3 168.7h0M291.5 120.3h0M292.4 130.8h0M319.5 115.3h0M276.0 179.9h0M305.5 117.0h0M293.8 149.9h0M247.4 118.5h0M272.6 147.0h0M339.1 60.4h0M284.3 107.0h0M270.1 135.8h0M314.8 102.5h0M250.3 157.2h0M317.2 95.0h0M356.7 63.1h0M289.1 140.5h0M383.9 53.5h0M261.7 148.6h0M321.1 73.9h0M302.9 131.3h0M319.0 107.4h0M334.0 70.6h0M313.9 116.5h0M287.9 142.0h0M325.2 113.7h0M268.0 185.7h0M326.6 94.7h0M273.9 156.4h0M273.6 102.1h0M302.6 132.8h0M326.5 85.2h0M341.7 88.4h0M357.0 66.6h0M346.4 53.2h0M330.3 81.0h0M261.1 114.8h0M330.5 77.3h0M287.3 131.8h0M244.3 163.5h0M311.7 108.9h0M259.1 170.5h0M313.3 131.0h0M290.9 128.3h0M241.8 177.3h0M254.5 134.5h0M338.2 86.5h0M317.9 120.6h0M276.1 123.4h0M363.2 45.8h0M318.7 99.9h0M329.9 64.1h0M235.1 147.3h0M267.4 127.8h0M260.1 152.2h0M286.2 142.8h0M367.2 57.7h0M289.5 108.8h0M336.5 72.1h0M272.7 184.1h0M347.9 77.2h0M272.5 161.0h0M244.9 152.1h0M284.4 150.7h0M302.6 140.6h0M316.5 78.5h0M276.7 143.1h0M300.9 115.1h0M388.7 40.5h0M361.9 37.5h0M276.2 107.6h0M312.6 104.6h0M301.8 87.3h0M265.9 149.4h0M377.5 53.6h0M243.0 141.5h0M325.1 71.0h0M330.9 73.6h0M311.6 100.4h0M295.2 90.4h0M296.8 83.0h0M274.8 157.2h0M286.3 145.2h0M268.3 127.9h0M275.7 196.7h0M292.4 109.0h0M299.4 87.4h0M258.2 119.3h0M318.1 113.8h0M328.8 61.6h0M353.7 81.0h0M322.5 103.9h0M304.4 124.2h0M278.7 143.4h0M256.9 193.8h0M357.4 53.0h0M292.7 114.6h0M380.0 27.7h0M303.0 137.4h0M240.7 146.6h0M336.8 58.4h0M249.5 136.9h0M288.1 122.7h0M370.7 64.2h0M232.6 151.9h0M227.8 158.3h0M278.2 119.3h0M357.9 58.6h0M224.0 162.0h0M334.0 81.5h0M298.9 114.7h0M336.8 77.4h0M383.8 20.7h0M313.7 124.0h0M244.0 177.3h0M256.3 142.4h0M278.3 131.5h0M345.3 75.3h0M328.1 72.1h0M251.8 167.4h0M278.1 97.8h0M231.6 171.4h0M323.1 110.8h0M357.0 56.6h0M288.4 116.2h0M257.2 113.5h0M238.4 150.9h0M316.9 90.4h0M272.4 155.8h0M259.6 163.1h0M246.3 147.9h0M324.2 132.0h0M357.5 61.1h0M379.1 39.0h0M268.2 128.7h0M250.7 190.5h0M376.5 52.2h0M231.7 159.9h0M331.3 80.5h0M344.8 80.0h0M260.6 130.0h0M242.2 122.8h0M347.1 57.4h0M248.9 145.4h0M315.1 114.4h0M300.7 104.5h0M326.7 97.7h0M334.5 57.3h0M271.2 128.0h0M269.1 192.8h0M284.3 106.7h0M229.3 165.8h0M280.8 118.5h0M293.7 100.6h0M297.1 128.8h0M320.7 119.7h0M264.7 156.8h0M272.4 122.9h0M341.1 73.0h0M236.1 149.5h0M261.6 126.3h0M304.7 100.2h0M241.0 164.5h0M315.0 87.0h0M357.7 56.5h0M272.1 160.2h0M359.0 72.6h0M378.9 52.1h0M379.1 63.6h0M318.2 99.0h0M357.9 68.9h0M286.1 153.3h0M267.5 137.9h0M357.5 71.5h0M249.2 150.4h0M364.9 52.3h0M238.8 182.7h0M264.2 130.5h0M262.0 154.9h0M299.1 104.5h0M327.5 45.1h0M305.3 118.2h0M317.0 98.5h0M279.1 106.0h0M267.3 149.6h0M376.2 50.7h0M292.6 131.6h0M364.9 45.8h0M246.1 131.4h0M352.3 80.8h0M248.1 170.8h0M265.4 122.2h0M335.0 83.7h0M283.9 151.5h0M290.8 135.7h0M299.5 103.8h0M296.2 98.7h0M299.5 108.6h0M320.7 86.7h0M329.3 90.6h0M270.8 112.2h0M319.7 92.9h0M243.1 184.0h0M229.3 143.2h0M312.7 133.5h0M337.8 63.8h0M377.7 50.4h0M292.4 142.8h0M318.7 99.5h0M255.9 145.5h0M296.8 128.1h0M258.4 124.6h0M265.8 134.4h0M233.9 171.6h0M337.1 75.4h0M328.8 113.1h0M251.9 170.4h0M257.0 166.2h0M306.6 122.8h0M289.1 120.3h0M238.9 160.2h0M281.2 132.5h0M306.2 82.8h0M268.0 156.3h0M382.3 52.8h0M292.8 136.4h0M297.6 124.1h0M326.2 108.0h0M320.4 119.7h0M343.7 70.1h0M356.2 71.5h0M317.1 96.1h0M298.7 110.2h0M380.0 44.7h0M295.2 101.8h0M267.1 122.6h0M315.7 100.6h0M272.6 135.2h0M365.5 50.5h0M246.7 163.4h0M290.5 156.2h0M249.1 156.5h0M320.8 100.7h0M318.1 101.7h0M338.5 77.2h0M333.5 96.3h0M309.1 130.8h0M320.6 122.6h0M350.1 55.4h0M292.9 87.0h0M324.0 95.9h0M336.9 80.6h0"/><path id="k21" d="M252.8 114.9h0M222.0 163.0h0M291.7 139.6h0M327.6 84.1h0M343.9 63.4h0M328.6 85.1h0M282.7 150.5h0M305.7 138.6h0M352.8 61.5h0M280.0 150.8h0M281.1 134.2h0M329.9 78.4h0M254.7 222.1h0M281.2 146.2h0M259.3 169.1h0M260.8 152.3h0M280.4 142.0h0M383.9 27.5h0M308.5 75.6h0M329.2 114.4h0M366.9 32.3h0M286.0 129.2h0M238.1 191.5h0M354.0 50.6h0M273.1 142.0h0M243.6 201.2h0M290.8 120.9h0M249.8 128.1h0M260.5 152.3h0M308.6 92.7h0M249.7 204.5h0M241.0 153.0h0M334.7 118.7h0M285.1 120.0h0M290.0 151.1h0M358.5 84.7h0M256.8 141.2h0M345.1 52.1h0M277.4 128.8h0M232.9 159.8h0M327.9 77.0h0M302.4 108.2h0M380.9 37.5h0M297.4 119.2h0M266.3 132.0h0M304.4 108.0h0M248.0 122.9h0M304.2 75.7h0M341.0 91.5h0M315.6 116.2h0M233.4 162.0h0M255.9 115.5h0M282.4 158.2h0M261.0 122.2h0M291.0 140.6h0M351.1 74.0h0M277.6 109.2h0M243.1 145.0h0M353.6 43.7h0M261.7 129.5h0M298.2 101.4h0M260.8 140.6h0M235.8 163.2h0M308.7 86.5h0M280.0 137.1h0M325.3 121.1h0M345.1 87.0h0M377.0 43.6h0M251.3 121.5h0M325.3 88.1h0M313.5 102.9h0M286.3 142.9h0M281.3 146.5h0M306.3 90.7h0M313.0 84.2h0M241.3 152.7h0M301.6 154.2h0M324.6 78.0h0M291.6 135.9h0M292.0 159.8h0M314.0 100.0h0M336.5 71.4h0M345.8 43.0h0M362.3 51.1h0M283.2 113.9h0M239.5 173.4h0M342.1 65.7h0M347.1 83.5h0M266.2 116.4h0M241.9 153.6h0M381.6 32.6h0M228.3 150.3h0M278.8 109.4h0M258.6 146.3h0M362.9 35.8h0M303.1 173.0h0M266.3 134.8h0M290.3 121.1h0M257.1 157.0h0M292.4 119.4h0M249.2 181.0h0M257.1 119.3h0M263.0 119.7h0M250.7 123.8h0M254.6 123.6h0M353.0 70.9h0M296.3 125.7h0M351.6 44.8h0M273.3 122.2h0M264.8 148.7h0M320.8 88.5h0M275.2 124.1h0M333.1 111.8h0M327.6 99.2h0M236.8 199.2h0M319.1 99.8h0M318.2 65.8h0M355.9 55.1h0M326.7 114.7h0M252.9 162.2h0M238.7 146.0h0M369.4 37.1h0M332.5 89.4h0M331.3 95.3h0M250.3 175.1h0M296.8 144.3h0M314.0 69.2h0M235.4 162.1h0M266.1 112.7h0M280.4 143.5h0M385.0 34.1h0M387.0 27.9h0M363.8 52.7h0M369.8 34.7h0M333.4 60.8h0M286.5 111.8h0M298.0 125.5h0M295.7 122.7h0M296.4 94.4h0M277.9 122.3h0M269.5 135.0h0M311.3 94.8h0M256.0 136.8h0M290.4 144.6h0M314.7 112.5h0M335.7 112.4h0M254.4 150.2h0M311.6 95.8h0M339.2 68.2h0M282.0 131.1h0M250.2 161.2h0M295.2 184.0h0M295.1 122.0h0M326.5 111.0h0M245.9 118.7h0M381.0 29.0h0M306.9 90.0h0M244.0 161.9h0M235.0 149.4h0M269.6 155.5h0M279.7 126.7h0M293.1 107.9h0M331.3 97.5h0M261.2 146.4h0M281.7 97.3h0M313.1 113.2h0M294.7 95.8h0M313.4 104.5h0M326.7 69.9h0M279.2 122.9h0M260.0 141.9h0M293.3 121.7h0M236.9 148.9h0M328.8 74.4h0M265.9 148.3h0M306.8 107.5h0M375.3 47.1h0M277.8 136.4h0M348.3 61.3h0M228.7 131.8h0M235.4 127.5h0M335.2 79.8h0M262.5 139.3h0M382.7 50.4h0M248.6 139.6h0M353.5 84.5h0M287.2 121.3h0M300.7 153.5h0M307.5 160.0h0M297.5 155.8h0M336.8 56.0h0M297.6 136.0h0M326.9 90.2h0M367.5 59.0h0M295.0 126.0h0M245.1 153.8h0M264.0 110.6h0M324.6 77.2h0M301.8 103.2h0M328.3 72.0h0M318.8 109.3h0M268.1 170.4h0M290.4 116.1h0M292.4 121.9h0M316.2 64.9h0M290.0 98.6h0M330.0 100.7h0M266.2 97.8h0M343.8 60.6h0M346.3 63.8h0M304.8 100.9h0M297.1 161.5h0M221.4 151.2h0M299.3 136.9h0M276.4 121.3h0M309.3 143.2h0M357.2 44.7h0M339.6 66.2h0M287.5 142.0h0M313.4 118.3h0M321.3 88.6h0M274.8 110.8h0M366.3 35.3h0M280.3 114.5h0M325.3 90.5h0M330.7 73.1h0M234.9 149.0h0M292.0 104.7h0M380.5 39.5h0M247.6 127.5h0M299.9 152.0h0M294.0 119.1h0M325.1 73.9h0M303.2 113.0h0M251.9 175.1h0M254.1 174.8h0M333.0 85.6h0M311.1 107.5h0M282.6 148.0h0M379.5 41.5h0M290.9 105.0h0M249.9 158.3h0M262.6 157.7h0M229.0 174.1h0M281.6 145.4h0M376.7 37.1h0M302.6 92.7h0M289.8 125.4h0M302.8 140.2h0M302.3 148.4h0M309.3 100.9h0M313.0 104.7h0M284.6 120.2h0M304.5 117.5h0M392.5 14.6h0M331.6 78.4h0M290.1 121.8h0M330.2 87.4h0M290.5 129.6h0M296.2 108.4h0M239.4 139.4h0M327.3 80.2h0M327.3 108.9h0M278.7 126.3h0M308.4 124.9h0M333.2 106.4h0M290.3 147.9h0M245.0 172.4h0M368.0 31.4h0M298.0 101.7h0M340.8 72.3h0M243.9 146.9h0M238.0 152.6h0M382.2 32.6h0M267.8 167.5h0M332.2 97.6h0M241.7 149.2h0M326.0 105.6h0M273.9 111.7h0M303.4 110.9h0M291.7 90.6h0M336.9 85.1h0M274.8 140.1h0M276.7 112.5h0M297.6 100.3h0M328.4 87.5h0M253.4 163.3h0M244.7 157.4h0M269.8 112.2h0M256.0 147.9h0M254.7 134.8h0M336.3 33.2h0M246.8 174.7h0M269.5 109.1h0M311.4 100.7h0M237.1 130.7h0M332.5 84.1h0M244.3 124.4h0M282.9 136.4h0M320.9 94.9h0M312.2 97.5h0M371.4 42.7h0M244.8 127.8h0M328.9 57.1h0M237.5 155.3h0M319.2 106.9h0M322.5 78.9h0M304.8 148.8h0M269.9 110.9h0M252.6 131.2h0M321.0 78.3h0M309.7 119.8h0M245.8 141.7h0M381.0 35.2h0M252.9 142.4h0M276.5 119.0h0M291.6 135.8h0M299.5 99.0h0M296.6 107.3h0M311.1 118.4h0M226.1 154.0h0M301.0 112.0h0M332.5 122.0h0M335.2 95.9h0M276.5 157.2h0M257.1 159.1h0M323.0 86.6h0M301.8 77.9h0M339.1 68.3h0M296.3 131.0h0M379.0 32.9h0M279.0 114.0h0M265.6 140.9h0M262.4 182.6h0M306.2 102.9h0M364.8 51.7h0M280.6 130.9h0M362.5 47.8h0M352.3 69.5h0M288.8 134.2h0M277.0 141.3h0M274.1 139.2h0M324.6 110.5h0M334.8 55.3h0M342.8 69.7h0M271.2 126.7h0M271.6 135.2h0M389.5 29.6h0M240.8 155.7h0M251.0 156.6h0M336.2 90.5h0M231.9 166.1h0"/><path id="k22" d="M290.3 143.8h0M304.4 104.2h0M258.0 154.4h0M301.5 125.6h0M244.2 150.6h0M353.2 51.9h0M326.3 84.1h0M295.4 130.3h0M326.8 87.3h0M245.2 140.8h0M291.6 114.1h0M370.3 49.3h0M264.6 134.8h0M286.7 130.9h0M231.2 167.6h0M285.9 130.3h0M267.4 151.4h0M293.4 115.4h0M245.7 190.4h0M258.7 146.1h0M345.2 81.5h0M232.0 171.5h0M279.1 182.1h0M233.4 148.2h0M248.7 154.5h0M345.3 95.1h0M288.0 134.9h0M282.1 128.0h0M321.0 109.8h0M349.2 76.3h0M262.7 120.5h0M277.8 143.5h0M254.0 157.5h0M280.7 140.1h0M302.6 106.2h0M289.4 132.9h0M219.5 142.0h0M272.4 165.2h0M229.2 175.8h0M308.9 105.2h0M254.3 134.7h0M253.5 181.4h0M286.0 107.4h0M357.3 84.7h0M300.9 124.9h0M329.6 67.2h0M304.0 111.9h0M317.3 94.8h0M302.1 128.7h0M337.0 84.1h0M320.8 116.5h0M267.3 149.4h0M279.0 109.4h0M246.1 140.8h0M283.7 106.9h0M320.1 88.0h0M254.7 145.8h0M288.5 97.4h0M356.5 60.9h0M343.4 81.2h0M385.6 20.6h0M282.2 170.5h0M236.4 134.9h0M281.4 119.9h0M347.5 91.8h0M233.3 130.6h0M228.1 150.7h0M269.6 135.9h0M245.4 173.2h0M295.7 117.7h0M369.8 49.9h0M311.4 128.8h0M274.0 111.3h0M290.0 129.9h0M242.0 163.6h0M304.0 82.7h0M262.2 130.3h0M278.8 165.5h0M354.6 91.4h0M323.3 107.2h0M328.2 112.5h0M311.7 107.9h0M333.0 68.1h0M273.1 135.7h0M335.9 63.8h0M280.6 144.4h0M249.4 154.7h0M333.1 50.3h0M289.6 141.5h0M227.9 154.3h0M304.6 127.5h0M299.4 104.5h0M291.5 92.9h0M314.2 98.3h0M313.7 123.1h0M339.2 92.1h0M340.4 87.2h0M351.5 77.5h0M263.2 133.4h0M230.9 174.0h0M316.4 90.4h0M287.9 101.7h0M335.9 59.9h0M300.0 105.6h0M265.3 119.5h0M351.3 63.4h0M367.9 65.3h0M356.7 44.9h0M272.8 122.6h0M327.8 79.1h0M341.9 56.4h0M278.4 163.4h0M352.0 44.7h0M289.4 131.3h0M340.3 70.2h0M280.9 140.8h0M328.2 89.9h0M295.2 128.5h0M311.5 100.0h0M283.5 147.2h0M333.4 90.8h0M309.5 105.9h0M219.4 177.2h0M275.5 102.9h0M332.8 57.8h0M245.8 164.0h0M343.3 107.5h0M291.1 152.5h0M337.7 69.9h0M280.0 185.7h0M312.0 79.6h0M363.3 54.6h0M255.6 140.6h0M232.1 166.1h0M299.3 137.0h0M377.0 50.2h0M233.6 156.2h0M298.0 128.9h0M217.0 177.6h0M262.2 131.0h0M248.5 177.9h0M310.3 82.5h0M382.6 38.1h0M330.2 54.6h0M388.0 31.5h0M279.6 166.7h0M298.6 134.7h0M338.1 80.5h0M272.4 111.4h0M323.0 83.8h0M274.8 129.5h0M241.7 163.5h0M281.1 120.6h0M233.5 164.6h0M287.4 179.7h0M261.7 131.4h0M286.3 118.4h0M285.3 102.0h0M379.4 39.0h0M285.7 138.5h0M385.2 26.4h0M283.8 145.0h0M293.9 104.4h0M262.6 131.0h0M292.0 131.6h0M288.6 102.1h0M296.8 147.8h0M266.3 131.0h0M245.2 168.7h0M380.4 47.6h0M378.0 40.7h0M306.2 116.3h0M378.0 34.3h0M301.0 115.2h0M272.2 104.1h0M266.9 139.2h0M238.4 138.8h0M268.6 143.0h0M348.8 74.8h0M362.7 67.3h0M226.3 172.9h0M258.2 159.9h0M287.8 153.2h0M335.1 60.7h0M210.2 163.2h0M286.2 122.6h0M310.9 142.8h0M256.8 124.2h0M314.1 84.3h0M300.1 88.2h0M306.3 100.0h0M292.6 125.8h0M319.5 78.0h0M325.8 107.7h0M290.9 114.2h0M260.8 117.2h0M272.9 124.8h0M323.3 61.1h0M305.5 135.1h0M371.7 40.2h0M238.6 145.7h0M307.1 131.5h0M297.5 134.4h0M343.5 87.8h0M280.6 134.8h0M243.9 174.6h0M296.3 117.4h0M385.3 46.9h0M292.5 103.2h0M241.0 172.4h0M307.5 90.8h0M284.2 128.2h0M308.5 96.5h0M295.6 163.8h0M356.3 43.1h0M300.8 87.2h0M380.1 20.7h0M304.8 102.4h0M246.8 156.4h0M369.2 47.4h0M303.0 104.2h0M308.8 121.1h0M386.3 63.8h0M239.8 152.5h0M255.0 136.7h0M266.4 176.8h0M304.0 101.9h0M302.1 93.6h0M239.0 169.0h0M255.6 146.0h0M217.4 150.2h0M311.2 81.4h0M296.8 102.2h0M285.2 123.8h0M300.1 100.6h0M280.4 155.4h0M353.2 63.0h0M240.0 127.7h0M269.4 177.3h0M300.4 120.1h0M310.0 89.4h0M214.6 168.3h0M264.1 145.8h0M263.7 117.6h0M381.9 38.2h0M348.6 51.8h0M301.2 89.6h0M330.7 80.3h0M300.7 126.5h0M301.3 81.3h0M306.0 122.2h0M303.7 97.1h0M244.3 148.0h0M278.8 143.1h0M298.9 114.8h0M291.0 123.4h0M353.9 49.3h0M305.9 98.3h0M352.0 58.7h0M299.2 163.4h0M294.4 154.4h0M273.2 158.3h0M295.2 114.0h0M302.6 115.6h0M331.4 94.2h0M307.3 107.3h0M252.9 124.8h0M359.7 64.4h0M242.0 147.8h0M319.7 79.0h0M322.6 79.9h0M365.8 38.4h0M313.9 90.0h0M242.5 142.0h0M370.2 32.5h0M315.0 85.4h0M259.5 203.1h0M343.2 69.8h0M240.1 141.5h0M310.3 109.3h0M270.9 117.2h0M314.5 125.4h0M325.5 105.9h0M275.9 123.2h0M249.8 143.5h0M238.9 172.7h0M256.0 161.3h0M299.4 114.0h0M313.4 103.8h0M309.1 93.8h0M254.5 180.8h0M259.9 134.0h0M302.3 112.3h0M333.3 74.7h0M354.7 84.3h0M285.2 138.7h0M314.0 104.3h0M304.4 112.1h0M291.1 162.4h0M352.3 45.9h0M291.7 109.3h0M342.5 67.2h0M252.2 174.7h0M261.8 144.1h0M330.9 77.1h0M334.5 91.1h0M319.8 68.4h0M313.1 134.9h0M350.2 64.6h0M274.0 130.3h0M345.9 66.4h0M234.7 125.3h0M272.9 147.5h0M333.7 85.6h0M336.3 110.9h0M355.0 62.1h0M263.6 119.4h0M355.5 64.3h0M274.3 144.3h0M339.0 97.5h0M320.0 75.5h0M334.1 86.1h0M289.1 106.8h0M289.6 134.6h0M337.8 55.5h0M353.3 43.7h0M274.2 128.0h0M269.1 135.3h0M349.5 72.3h0M357.8 44.0h0M376.6 38.1h0M312.5 101.1h0M335.0 65.3h0M323.2 122.5h0M237.4 137.0h0M275.4 152.5h0M296.9 104.4h0M311.8 83.7h0M306.9 93.8h0M285.9 137.8h0M377.3 40.2h0M301.1 92.5h0M265.7 139.6h0M381.3 68.7h0M248.8 186.0h0M241.3 152.3h0M268.0 153.8h0M357.7 76.0h0M354.2 59.3h0M250.8 165.2h0M262.4 118.0h0M360.8 60.7h0"/><path id="k23" d="M253.0 161.5h0M302.8 120.6h0M290.6 146.8h0M248.8 145.1h0M255.8 153.4h0M283.9 126.0h0M285.6 113.8h0M290.7 142.0h0M273.3 129.0h0M307.2 105.4h0M270.3 119.1h0M377.3 38.6h0M239.7 146.1h0M317.5 80.7h0M340.0 79.5h0M316.8 106.2h0M285.1 136.9h0M309.7 99.2h0M304.3 132.5h0M278.0 117.3h0M327.0 64.3h0M323.3 114.2h0M272.4 149.7h0M337.2 88.8h0M375.8 47.9h0M294.9 99.9h0M313.1 94.0h0M285.1 127.2h0M245.3 157.6h0M337.6 79.4h0M297.0 153.1h0M317.6 74.4h0M373.7 44.1h0M347.8 58.3h0M235.8 140.6h0M304.7 96.1h0M279.3 126.6h0M330.1 127.0h0M353.6 84.2h0M310.1 132.1h0M281.3 172.8h0M263.5 172.0h0M323.4 149.1h0M273.8 128.3h0M336.2 66.7h0M274.1 203.5h0M303.3 162.1h0M292.6 139.3h0M341.3 57.2h0M258.1 192.5h0M239.2 149.0h0M332.8 82.1h0M347.7 42.8h0M243.3 165.0h0M278.0 120.5h0M378.1 60.6h0M297.6 124.7h0M270.5 137.4h0M271.9 155.3h0M261.5 144.4h0M341.3 67.8h0M327.7 66.5h0M323.4 93.5h0M310.8 96.3h0M275.3 120.5h0M249.5 127.1h0M296.8 114.7h0M272.7 130.8h0M228.3 146.0h0M382.9 51.6h0M283.0 105.6h0M364.0 33.7h0M281.0 159.5h0M328.6 60.8h0M318.5 97.7h0M332.5 88.3h0M348.5 73.9h0M315.4 106.8h0M361.1 63.8h0M326.2 113.2h0M229.4 149.4h0M279.7 113.2h0M273.4 139.6h0M259.6 146.2h0M245.5 152.7h0M276.3 166.6h0M255.3 122.5h0M272.0 151.6h0M240.8 153.0h0M282.5 104.4h0M295.1 96.4h0M233.6 195.4h0M304.7 133.7h0M315.6 152.5h0M227.9 156.9h0M280.4 99.3h0M353.5 43.3h0M281.6 132.5h0M387.2 49.0h0M284.0 155.7h0M331.1 93.6h0M339.8 83.1h0M245.3 142.0h0M354.6 63.1h0M234.7 203.9h0M233.8 127.9h0M359.8 60.8h0M261.2 139.4h0M250.0 180.5h0M307.6 117.5h0M303.5 100.0h0M314.0 85.3h0M292.5 130.9h0M290.3 133.9h0M293.1 105.3h0M242.5 160.0h0M244.3 128.9h0M345.7 92.7h0M346.5 45.2h0M262.2 151.5h0M274.9 137.7h0M249.2 123.1h0M295.4 106.5h0M348.2 67.1h0M249.4 130.9h0M389.4 27.8h0M304.6 102.2h0M328.6 63.4h0M244.3 146.9h0M302.1 89.6h0M321.7 98.1h0M238.1 137.3h0M210.8 167.7h0M271.5 123.5h0M305.3 120.3h0M373.9 41.6h0M276.8 125.2h0M306.0 96.2h0M258.9 154.2h0M379.2 42.8h0M265.0 154.9h0M280.6 115.9h0M283.3 159.9h0M268.6 141.8h0M374.4 27.0h0M253.5 154.5h0M304.9 104.4h0M307.3 103.8h0M252.7 148.5h0M302.4 118.9h0M338.6 106.3h0M271.8 137.7h0M257.9 178.3h0M276.9 126.0h0M251.4 128.1h0M275.1 138.0h0M283.4 156.6h0M293.0 117.9h0M260.9 120.0h0M310.5 110.9h0M307.5 125.0h0M343.4 71.3h0M272.8 139.1h0M366.0 22.9h0M304.2 117.3h0M285.3 116.8h0M274.2 112.6h0M235.5 135.7h0M240.1 171.2h0M312.0 83.8h0M314.9 87.6h0M311.6 89.8h0M370.6 38.2h0M359.2 68.5h0M298.3 121.6h0M310.3 82.8h0M292.5 101.6h0M263.8 127.2h0M261.4 129.0h0M229.3 173.6h0M265.3 134.8h0M295.4 113.2h0M375.1 41.0h0M236.7 134.1h0M294.8 131.7h0M324.3 96.3h0M266.4 150.1h0M354.1 59.7h0M339.6 115.4h0M347.5 85.6h0M348.9 70.1h0M374.1 49.2h0M283.2 155.7h0M350.2 64.0h0M361.9 37.3h0M268.4 155.0h0M339.3 64.4h0M267.9 162.6h0M288.7 104.2h0M355.8 75.7h0M251.4 196.1h0M283.0 124.5h0M320.4 102.1h0M287.6 101.9h0M291.1 125.8h0M216.7 155.9h0M237.2 138.7h0M281.4 154.4h0M311.6 171.8h0M361.5 39.9h0M327.6 70.5h0M342.1 48.2h0M358.2 62.9h0M381.8 35.2h0M288.0 125.8h0M259.1 137.0h0M302.1 139.4h0M342.0 108.7h0M267.2 131.2h0M362.1 54.1h0M258.3 139.2h0M274.4 127.9h0M237.2 126.7h0M352.5 73.7h0M263.6 167.1h0M224.0 154.9h0M254.8 118.5h0M314.3 149.4h0M262.9 125.5h0M284.4 122.7h0M237.2 136.1h0M309.9 127.8h0M230.1 164.7h0M296.4 148.6h0M287.5 121.0h0M290.3 147.7h0M280.7 111.6h0M310.4 90.3h0M319.3 112.3h0M269.4 115.5h0M252.6 132.8h0M268.1 130.7h0M383.7 29.9h0M386.6 26.4h0M344.0 80.3h0M366.9 37.5h0M300.7 79.2h0M259.5 168.7h0M383.9 44.6h0M305.5 119.0h0M225.1 160.4h0M301.3 153.9h0M373.8 30.4h0M322.8 67.9h0M266.6 104.4h0M263.4 156.2h0M380.4 32.4h0M324.1 83.3h0M271.6 126.9h0M255.6 194.7h0M319.4 92.7h0M280.3 143.1h0M220.9 149.2h0M363.5 42.0h0M306.4 97.5h0M257.5 148.9h0M215.3 180.6h0M262.6 140.8h0M313.5 108.7h0M216.1 159.4h0M338.5 73.8h0M287.0 140.1h0M349.0 62.1h0M308.2 97.4h0M349.1 55.7h0M350.5 82.3h0M298.7 132.7h0M300.2 119.4h0M244.7 131.6h0M307.6 115.7h0M368.0 59.9h0M253.3 156.9h0M329.3 89.6h0M333.6 114.7h0M348.6 68.2h0M295.8 133.8h0M334.9 71.1h0M247.8 144.7h0M271.4 157.9h0M251.7 135.7h0M257.9 138.0h0M319.5 112.8h0M265.6 161.1h0M379.8 31.5h0M271.7 134.9h0M270.2 126.7h0M284.8 159.8h0M274.2 111.3h0M359.1 68.9h0M316.6 96.3h0M314.7 82.2h0M351.8 76.1h0M309.1 106.9h0M313.0 109.3h0M291.4 103.3h0M302.4 105.0h0M310.7 129.5h0M270.6 124.9h0M289.0 108.1h0M261.3 164.0h0M228.9 155.4h0M289.6 136.9h0M338.4 86.6h0M219.5 155.3h0M257.3 164.3h0M320.5 107.0h0M274.5 132.1h0M335.7 93.4h0M326.4 88.4h0M269.1 121.0h0M271.8 129.6h0M352.3 67.9h0M243.2 170.6h0M278.0 116.9h0M315.1 95.4h0M245.0 146.4h0M374.2 49.6h0M335.5 87.3h0M262.3 177.1h0M274.8 140.3h0M232.0 140.2h0M237.2 166.2h0M238.0 132.0h0M279.8 166.7h0M375.2 40.8h0M265.6 142.7h0M269.4 147.0h0M244.5 156.8h0M250.6 152.1h0M264.7 129.9h0M306.5 104.2h0M313.1 106.7h0M360.9 62.2h0M271.8 144.5h0M253.8 176.3h0M314.9 69.3h0M249.0 156.6h0M294.5 106.9h0M220.9 182.3h0M304.4 110.7h0M272.0 130.8h0M256.7 136.2h0"/><path id="k24" d="M217.3 183.1h0M241.2 146.9h0M258.6 134.7h0M345.6 89.5h0M355.4 77.6h0M267.7 137.8h0M254.5 165.4h0M323.1 90.2h0M300.1 98.4h0M320.6 75.3h0M319.9 114.9h0M295.4 94.6h0M346.7 66.6h0M289.4 100.6h0M241.0 141.1h0M260.9 181.6h0M342.5 99.8h0M319.2 93.0h0M257.1 170.4h0M298.4 149.3h0M279.0 167.5h0M241.3 159.8h0M298.5 116.2h0M255.9 173.0h0M350.4 55.4h0M295.4 96.3h0M314.8 139.2h0M374.7 52.5h0M340.4 92.6h0M231.4 148.2h0M299.7 136.5h0M241.9 147.7h0M382.6 44.8h0M301.5 111.7h0M390.2 36.0h0M255.8 137.6h0M303.4 166.0h0M271.9 166.2h0M280.7 143.4h0M307.3 117.8h0M279.5 167.2h0M292.6 147.1h0M245.9 128.3h0M262.5 125.7h0M288.6 120.6h0M373.8 50.5h0M385.7 41.2h0M305.8 108.1h0M279.7 162.9h0M328.2 67.7h0M311.0 89.6h0M245.4 161.6h0M266.3 115.5h0M297.6 122.9h0M241.1 141.8h0M331.6 104.8h0M287.6 149.4h0M300.2 116.8h0M328.4 127.5h0M280.0 112.8h0M324.3 117.5h0M301.9 86.6h0M345.8 77.1h0M312.7 119.9h0M306.2 128.5h0M306.3 111.4h0M259.3 111.6h0M293.0 132.0h0M331.6 51.6h0M243.0 166.4h0M259.9 146.9h0M306.3 96.4h0M338.5 78.5h0M275.5 154.8h0M349.1 76.2h0M235.9 138.1h0M228.0 135.7h0M301.5 129.6h0M237.1 174.2h0M312.4 71.0h0M282.0 168.9h0M243.9 151.5h0M396.1 26.4h0M380.3 20.1h0M272.4 166.0h0M253.3 144.5h0M353.0 62.9h0M266.9 104.4h0M298.7 126.4h0M282.4 148.2h0M302.4 83.0h0M342.4 57.9h0M268.1 148.7h0M300.4 69.8h0M263.5 167.3h0M303.8 114.9h0M312.9 75.6h0M355.2 73.7h0M323.7 82.9h0M306.4 134.7h0M271.9 148.0h0M313.0 79.6h0M293.9 99.9h0M306.1 106.9h0M308.5 94.7h0M336.4 68.2h0M255.4 167.1h0M322.7 81.2h0M290.8 100.5h0M334.7 77.2h0M285.6 171.1h0M327.7 96.6h0M258.9 152.1h0M301.2 97.2h0M283.8 153.8h0M307.0 91.9h0M316.5 76.2h0M296.9 147.2h0M307.6 117.0h0M275.5 160.5h0M245.0 153.2h0M237.5 158.9h0M386.8 51.9h0M286.7 107.8h0M362.7 61.7h0M254.4 128.2h0M283.8 145.7h0M261.9 164.4h0M318.7 83.9h0M280.7 132.7h0M351.5 67.3h0M346.6 118.3h0M273.5 98.5h0M331.0 77.9h0M306.9 90.6h0M263.9 148.8h0M313.1 102.3h0M354.1 71.1h0M276.4 124.7h0M310.0 93.9h0M326.9 130.4h0M238.3 141.4h0M266.8 140.3h0M381.2 46.0h0M268.0 178.5h0M285.4 126.9h0M311.0 82.1h0M331.1 106.1h0M310.3 115.5h0M298.4 119.4h0M332.8 86.7h0M277.8 106.9h0M280.4 153.4h0M268.0 160.5h0M267.1 139.8h0M265.7 129.5h0M336.9 81.5h0M249.1 162.9h0M255.5 136.4h0M275.3 128.7h0M285.9 149.1h0M300.1 115.6h0M341.3 53.5h0M297.7 108.3h0M230.3 153.1h0M333.7 93.7h0M292.0 141.1h0M299.9 110.5h0M292.1 147.0h0M325.1 72.4h0M367.5 61.6h0M282.1 116.3h0M246.6 137.1h0M337.4 74.4h0M367.8 28.9h0M331.5 82.4h0M319.7 148.2h0M269.7 153.0h0M302.6 101.7h0M326.2 75.9h0M353.3 66.1h0M361.1 50.5h0M237.9 165.6h0M274.1 133.6h0M287.4 131.0h0M256.0 158.1h0M239.0 125.8h0M304.6 110.2h0M287.8 137.8h0M224.9 143.7h0M249.3 153.0h0M342.2 157.9h0M311.5 101.0h0M343.9 54.4h0M305.3 88.8h0M282.6 128.7h0M232.4 138.8h0M263.7 153.3h0M231.0 161.8h0M337.3 66.7h0M275.7 176.5h0M387.2 48.9h0M290.7 111.6h0M261.9 128.5h0M272.4 155.9h0M254.5 138.1h0M266.5 183.9h0M235.9 168.1h0M310.5 98.1h0M251.3 163.4h0M258.4 139.4h0M292.1 205.2h0M329.4 98.2h0M305.0 128.3h0M274.3 155.8h0M301.2 97.6h0M374.7 68.0h0M213.1 157.2h0M252.1 157.4h0M305.6 108.8h0M271.4 121.7h0M243.7 164.7h0M266.8 152.6h0M311.2 127.6h0M253.0 163.8h0M370.4 42.7h0M313.7 76.8h0M249.2 123.6h0M335.8 90.3h0M255.8 153.9h0M282.7 90.9h0M304.4 131.1h0M288.9 99.0h0M362.0 34.4h0M319.2 113.0h0M302.1 119.4h0M383.7 18.4h0M253.2 152.6h0M328.9 87.0h0M338.9 76.4h0M290.6 139.0h0M239.4 162.6h0M288.2 90.9h0M284.6 109.5h0M317.8 105.9h0M242.9 125.2h0M312.7 84.5h0M243.3 157.7h0M266.4 157.4h0M339.4 69.9h0M264.8 157.6h0M283.8 137.6h0M284.5 136.9h0M355.2 45.9h0M318.0 83.1h0M326.1 105.4h0M298.0 125.7h0M222.3 149.6h0M302.9 122.0h0M386.2 42.6h0M286.4 135.2h0M259.1 153.4h0M311.8 125.9h0M324.6 112.2h0M342.5 66.3h0M254.5 150.2h0M350.4 62.8h0M253.7 148.7h0M276.3 127.3h0M247.1 141.1h0M391.9 46.9h0M357.4 46.1h0M318.0 82.9h0M240.8 147.2h0M355.5 71.9h0M378.8 54.4h0M356.6 65.8h0M241.6 157.3h0M260.7 123.3h0M289.6 116.7h0M305.0 144.4h0M283.1 138.6h0M292.0 101.1h0M263.8 179.7h0M288.2 129.7h0M327.0 96.0h0M352.9 47.5h0M339.0 99.9h0M316.1 90.8h0M237.1 152.2h0M339.4 45.1h0M319.7 70.5h0M397.7 27.7h0M315.1 173.9h0M388.0 31.7h0M376.8 39.4h0M277.5 115.2h0M281.7 119.5h0M299.5 152.3h0M258.7 129.6h0M268.1 142.4h0M321.3 77.4h0M287.2 144.4h0M256.4 152.8h0M239.3 152.3h0M248.4 131.3h0M316.9 81.1h0M278.8 170.9h0M279.2 145.4h0M239.4 169.2h0M310.8 97.8h0M326.0 129.2h0M254.7 147.0h0M319.4 96.3h0M266.5 122.6h0M277.9 124.3h0M352.6 59.2h0M279.6 160.5h0M280.2 120.2h0M322.1 91.6h0M299.0 113.7h0M263.6 121.9h0M253.4 115.7h0M236.2 139.6h0M266.2 189.8h0M377.3 27.3h0M237.4 152.6h0M377.4 39.3h0M338.4 78.5h0M212.9 158.8h0M247.2 135.0h0M287.3 126.4h0M292.1 145.8h0M244.7 158.5h0M281.8 124.1h0M293.9 121.0h0M250.7 146.2h0M287.2 154.1h0M251.4 137.8h0M323.1 87.0h0M281.1 135.7h0M317.4 120.7h0M258.1 160.3h0M294.5 106.7h0M275.5 152.3h0M238.5 144.6h0M360.1 35.1h0M300.0 132.9h0M337.8 91.2h0M284.0 149.0h0M247.1 138.9h0M378.4 55.6h0"/></defs>
<g fill="none" stroke-linecap="round"><use href="#k0" stroke="#3a3a3a" stroke-opacity="0.44" stroke-width="3.8"/><use href="#k0" stroke="#bcbcbc" stroke-opacity="0.55" stroke-width="2.3"/><use href="#k1" stroke="#3a3a3a" stroke-opacity="0.44" stroke-width="3.8"/><use href="#k1" stroke="#bcbcbc" stroke-opacity="0.55" stroke-width="2.3"/><use href="#k2" stroke="#3a3a3a" stroke-opacity="0.44" stroke-width="3.8"/><use href="#k2" stroke="#bcbcbc" stroke-opacity="0.55" stroke-width="2.3"/><use href="#k3" stroke="#3a3a3a" stroke-opacity="0.44" stroke-width="3.8"/><use href="#k3" stroke="#bcbcbc" stroke-opacity="0.55" stroke-width="2.3"/><use href="#k4" stroke="#3a3a3a" stroke-opacity="0.44" stroke-width="3.8"/><use href="#k4" stroke="#bcbcbc" stroke-opacity="0.55" stroke-width="2.3"/><use href="#k5" stroke="#3a3a3a" stroke-opacity="0.44" stroke-width="3.8"/><use href="#k5" stroke="#bcbcbc" stroke-opacity="0.55" stroke-width="2.3"/><use href="#k6" stroke="#3a3a3a" stroke-opacity="0.44" stroke-width="3.8"/><use href="#k6" stroke="#bcbcbc" stroke-opacity="0.55" stroke-width="2.3"/><use href="#k7" stroke="#3a3a3a" stroke-opacity="0.44" stroke-width="3.8"/><use href="#k7" stroke="#bcbcbc" stroke-opacity="0.55" stroke-width="2.3"/><use href="#k8" stroke="#3a3a3a" stroke-opacity="0.44" stroke-width="3.8"/><use href="#k8" stroke="#bcbcbc" stroke-opacity="0.55" stroke-width="2.3"/><use href="#k9" stroke="#3a3a3a" stroke-opacity="0.44" stroke-width="3.8"/><use href="#k9" stroke="#bcbcbc" stroke-opacity="0.55" stroke-width="2.3"/><use href="#k10" stroke="#3a3a3a" stroke-opacity="0.44" stroke-width="3.8"/><use href="#k10" stroke="#bcbcbc" stroke-opacity="0.55" stroke-width="2.3"/><use href="#k11" stroke="#3a3a3a" stroke-opacity="0.44" stroke-width="3.8"/><use href="#k11" stroke="#bcbcbc" stroke-opacity="0.55" stroke-width="2.3"/><use href="#k12" stroke="#3a3a3a" stroke-opacity="0.44" stroke-width="3.8"/><use href="#k12" stroke="#bcbcbc" stroke-opacity="0.55" stroke-width="2.3"/><use href="#k13" stroke="#3a3a3a" stroke-opacity="0.44" stroke-width="3.8"/><use href="#k13" stroke="#bcbcbc" stroke-opacity="0.55" stroke-width="2.3"/><use href="#k14" stroke="#3a3a3a" stroke-opacity="0.44" stroke-width="3.8"/><use href="#k14" stroke="#bcbcbc" stroke-opacity="0.55" stroke-width="2.3"/><use href="#k15" stroke="#3a3a3a" stroke-opacity="0.44" stroke-width="3.8"/><use href="#k15" stroke="#bcbcbc" stroke-opacity="0.55" stroke-width="2.3"/><use href="#k16" stroke="#3a3a3a" stroke-opacity="0.44" stroke-width="3.8"/><use href="#k16" stroke="#bcbcbc" stroke-opacity="0.55" stroke-width="2.3"/><use href="#k17" stroke="#3a3a3a" stroke-opacity="0.44" stroke-width="3.8"/><use href="#k17" stroke="#bcbcbc" stroke-opacity="0.55" stroke-width="2.3"/><use href="#k18" stroke="#3a3a3a" stroke-opacity="0.44" stroke-width="3.8"/><use href="#k18" stroke="#bcbcbc" stroke-opacity="0.55" stroke-width="2.3"/><use href="#k19" stroke="#3a3a3a" stroke-opacity="0.44" stroke-width="3.8"/><use href="#k19" stroke="#bcbcbc" stroke-opacity="0.55" stroke-width="2.3"/><use href="#k20" stroke="#3a3a3a" stroke-opacity="0.44" stroke-width="3.8"/><use href="#k20" stroke="#bcbcbc" stroke-opacity="0.55" stroke-width="2.3"/><use href="#k21" stroke="#3a3a3a" stroke-opacity="0.44" stroke-width="3.8"/><use href="#k21" stroke="#bcbcbc" stroke-opacity="0.55" stroke-width="2.3"/><use href="#k22" stroke="#3a3a3a" stroke-opacity="0.44" stroke-width="3.8"/><use href="#k22" stroke="#bcbcbc" stroke-opacity="0.55" stroke-width="2.3"/><use href="#k23" stroke="#3a3a3a" stroke-opacity="0.44" stroke-width="3.8"/><use href="#k23" stroke="#bcbcbc" stroke-opacity="0.55" stroke-width="2.3"/><use href="#k24" stroke="#3a3a3a" stroke-opacity="0.44" stroke-width="3.8"/><use href="#k24" stroke="#bcbcbc" stroke-opacity="0.55" stroke-width="2.3"/></g>
<path d="M209.9 8.5V248.7H415.5" stroke="#6e6e6e" stroke-width="1.2" fill="none"/>
<text x="199.6" y="192.8" font-size="10.5" text-anchor="end" >2</text>
<text x="199.6" y="119.9" font-size="10.5" text-anchor="end" >4</text>
<text x="199.6" y="47.0" font-size="10.5" text-anchor="end" >6</text>
<text x="210.2" y="267.7" font-size="10.5" text-anchor="middle" >0</text>
<text x="283.5" y="267.7" font-size="10.5" text-anchor="middle" >2</text>
<text x="356.8" y="267.7" font-size="10.5" text-anchor="middle" >4</text>
<path d="M205.2 189.1H209.9M205.2 116.2H209.9M205.2 43.3H209.9M210.2 248.7V253M283.5 248.7V253M356.8 248.7V253" stroke="#6e6e6e" stroke-width="1"/>
<text x="183.0" y="128.2" font-size="12.7" text-anchor="middle" transform="rotate(-90 183.0 128.2)" >log<tspan font-size="8.8" dy="2.6">10</tspan><tspan dy="-2.6">(Peak barcode PVL)</tspan></text>
<text x="312.3" y="286.3" font-size="13.3" text-anchor="middle" >log<tspan font-size="9.2" dy="2.6">10</tspan><tspan dy="-2.6">(Total vDNA per barcode)</tspan></text>
<path d="M318.1 148.2L322.5 140.7H313.8Z" fill="#3fc0e2" stroke="#333" stroke-width="0.75" stroke-linejoin="round"/>
<path d="M265.8 124.2L270.2 131.7H261.4Z" fill="#5cb85c" stroke="#333" stroke-width="0.75" stroke-linejoin="round"/>
<path d="M291.5 117.0L295.9 124.5H287.1Z" fill="#a89b36" stroke="#333" stroke-width="0.75" stroke-linejoin="round"/>
<path d="M306.7 116.1L311.1 108.6H302.3Z" fill="#1f6e4b" stroke="#333" stroke-width="0.75" stroke-linejoin="round"/>
<rect x="313.6" y="109.4" width="6.1" height="6.1" fill="#5cb85c" stroke="#333" stroke-width="0.75"/>
<path d="M316.0 112.3L320.4 104.8H311.6Z" fill="#ee6aa7" stroke="#333" stroke-width="0.75" stroke-linejoin="round"/>
<rect x="326.8" y="107.5" width="6.1" height="6.1" fill="#f5821f" stroke="#333" stroke-width="0.75"/>
<path d="M328.9 121.8L333.2 114.3H324.5Z" fill="#cc79bb" stroke="#333" stroke-width="0.75" stroke-linejoin="round"/>
<path d="M333.3 118.4L337.7 110.9H328.9Z" fill="#cc79bb" stroke="#333" stroke-width="0.75" stroke-linejoin="round"/>
<rect x="326.2" y="100.0" width="6.1" height="6.1" fill="#5cb85c" stroke="#333" stroke-width="0.75"/>
<path d="M332.1 87.5L336.5 95.0H327.8Z" fill="#f5821f" stroke="#333" stroke-width="0.75" stroke-linejoin="round"/>
<path d="M319.4 87.4L323.8 79.9H315.0Z" fill="#3c6cbd" stroke="#333" stroke-width="0.75" stroke-linejoin="round"/>
<path d="M347.9 75.2L352.2 82.7H343.5Z" fill="#e41a22" stroke="#333" stroke-width="0.75" stroke-linejoin="round"/>
<rect x="360.6" y="81.0" width="6.1" height="6.1" fill="#3c6cbd" stroke="#333" stroke-width="0.75"/>
<rect x="350.6" y="68.7" width="6.1" height="6.1" fill="#5cb85c" stroke="#333" stroke-width="0.75"/>
<path d="M355.5 76.6L359.9 69.1H351.1Z" fill="#e8e21e" stroke="#333" stroke-width="0.75" stroke-linejoin="round"/>
<path d="M337.8 76.2L342.2 68.7H333.4Z" fill="#3fc0e2" stroke="#333" stroke-width="0.75" stroke-linejoin="round"/>
<path d="M342.0 58.3L346.4 50.8H337.6Z" fill="#5b47a0" stroke="#333" stroke-width="0.75" stroke-linejoin="round"/>
<rect x="346.6" y="56.6" width="6.1" height="6.1" fill="#3c6cbd" stroke="#333" stroke-width="0.75"/>
<path d="M372.4 67.7L376.8 60.2H368.0Z" fill="#e41a22" stroke="#333" stroke-width="0.75" stroke-linejoin="round"/>
<path d="M368.9 68.2L373.2 60.7H364.5Z" fill="#f5821f" stroke="#333" stroke-width="0.75" stroke-linejoin="round"/>
<path d="M366.5 62.4L370.9 54.9H362.1Z" fill="#e41a22" stroke="#333" stroke-width="0.75" stroke-linejoin="round"/>
<path d="M376.5 54.0L380.9 61.5H372.1Z" fill="#e8e21e" stroke="#333" stroke-width="0.75" stroke-linejoin="round"/>
<path d="M382.9 55.4L387.2 47.9H378.5Z" fill="#cc79bb" stroke="#333" stroke-width="0.75" stroke-linejoin="round"/>
<path d="M376.5 57.1L380.9 49.6H372.1Z" fill="#ee6aa7" stroke="#333" stroke-width="0.75" stroke-linejoin="round"/>
<path d="M387.2 54.2L391.6 46.7H382.8Z" fill="#e41a22" stroke="#333" stroke-width="0.75" stroke-linejoin="round"/>
<path d="M379.4 53.6L383.8 46.1H375.0Z" fill="#f5821f" stroke="#333" stroke-width="0.75" stroke-linejoin="round"/>
<rect x="354.3" y="44.4" width="6.1" height="6.1" fill="#3fc0e2" stroke="#333" stroke-width="0.75"/>
<path d="M362.1 40.5L366.5 48.0H357.8Z" fill="#3fc0e2" stroke="#333" stroke-width="0.75" stroke-linejoin="round"/>
<rect x="369.9" y="41.5" width="6.1" height="6.1" fill="#f5821f" stroke="#333" stroke-width="0.75"/>
<rect x="373.4" y="39.1" width="6.1" height="6.1" fill="#5cb85c" stroke="#333" stroke-width="0.75"/>
<rect x="378.6" y="33.9" width="6.1" height="6.1" fill="#5cb85c" stroke="#333" stroke-width="0.75"/>
<path d="M363.0 34.1L367.4 41.6H358.6Z" fill="#3c6cbd" stroke="#333" stroke-width="0.75" stroke-linejoin="round"/>
<path d="M369.8 33.2L374.2 40.7H365.4Z" fill="#5cb85c" stroke="#333" stroke-width="0.75" stroke-linejoin="round"/>
<rect x="375.8" y="31.7" width="6.1" height="6.1" fill="#5cb85c" stroke="#333" stroke-width="0.75"/>
<path d="M386.0 34.7L390.4 42.2H381.6Z" fill="#a89b36" stroke="#333" stroke-width="0.75" stroke-linejoin="round"/>
<rect x="384.6" y="25.6" width="6.1" height="6.1" fill="#5cb85c" stroke="#333" stroke-width="0.75"/>
<rect x="384.6" y="21.6" width="6.1" height="6.1" fill="#3fc0e2" stroke="#333" stroke-width="0.75"/>
<rect x="389.6" y="13.9" width="6.1" height="6.1" fill="#3fc0e2" stroke="#333" stroke-width="0.75"/>
<path d="M406.2 28.3L410.6 20.8H401.8Z" fill="#ee6aa7" stroke="#333" stroke-width="0.75" stroke-linejoin="round"/>
<rect x="284.6" y="212.9" width="5" height="5" fill="#222"/>
<path d="M287.1 224.9L290.2 230.3H284Z" fill="#222"/>
<path d="M287.1 243L290.2 237.6H284Z" fill="#222"/>
<text x="297.6" y="218.6" font-size="10.6" >Outlier + rebound (<tspan font-style="italic">n</tspan> = 16)</text>
<text x="297.6" y="230.6" font-size="10.6" >Rebound only (<tspan font-style="italic">n</tspan> = 11)</text>
<text x="297.6" y="242.8" font-size="10.6" >Outlier only (<tspan font-style="italic">n</tspan> = 16)</text>
<path d="M451 223.8H634.7M451 187.7H634.7M451 151.6H634.7M451 115.5H634.7M451 79.4H634.7M451 43.3H634.7" stroke="#f0f0f0" stroke-width="0.8"/>
<path d="M450.7 9.2V248.1H634.7" stroke="#6e6e6e" stroke-width="1.2" fill="none"/>
<text x="440.5" y="191.4" font-size="10.5" text-anchor="end" >2</text>
<text x="440.5" y="119.2" font-size="10.5" text-anchor="end" >4</text>
<text x="440.5" y="47.0" font-size="10.5" text-anchor="end" >6</text>
<text x="469.5" y="267.4" font-size="10.5" text-anchor="middle" >1st</text>
<text x="512.4" y="267.4" font-size="10.5" text-anchor="middle" >2nd</text>
<text x="554.9" y="267.4" font-size="10.5" text-anchor="middle" >3rd</text>
<text x="597.1" y="267.4" font-size="10.5" text-anchor="middle" >4th</text>
<path d="M446.3 187.7H450.7M446.3 115.5H450.7M446.3 43.3H450.7M469.5 248.1V252.6M512.4 248.1V252.6M554.9 248.1V252.6M597.1 248.1V252.6" stroke="#6e6e6e" stroke-width="1"/>
<text x="542.7" y="284.7" font-size="13.1" text-anchor="middle" >Quartile</text>
<path d="M469.5 135.1V141.2M469.5 162.3V192.3" stroke="#555" stroke-width="0.9"/>
<rect x="459.4" y="141.2" width="20.2" height="21.1" fill="#fff" stroke="#555" stroke-width="0.9"/>
<path d="M459.4 150.4H479.6" stroke="#222" stroke-width="1.2"/>
<path d="M512.4 115.4V119.5M512.4 129.7V134" stroke="#555" stroke-width="0.9"/>
<rect x="502.3" y="119.5" width="20.2" height="10.2" fill="#fff" stroke="#555" stroke-width="0.9"/>
<path d="M502.3 124.1H522.5" stroke="#222" stroke-width="1.2"/>
<path d="M554.8 96.2V101.4M554.8 107.4V107.6" stroke="#555" stroke-width="0.9"/>
<rect x="544.7" y="101.4" width="20.2" height="6.0" fill="#fff" stroke="#555" stroke-width="0.9"/>
<path d="M544.7 105.9H564.9" stroke="#222" stroke-width="1.2"/>
<path d="M597.5 43.5V69.8M597.5 89.6V95.4" stroke="#555" stroke-width="0.9"/>
<rect x="587.4" y="69.8" width="20.2" height="19.8" fill="#fff" stroke="#555" stroke-width="0.9"/>
<path d="M587.4 80H607.6" stroke="#222" stroke-width="1.2"/>
<text x="469.5" y="221.5" font-size="10" text-anchor="middle" >1</text>
<path d="M459.3 223H479.7" stroke="#999" stroke-width="1.1"/>
<text x="469.5" y="233.0" font-size="10" text-anchor="middle" >43</text>
<text x="469.5" y="244.5" font-size="10" text-anchor="middle" >(2%)</text>
<text x="512.4" y="221.5" font-size="10" text-anchor="middle" >3</text>
<path d="M502.2 223H522.6" stroke="#999" stroke-width="1.1"/>
<text x="512.4" y="233.0" font-size="10" text-anchor="middle" >43</text>
<text x="512.4" y="244.5" font-size="10" text-anchor="middle" >(7%)</text>
<text x="554.9" y="221.5" font-size="10" text-anchor="middle" >6</text>
<path d="M544.7 223H565.1" stroke="#999" stroke-width="1.1"/>
<text x="554.9" y="233.0" font-size="10" text-anchor="middle" >43</text>
<text x="554.9" y="244.5" font-size="10" text-anchor="middle" >(14%)</text>
<text x="597.1" y="221.5" font-size="10" text-anchor="middle" >33</text>
<path d="M586.9 223H607.3" stroke="#999" stroke-width="1.1"/>
<text x="597.1" y="233.0" font-size="10" text-anchor="middle" >43</text>
<text x="597.1" y="244.5" font-size="10" text-anchor="middle" >(77%)</text>
<path d="M469.5 147.8L473.9 140.3H465.1Z" fill="#3fc0e2" stroke="#333" stroke-width="0.75" stroke-linejoin="round"/>
<path d="M507.4 115.9L511.8 123.4H503.0Z" fill="#a89b36" stroke="#333" stroke-width="0.75" stroke-linejoin="round"/>
<path d="M518.0 120.8L522.4 113.3H513.6Z" fill="#cc79bb" stroke="#333" stroke-width="0.75" stroke-linejoin="round"/>
<path d="M517.3 123.3L521.6 130.8H512.9Z" fill="#5cb85c" stroke="#333" stroke-width="0.75" stroke-linejoin="round"/>
<rect x="547.8" y="99.4" width="6.1" height="6.1" fill="#5cb85c" stroke="#333" stroke-width="0.75"/>
<rect x="539.1" y="108.0" width="6.1" height="6.1" fill="#f5821f" stroke="#333" stroke-width="0.75"/>
<path d="M547.1 118.1L551.5 110.6H542.8Z" fill="#cc79bb" stroke="#333" stroke-width="0.75" stroke-linejoin="round"/>
<path d="M553.3 116.8L557.6 109.3H548.9Z" fill="#1f6e4b" stroke="#333" stroke-width="0.75" stroke-linejoin="round"/>
<path d="M558.9 112.5L563.2 105.0H554.5Z" fill="#ee6aa7" stroke="#333" stroke-width="0.75" stroke-linejoin="round"/>
<rect x="561.1" y="109.0" width="6.1" height="6.1" fill="#5cb85c" stroke="#333" stroke-width="0.75"/>
<path d="M592.3 87.2L596.6 94.7H587.9Z" fill="#f5821f" stroke="#333" stroke-width="0.75" stroke-linejoin="round"/>
<path d="M598.7 87.6L603.1 80.1H594.4Z" fill="#3c6cbd" stroke="#333" stroke-width="0.75" stroke-linejoin="round"/>
<rect x="604.2" y="81.7" width="6.1" height="6.1" fill="#3c6cbd" stroke="#333" stroke-width="0.75"/>
<path d="M589.6 75.4L594.0 82.9H585.2Z" fill="#e41a22" stroke="#333" stroke-width="0.75" stroke-linejoin="round"/>
<path d="M590.2 76.4L594.6 68.9H585.9Z" fill="#e8e21e" stroke="#333" stroke-width="0.75" stroke-linejoin="round"/>
<path d="M599.8 76.9L604.1 69.4H595.4Z" fill="#3fc0e2" stroke="#333" stroke-width="0.75" stroke-linejoin="round"/>
<rect x="606.1" y="68.4" width="6.1" height="6.1" fill="#5cb85c" stroke="#333" stroke-width="0.75"/>
<rect x="578.6" y="56.6" width="6.1" height="6.1" fill="#3c6cbd" stroke="#333" stroke-width="0.75"/>
<path d="M588.3 58.8L592.6 66.3H583.9Z" fill="#e41a22" stroke="#333" stroke-width="0.75" stroke-linejoin="round"/>
<path d="M604.1 67.3L608.5 59.8H599.8Z" fill="#f5821f" stroke="#333" stroke-width="0.75" stroke-linejoin="round"/>
<path d="M609.4 64.1L613.8 56.6H605.0Z" fill="#e41a22" stroke="#333" stroke-width="0.75" stroke-linejoin="round"/>
<path d="M598.2 54.0L602.6 61.5H593.9Z" fill="#e8e21e" stroke="#333" stroke-width="0.75" stroke-linejoin="round"/>
<path d="M580.0 55.0L584.4 47.5H575.6Z" fill="#e41a22" stroke="#333" stroke-width="0.75" stroke-linejoin="round"/>
<path d="M587.5 56.1L591.9 48.6H583.1Z" fill="#ee6aa7" stroke="#333" stroke-width="0.75" stroke-linejoin="round"/>
<rect x="590.4" y="47.0" width="6.1" height="6.1" fill="#f5821f" stroke="#333" stroke-width="0.75"/>
<path d="M599.3 54.5L603.6 47.0H594.9Z" fill="#cc79bb" stroke="#333" stroke-width="0.75" stroke-linejoin="round"/>
<path d="M605.1 53.9L609.5 46.4H600.8Z" fill="#f5821f" stroke="#333" stroke-width="0.75" stroke-linejoin="round"/>
<path d="M596.6 58.7L601.0 51.2H592.2Z" fill="#5b47a0" stroke="#333" stroke-width="0.75" stroke-linejoin="round"/>
<path d="M574.1 43.3L578.5 50.8H569.8Z" fill="#f5821f" stroke="#333" stroke-width="0.75" stroke-linejoin="round"/>
<path d="M585.1 40.6L589.5 48.1H580.8Z" fill="#3fc0e2" stroke="#333" stroke-width="0.75" stroke-linejoin="round"/>
<rect x="609.1" y="44.8" width="6.1" height="6.1" fill="#3fc0e2" stroke="#333" stroke-width="0.75"/>
<rect x="616.6" y="41.8" width="6.1" height="6.1" fill="#f5821f" stroke="#333" stroke-width="0.75"/>
<rect x="602.7" y="39.5" width="6.1" height="6.1" fill="#5cb85c" stroke="#333" stroke-width="0.75"/>
<path d="M583.7 33.7L588.1 41.2H579.4Z" fill="#5cb85c" stroke="#333" stroke-width="0.75" stroke-linejoin="round"/>
<rect x="589.8" y="34.2" width="6.1" height="6.1" fill="#5cb85c" stroke="#333" stroke-width="0.75"/>
<rect x="601.1" y="32.2" width="6.1" height="6.1" fill="#5cb85c" stroke="#333" stroke-width="0.75"/>
<rect x="611.4" y="32.2" width="6.1" height="6.1" fill="#5cb85c" stroke="#333" stroke-width="0.75"/>
<path d="M599.5 35.3L603.9 42.8H595.1Z" fill="#3c6cbd" stroke="#333" stroke-width="0.75" stroke-linejoin="round"/>
<path d="M609.7 35.3L614.1 42.8H605.4Z" fill="#a89b36" stroke="#333" stroke-width="0.75" stroke-linejoin="round"/>
<rect x="587.2" y="25.2" width="6.1" height="6.1" fill="#5cb85c" stroke="#333" stroke-width="0.75"/>
<rect x="593.6" y="22.2" width="6.1" height="6.1" fill="#3fc0e2" stroke="#333" stroke-width="0.75"/>
<path d="M605.1 28.2L609.5 20.7H600.8Z" fill="#ee6aa7" stroke="#333" stroke-width="0.75" stroke-linejoin="round"/>
<rect x="597.1" y="14.6" width="6.1" height="6.1" fill="#3fc0e2" stroke="#333" stroke-width="0.75"/>
<circle cx="653.0" cy="18.0" r="3.5" fill="#ee6aa7" stroke="#444" stroke-width="0.7"/>
<text x="664.9" y="21.6" font-size="10" >AV1</text>
<circle cx="653.0" cy="33.2" r="3.5" fill="#cc79bb" stroke="#444" stroke-width="0.7"/>
<text x="664.9" y="36.8" font-size="10" >AV2</text>
<circle cx="653.0" cy="48.3" r="3.5" fill="#5b47a0" stroke="#444" stroke-width="0.7"/>
<text x="664.9" y="51.9" font-size="10" >AV3</text>
<circle cx="653.0" cy="63.5" r="3.5" fill="#1f6e4b" stroke="#444" stroke-width="0.7"/>
<text x="664.9" y="67.1" font-size="10" >AV4</text>
<circle cx="653.0" cy="78.7" r="3.5" fill="#e41a22" stroke="#444" stroke-width="0.7"/>
<text x="664.9" y="82.3" font-size="10" >LV1</text>
<circle cx="653.0" cy="93.8" r="3.5" fill="#e8e21e" stroke="#444" stroke-width="0.7"/>
<text x="664.9" y="97.4" font-size="10" >LV2</text>
<circle cx="653.0" cy="109.0" r="3.5" fill="#a89b36" stroke="#444" stroke-width="0.7"/>
<text x="664.9" y="112.6" font-size="10" >LV3</text>
<circle cx="653.0" cy="124.2" r="3.5" fill="#3fc0e2" stroke="#444" stroke-width="0.7"/>
<text x="664.9" y="127.8" font-size="10" >LV4</text>
<circle cx="653.0" cy="139.4" r="3.5" fill="#3c6cbd" stroke="#444" stroke-width="0.7"/>
<text x="664.9" y="143.0" font-size="10" >LV5</text>
<circle cx="653.0" cy="154.5" r="3.5" fill="#f5821f" stroke="#444" stroke-width="0.7"/>
<text x="664.9" y="158.1" font-size="10" >LV6</text>
<circle cx="653.0" cy="169.7" r="3.5" fill="#5cb85c" stroke="#444" stroke-width="0.7"/>
<text x="664.9" y="173.3" font-size="10" >HV1</text>
<g>
<rect x="3.4" y="305.1" width="115.8" height="88.2" fill="#eff6fc"/>
<rect x="129.9" y="305.1" width="229.3" height="88.2" fill="#eff6fc"/>
<rect x="368.6" y="305.1" width="116.8" height="88.2" fill="#eff6fc"/>
<rect x="3.4" y="404.5" width="115.8" height="189.0" fill="#eff6fc"/>
<rect x="129.9" y="404.5" width="229.3" height="189.0" fill="#eff6fc"/>
<rect x="368.6" y="404.5" width="116.8" height="189.0" fill="#eff6fc"/>
<rect x="3.4" y="606.6" width="115.8" height="114.7" fill="#eff6fc"/>
<rect x="129.9" y="606.6" width="229.3" height="114.7" fill="#eff6fc"/>
<rect x="368.6" y="606.6" width="116.8" height="114.7" fill="#eff6fc"/>
<rect x="3.4" y="733.4" width="115.8" height="28.8" fill="#eff6fc"/>
<rect x="129.9" y="733.4" width="229.3" height="28.8" fill="#eff6fc"/>
<rect x="368.6" y="733.4" width="116.8" height="28.8" fill="#eff6fc"/>
<rect x="17.88" y="319.80" width="14.47" height="14.70" fill="#eebb6b"/>
<rect x="32.35" y="319.80" width="14.47" height="14.70" fill="#f0a35e"/>
<rect x="46.82" y="334.50" width="14.47" height="14.70" fill="#f08b5f"/>
<rect x="90.25" y="349.20" width="14.47" height="14.70" fill="#f0a35e"/>
<rect x="3.40" y="549.88" width="14.47" height="14.54" fill="#e9d294"/>
<rect x="61.30" y="578.96" width="14.47" height="14.54" fill="#f08b5f"/>
<rect x="75.78" y="578.96" width="14.47" height="14.54" fill="#e8517c"/>
<rect x="104.73" y="578.96" width="14.47" height="14.54" fill="#eebb6b"/>
<rect x="172.89" y="305.10" width="14.33" height="14.70" fill="#e9d294"/>
<rect x="187.22" y="319.80" width="14.33" height="14.70" fill="#f0a35e"/>
<rect x="201.56" y="378.60" width="14.33" height="14.70" fill="#efab5f"/>
<rect x="287.54" y="363.90" width="14.33" height="14.70" fill="#e9d294"/>
<rect x="330.54" y="363.90" width="14.33" height="14.70" fill="#f0a35e"/>
<rect x="344.87" y="363.90" width="14.33" height="14.70" fill="#e9d294"/>
<rect x="344.87" y="378.60" width="14.33" height="14.70" fill="#ebc574"/>
<rect x="158.56" y="404.50" width="14.33" height="14.54" fill="#f07c68"/>
<rect x="244.55" y="433.58" width="14.33" height="14.54" fill="#eebb6b"/>
<rect x="258.88" y="433.58" width="14.33" height="14.54" fill="#f08b5f"/>
<rect x="144.23" y="448.12" width="14.33" height="14.54" fill="#f0a35e"/>
<rect x="230.22" y="448.12" width="14.33" height="14.54" fill="#8b2a8d"/>
<rect x="201.56" y="462.65" width="14.33" height="14.54" fill="#e9d294"/>
<rect x="301.88" y="462.65" width="14.33" height="14.54" fill="#f0a35e"/>
<rect x="330.54" y="462.65" width="14.33" height="14.54" fill="#ee6478"/>
<rect x="273.21" y="477.19" width="14.33" height="14.54" fill="#f08b5f"/>
<rect x="215.89" y="491.73" width="14.33" height="14.54" fill="#f07c68"/>
<rect x="230.22" y="491.73" width="14.33" height="14.54" fill="#f0a35e"/>
<rect x="316.21" y="491.73" width="14.33" height="14.54" fill="#eebb6b"/>
<rect x="330.54" y="491.73" width="14.33" height="14.54" fill="#8b2a8d"/>
<rect x="344.87" y="491.73" width="14.33" height="14.54" fill="#f08b5f"/>
<rect x="129.90" y="663.95" width="14.33" height="14.34" fill="#f0a35e"/>
<rect x="456.20" y="334.50" width="14.60" height="14.70" fill="#f0a35e"/>
<rect x="470.80" y="334.50" width="14.60" height="14.70" fill="#eebb6b"/>
<rect x="470.80" y="349.20" width="14.60" height="14.70" fill="#eebb6b"/>
<rect x="456.20" y="363.90" width="14.60" height="14.70" fill="#e9d294"/>
<rect x="470.80" y="363.90" width="14.60" height="14.70" fill="#ee6478"/>
<rect x="456.20" y="378.60" width="14.60" height="14.70" fill="#f08b5f"/>
<rect x="470.80" y="378.60" width="14.60" height="14.70" fill="#ee6478"/>
<rect x="412.40" y="404.50" width="14.60" height="14.54" fill="#e9d294"/>
<rect x="441.60" y="404.50" width="14.60" height="14.54" fill="#f0a35e"/>
<rect x="456.20" y="404.50" width="14.60" height="14.54" fill="#ee6478"/>
<rect x="470.80" y="404.50" width="14.60" height="14.54" fill="#d2328e"/>
<rect x="368.60" y="419.04" width="14.60" height="14.54" fill="#f0a35e"/>
<rect x="397.80" y="419.04" width="14.60" height="14.54" fill="#eebb6b"/>
<rect x="427.00" y="419.04" width="14.60" height="14.54" fill="#ee6478"/>
<rect x="441.60" y="419.04" width="14.60" height="14.54" fill="#f0a35e"/>
<rect x="456.20" y="419.04" width="14.60" height="14.54" fill="#8b2a8d"/>
<rect x="470.80" y="419.04" width="14.60" height="14.54" fill="#8b2a8d"/>
<rect x="456.20" y="433.58" width="14.60" height="14.54" fill="#d2328e"/>
<rect x="470.80" y="433.58" width="14.60" height="14.54" fill="#ee6478"/>
<rect x="456.20" y="448.12" width="14.60" height="14.54" fill="#e54c86"/>
<rect x="470.80" y="448.12" width="14.60" height="14.54" fill="#8b2a8d"/>
<rect x="441.60" y="462.65" width="14.60" height="14.54" fill="#f0a35e"/>
<rect x="456.20" y="462.65" width="14.60" height="14.54" fill="#8b2a8d"/>
<rect x="470.80" y="462.65" width="14.60" height="14.54" fill="#d2328e"/>
<rect x="427.00" y="477.19" width="14.60" height="14.54" fill="#7a2a8c"/>
<rect x="456.20" y="477.19" width="14.60" height="14.54" fill="#d2328e"/>
<rect x="470.80" y="477.19" width="14.60" height="14.54" fill="#4d2d8b"/>
<rect x="397.80" y="491.73" width="14.60" height="14.54" fill="#ee6478"/>
<rect x="456.20" y="491.73" width="14.60" height="14.54" fill="#f07c68"/>
<rect x="470.80" y="491.73" width="14.60" height="14.54" fill="#d2328e"/>
<rect x="383.20" y="506.27" width="14.60" height="14.54" fill="#d2328e"/>
<rect x="397.80" y="506.27" width="14.60" height="14.54" fill="#d83a88"/>
<rect x="441.60" y="506.27" width="14.60" height="14.54" fill="#e54c86"/>
<rect x="456.20" y="506.27" width="14.60" height="14.54" fill="#d43a8c"/>
<rect x="470.80" y="506.27" width="14.60" height="14.54" fill="#d2328e"/>
<rect x="397.80" y="520.81" width="14.60" height="14.54" fill="#eebb6b"/>
<rect x="427.00" y="520.81" width="14.60" height="14.54" fill="#e9d294"/>
<rect x="470.80" y="520.81" width="14.60" height="14.54" fill="#d2328e"/>
<rect x="427.00" y="535.35" width="14.60" height="14.54" fill="#f07c68"/>
<rect x="470.80" y="535.35" width="14.60" height="14.54" fill="#f0a35e"/>
<rect x="470.80" y="549.88" width="14.60" height="14.54" fill="#ee6478"/>
<rect x="412.40" y="564.42" width="14.60" height="14.54" fill="#f08b5f"/>
<rect x="470.80" y="564.42" width="14.60" height="14.54" fill="#e85582"/>
<rect x="470.80" y="578.96" width="14.60" height="14.54" fill="#f07c68"/>
<rect x="397.80" y="606.60" width="14.60" height="14.34" fill="#e54c86"/>
<rect x="470.80" y="606.60" width="14.60" height="14.34" fill="#eebb6b"/>
<rect x="427.00" y="620.94" width="14.60" height="14.34" fill="#e9d294"/>
<rect x="470.80" y="620.94" width="14.60" height="14.34" fill="#eebb6b"/>
<rect x="368.60" y="635.27" width="14.60" height="14.34" fill="#f0a35e"/>
<rect x="456.20" y="635.27" width="14.60" height="14.34" fill="#b42d90"/>
<rect x="470.80" y="635.27" width="14.60" height="14.34" fill="#d2328e"/>
<rect x="397.80" y="649.61" width="14.60" height="14.34" fill="#f09a5c"/>
<rect x="456.20" y="649.61" width="14.60" height="14.34" fill="#d2328e"/>
<rect x="470.80" y="649.61" width="14.60" height="14.34" fill="#dc3c88"/>
<rect x="427.00" y="663.95" width="14.60" height="14.34" fill="#f08b5f"/>
<rect x="470.80" y="663.95" width="14.60" height="14.34" fill="#8b2a8d"/>
<rect x="441.60" y="678.29" width="14.60" height="14.34" fill="#f0a35e"/>
<rect x="456.20" y="678.29" width="14.60" height="14.34" fill="#ee6478"/>
<rect x="427.00" y="692.62" width="14.60" height="14.34" fill="#f08b5f"/>
<rect x="470.80" y="692.62" width="14.60" height="14.34" fill="#e54c86"/>
<rect x="470.80" y="706.96" width="14.60" height="14.34" fill="#f07c68"/>
<rect x="470.80" y="733.40" width="14.60" height="14.40" fill="#eebb6b"/>
<rect x="456.20" y="747.80" width="14.60" height="14.40" fill="#f0a35e"/>
<path d="M3.40 305.10V393.30M17.88 305.10V393.30M32.35 305.10V393.30M46.82 305.10V393.30M61.30 305.10V393.30M75.78 305.10V393.30M90.25 305.10V393.30M104.73 305.10V393.30M119.20 305.10V393.30M3.40 305.10H119.20M3.40 319.80H119.20M3.40 334.50H119.20M3.40 349.20H119.20M3.40 363.90H119.20M3.40 378.60H119.20M3.40 393.30H119.20M129.90 305.10V393.30M144.23 305.10V393.30M158.56 305.10V393.30M172.89 305.10V393.30M187.22 305.10V393.30M201.56 305.10V393.30M215.89 305.10V393.30M230.22 305.10V393.30M244.55 305.10V393.30M258.88 305.10V393.30M273.21 305.10V393.30M287.54 305.10V393.30M301.88 305.10V393.30M316.21 305.10V393.30M330.54 305.10V393.30M344.87 305.10V393.30M359.20 305.10V393.30M129.90 305.10H359.20M129.90 319.80H359.20M129.90 334.50H359.20M129.90 349.20H359.20M129.90 363.90H359.20M129.90 378.60H359.20M129.90 393.30H359.20M368.60 305.10V393.30M383.20 305.10V393.30M397.80 305.10V393.30M412.40 305.10V393.30M427.00 305.10V393.30M441.60 305.10V393.30M456.20 305.10V393.30M470.80 305.10V393.30M485.40 305.10V393.30M368.60 305.10H485.40M368.60 319.80H485.40M368.60 334.50H485.40M368.60 349.20H485.40M368.60 363.90H485.40M368.60 378.60H485.40M368.60 393.30H485.40M3.40 404.50V593.50M17.88 404.50V593.50M32.35 404.50V593.50M46.82 404.50V593.50M61.30 404.50V593.50M75.78 404.50V593.50M90.25 404.50V593.50M104.73 404.50V593.50M119.20 404.50V593.50M3.40 404.50H119.20M3.40 419.04H119.20M3.40 433.58H119.20M3.40 448.12H119.20M3.40 462.65H119.20M3.40 477.19H119.20M3.40 491.73H119.20M3.40 506.27H119.20M3.40 520.81H119.20M3.40 535.35H119.20M3.40 549.88H119.20M3.40 564.42H119.20M3.40 578.96H119.20M3.40 593.50H119.20M129.90 404.50V593.50M144.23 404.50V593.50M158.56 404.50V593.50M172.89 404.50V593.50M187.22 404.50V593.50M201.56 404.50V593.50M215.89 404.50V593.50M230.22 404.50V593.50M244.55 404.50V593.50M258.88 404.50V593.50M273.21 404.50V593.50M287.54 404.50V593.50M301.88 404.50V593.50M316.21 404.50V593.50M330.54 404.50V593.50M344.87 404.50V593.50M359.20 404.50V593.50M129.90 404.50H359.20M129.90 419.04H359.20M129.90 433.58H359.20M129.90 448.12H359.20M129.90 462.65H359.20M129.90 477.19H359.20M129.90 491.73H359.20M129.90 506.27H359.20M129.90 520.81H359.20M129.90 535.35H359.20M129.90 549.88H359.20M129.90 564.42H359.20M129.90 578.96H359.20M129.90 593.50H359.20M368.60 404.50V593.50M383.20 404.50V593.50M397.80 404.50V593.50M412.40 404.50V593.50M427.00 404.50V593.50M441.60 404.50V593.50M456.20 404.50V593.50M470.80 404.50V593.50M485.40 404.50V593.50M368.60 404.50H485.40M368.60 419.04H485.40M368.60 433.58H485.40M368.60 448.12H485.40M368.60 462.65H485.40M368.60 477.19H485.40M368.60 491.73H485.40M368.60 506.27H485.40M368.60 520.81H485.40M368.60 535.35H485.40M368.60 549.88H485.40M368.60 564.42H485.40M368.60 578.96H485.40M368.60 593.50H485.40M3.40 606.60V721.30M17.88 606.60V721.30M32.35 606.60V721.30M46.82 606.60V721.30M61.30 606.60V721.30M75.78 606.60V721.30M90.25 606.60V721.30M104.73 606.60V721.30M119.20 606.60V721.30M3.40 606.60H119.20M3.40 620.94H119.20M3.40 635.27H119.20M3.40 649.61H119.20M3.40 663.95H119.20M3.40 678.29H119.20M3.40 692.62H119.20M3.40 706.96H119.20M3.40 721.30H119.20M129.90 606.60V721.30M144.23 606.60V721.30M158.56 606.60V721.30M172.89 606.60V721.30M187.22 606.60V721.30M201.56 606.60V721.30M215.89 606.60V721.30M230.22 606.60V721.30M244.55 606.60V721.30M258.88 606.60V721.30M273.21 606.60V721.30M287.54 606.60V721.30M301.88 606.60V721.30M316.21 606.60V721.30M330.54 606.60V721.30M344.87 606.60V721.30M359.20 606.60V721.30M129.90 606.60H359.20M129.90 620.94H359.20M129.90 635.27H359.20M129.90 649.61H359.20M129.90 663.95H359.20M129.90 678.29H359.20M129.90 692.62H359.20M129.90 706.96H359.20M129.90 721.30H359.20M368.60 606.60V721.30M383.20 606.60V721.30M397.80 606.60V721.30M412.40 606.60V721.30M427.00 606.60V721.30M441.60 606.60V721.30M456.20 606.60V721.30M470.80 606.60V721.30M485.40 606.60V721.30M368.60 606.60H485.40M368.60 620.94H485.40M368.60 635.27H485.40M368.60 649.61H485.40M368.60 663.95H485.40M368.60 678.29H485.40M368.60 692.62H485.40M368.60 706.96H485.40M368.60 721.30H485.40M3.40 733.40V762.20M17.88 733.40V762.20M32.35 733.40V762.20M46.82 733.40V762.20M61.30 733.40V762.20M75.78 733.40V762.20M90.25 733.40V762.20M104.73 733.40V762.20M119.20 733.40V762.20M3.40 733.40H119.20M3.40 747.80H119.20M3.40 762.20H119.20M129.90 733.40V762.20M144.23 733.40V762.20M158.56 733.40V762.20M172.89 733.40V762.20M187.22 733.40V762.20M201.56 733.40V762.20M215.89 733.40V762.20M230.22 733.40V762.20M244.55 733.40V762.20M258.88 733.40V762.20M273.21 733.40V762.20M287.54 733.40V762.20M301.88 733.40V762.20M316.21 733.40V762.20M330.54 733.40V762.20M344.87 733.40V762.20M359.20 733.40V762.20M129.90 733.40H359.20M129.90 747.80H359.20M129.90 762.20H359.20M368.60 733.40V762.20M383.20 733.40V762.20M397.80 733.40V762.20M412.40 733.40V762.20M427.00 733.40V762.20M441.60 733.40V762.20M456.20 733.40V762.20M470.80 733.40V762.20M485.40 733.40V762.20M368.60 733.40H485.40M368.60 747.80H485.40M368.60 762.20H485.40" stroke="#bcc0c6" stroke-width="1" fill="none"/>
<rect x="17.88" y="319.80" width="14.47" height="14.70" fill="none" stroke="#48c6e8" stroke-width="2.2"/>
<rect x="32.35" y="319.80" width="14.47" height="14.70" fill="none" stroke="#48c6e8" stroke-width="2.2"/>
<rect x="46.82" y="334.50" width="14.47" height="14.70" fill="none" stroke="#48c6e8" stroke-width="2.2"/>
<rect x="90.25" y="349.20" width="14.47" height="14.70" fill="none" stroke="#48c6e8" stroke-width="2.2"/>
<rect x="3.40" y="549.88" width="14.47" height="14.54" fill="none" stroke="#48c6e8" stroke-width="2.2"/>
<rect x="61.30" y="578.96" width="14.47" height="14.54" fill="none" stroke="#48c6e8" stroke-width="2.2"/>
<rect x="75.78" y="578.96" width="14.47" height="14.54" fill="none" stroke="#48c6e8" stroke-width="2.2"/>
<rect x="104.73" y="578.96" width="14.47" height="14.54" fill="none" stroke="#48c6e8" stroke-width="2.2"/>
<rect x="172.89" y="305.10" width="14.33" height="14.70" fill="none" stroke="#48c6e8" stroke-width="2.2"/>
<rect x="187.22" y="319.80" width="14.33" height="14.70" fill="none" stroke="#48c6e8" stroke-width="2.2"/>
<rect x="287.54" y="363.90" width="14.33" height="14.70" fill="none" stroke="#48c6e8" stroke-width="2.2"/>
<rect x="158.56" y="404.50" width="14.33" height="14.54" fill="none" stroke="#48c6e8" stroke-width="2.2"/>
<rect x="244.55" y="433.58" width="14.33" height="14.54" fill="none" stroke="#48c6e8" stroke-width="2.2"/>
<rect x="258.88" y="433.58" width="14.33" height="14.54" fill="none" stroke="#48c6e8" stroke-width="2.2"/>
<rect x="144.23" y="448.12" width="14.33" height="14.54" fill="none" stroke="#48c6e8" stroke-width="2.2"/>
<rect x="230.22" y="448.12" width="14.33" height="14.54" fill="none" stroke="#48c6e8" stroke-width="2.2"/>
<rect x="301.88" y="462.65" width="14.33" height="14.54" fill="none" stroke="#48c6e8" stroke-width="2.2"/>
<rect x="273.21" y="477.19" width="14.33" height="14.54" fill="none" stroke="#48c6e8" stroke-width="2.2"/>
<rect x="215.89" y="491.73" width="14.33" height="14.54" fill="none" stroke="#48c6e8" stroke-width="2.2"/>
<rect x="316.21" y="491.73" width="14.33" height="14.54" fill="none" stroke="#48c6e8" stroke-width="2.2"/>
<rect x="330.54" y="491.73" width="14.33" height="14.54" fill="none" stroke="#48c6e8" stroke-width="2.2"/>
<rect x="344.87" y="491.73" width="14.33" height="14.54" fill="none" stroke="#48c6e8" stroke-width="2.2"/>
<rect x="129.90" y="663.95" width="14.33" height="14.34" fill="none" stroke="#48c6e8" stroke-width="2.2"/>
<rect x="427.00" y="477.19" width="14.60" height="14.54" fill="none" stroke="#48c6e8" stroke-width="2.2"/>
<rect x="383.20" y="506.27" width="14.60" height="14.54" fill="none" stroke="#48c6e8" stroke-width="2.2"/>
<rect x="441.60" y="506.27" width="14.60" height="14.54" fill="none" stroke="#48c6e8" stroke-width="2.2"/>
<rect x="412.40" y="564.42" width="14.60" height="14.54" fill="none" stroke="#48c6e8" stroke-width="2.2"/>
</g>
<text x="491.4" y="316.2" font-size="11.04" >Upper jejunum</text>
<text x="491.4" y="330.9" font-size="11.04" >Lower jejunum</text>
<text x="491.4" y="345.6" font-size="10.95" >Cecum</text>
<text x="491.4" y="360.2" font-size="11.2" >Ascending colon</text>
<text x="491.4" y="374.9" font-size="10.9" >Transverse colon</text>
<text x="491.4" y="389.6" font-size="11.17" >Descending colon</text>
<text x="491.4" y="415.5" font-size="10.87" >Mesenteric LN</text>
<text x="491.4" y="430.0" font-size="10.92" >Superior mesenteric LN</text>
<text x="491.4" y="444.5" font-size="10.92" >Ileocecal LN</text>
<text x="491.4" y="459.1" font-size="10.99" >Ascending colon LN</text>
<text x="491.4" y="473.6" font-size="10.74" >Transverse colon LN</text>
<text x="491.4" y="488.2" font-size="11.06" >Descending colon LN</text>
<text x="491.4" y="502.7" font-size="10.9" >Mesocolic LN</text>
<text x="491.4" y="517.2" font-size="11.07" >Abdominal para-aortic LN</text>
<text x="491.4" y="531.8" font-size="10.69" >Gastric LN</text>
<text x="491.4" y="546.3" font-size="10.73" >Pancreatic LN</text>
<text x="491.4" y="560.9" font-size="10.96" >Submandibular LN</text>
<text x="491.4" y="575.4" font-size="10.89" >Retropharyngeal LN</text>
<text x="491.4" y="589.9" font-size="11.2" >Tonsil</text>
<text x="491.4" y="617.5" font-size="10.93" >Thoracic para-aortic LN</text>
<text x="491.4" y="631.8" font-size="10.85" >Deep cervical LN</text>
<text x="491.4" y="646.1" font-size="10.79" >Spleen</text>
<text x="491.4" y="660.5" font-size="10.87" >Perisplenic LN</text>
<text x="491.4" y="674.8" font-size="11.02" >Intercostal LN</text>
<text x="491.4" y="689.2" font-size="10.74" >Hilar LN</text>
<text x="491.4" y="703.5" font-size="10.77" >Iliac LN</text>
<text x="491.4" y="717.8" font-size="10.88" >Axillary LN</text>
<text x="491.4" y="744.3" font-size="11.1" >Liver, medial</text>
<text x="491.4" y="758.7" font-size="11.2" >Lung, middle</text>
<text x="14.1" y="768.4" font-size="10" text-anchor="end" textLength="38.699999999999996" lengthAdjust="spacingAndGlyphs" transform="rotate(-90 14.1 768.4)" >AV1.194</text>
<text x="28.6" y="768.4" font-size="10" text-anchor="end" textLength="33.699999999999996" lengthAdjust="spacingAndGlyphs" transform="rotate(-90 28.6 768.4)" >AV1.68</text>
<text x="43.1" y="768.4" font-size="10" text-anchor="end" textLength="33.699999999999996" lengthAdjust="spacingAndGlyphs" transform="rotate(-90 43.1 768.4)" >AV1.93</text>
<text x="57.6" y="768.4" font-size="10" text-anchor="end" textLength="47.4" lengthAdjust="spacingAndGlyphs" transform="rotate(-90 57.6 768.4)" >AV2.2022</text>
<text x="72.0" y="768.4" font-size="10" text-anchor="end" textLength="45.199999999999996" lengthAdjust="spacingAndGlyphs" transform="rotate(-90 72.0 768.4)" >AV2.4152</text>
<text x="86.5" y="768.4" font-size="10" text-anchor="end" textLength="41.0" lengthAdjust="spacingAndGlyphs" transform="rotate(-90 86.5 768.4)" >AV2.452</text>
<text x="101.0" y="768.4" font-size="10" text-anchor="end" textLength="30.099999999999998" lengthAdjust="spacingAndGlyphs" transform="rotate(-90 101.0 768.4)" >AV3.2</text>
<text x="115.5" y="768.4" font-size="10" text-anchor="end" textLength="42.3" lengthAdjust="spacingAndGlyphs" transform="rotate(-90 115.5 768.4)" >AV4.268</text>
<text x="140.6" y="768.4" font-size="10" text-anchor="end" textLength="42.8" lengthAdjust="spacingAndGlyphs" transform="rotate(-90 140.6 768.4)" >LV2.1012</text>
<text x="154.9" y="768.4" font-size="10" text-anchor="end" textLength="44.5" lengthAdjust="spacingAndGlyphs" transform="rotate(-90 154.9 768.4)" >LV2.2557</text>
<text x="169.2" y="768.4" font-size="10" text-anchor="end" textLength="48.0" lengthAdjust="spacingAndGlyphs" transform="rotate(-90 169.2 768.4)" >LV3.2431*</text>
<text x="183.6" y="768.4" font-size="10" text-anchor="end" textLength="39.3" lengthAdjust="spacingAndGlyphs" transform="rotate(-90 183.6 768.4)" >LV4.385</text>
<text x="197.9" y="768.4" font-size="10" text-anchor="end" textLength="44.5" lengthAdjust="spacingAndGlyphs" transform="rotate(-90 197.9 768.4)" >LV4.5017</text>
<text x="212.2" y="768.4" font-size="10" text-anchor="end" textLength="48.0" lengthAdjust="spacingAndGlyphs" transform="rotate(-90 212.2 768.4)" >LV4.1872*</text>
<text x="226.6" y="768.4" font-size="10" text-anchor="end" textLength="51.0" lengthAdjust="spacingAndGlyphs" transform="rotate(-90 226.6 768.4)" >LV4.5385*</text>
<text x="240.9" y="768.4" font-size="10" text-anchor="end" textLength="41.9" lengthAdjust="spacingAndGlyphs" transform="rotate(-90 240.9 768.4)" >LV4.213*</text>
<text x="255.2" y="768.4" font-size="10" text-anchor="end" textLength="39.199999999999996" lengthAdjust="spacingAndGlyphs" transform="rotate(-90 255.2 768.4)" >LV5.401</text>
<text x="269.5" y="768.4" font-size="10" text-anchor="end" textLength="49.199999999999996" lengthAdjust="spacingAndGlyphs" transform="rotate(-90 269.5 768.4)" >LV5.1078*</text>
<text x="283.9" y="768.4" font-size="10" text-anchor="end" textLength="50.199999999999996" lengthAdjust="spacingAndGlyphs" transform="rotate(-90 283.9 768.4)" >LV5.3338*</text>
<text x="298.2" y="768.4" font-size="10" text-anchor="end" textLength="45.6" lengthAdjust="spacingAndGlyphs" transform="rotate(-90 298.2 768.4)" >LV6.6626</text>
<text x="312.5" y="768.4" font-size="10" text-anchor="end" textLength="49.199999999999996" lengthAdjust="spacingAndGlyphs" transform="rotate(-90 312.5 768.4)" >LV6.8128*</text>
<text x="326.9" y="768.4" font-size="10" text-anchor="end" textLength="52.5" lengthAdjust="spacingAndGlyphs" transform="rotate(-90 326.9 768.4)" >LV6.4406*</text>
<text x="341.2" y="768.4" font-size="10" text-anchor="end" textLength="51.1" lengthAdjust="spacingAndGlyphs" transform="rotate(-90 341.2 768.4)" >LV6.3963*</text>
<text x="355.5" y="768.4" font-size="10" text-anchor="end" textLength="46.5" lengthAdjust="spacingAndGlyphs" transform="rotate(-90 355.5 768.4)" >LV6.2567</text>
<text x="379.4" y="768.4" font-size="10" text-anchor="end" textLength="47.4" lengthAdjust="spacingAndGlyphs" transform="rotate(-90 379.4 768.4)" >HV1.2440</text>
<text x="394.0" y="768.4" font-size="10" text-anchor="end" textLength="47.4" lengthAdjust="spacingAndGlyphs" transform="rotate(-90 394.0 768.4)" >HV1.4116*</text>
<text x="408.6" y="768.4" font-size="10" text-anchor="end" textLength="45.199999999999996" lengthAdjust="spacingAndGlyphs" transform="rotate(-90 408.6 768.4)" >HV1.994*</text>
<text x="423.2" y="768.4" font-size="10" text-anchor="end" textLength="49.199999999999996" lengthAdjust="spacingAndGlyphs" transform="rotate(-90 423.2 768.4)" >HV1.1322*</text>
<text x="437.8" y="768.4" font-size="10" text-anchor="end" textLength="49.199999999999996" lengthAdjust="spacingAndGlyphs" transform="rotate(-90 437.8 768.4)" >HV1.3139*</text>
<text x="452.4" y="768.4" font-size="10" text-anchor="end" textLength="50.699999999999996" lengthAdjust="spacingAndGlyphs" transform="rotate(-90 452.4 768.4)" >HV1.7069*</text>
<text x="467.0" y="768.4" font-size="10" text-anchor="end" textLength="48.9" lengthAdjust="spacingAndGlyphs" transform="rotate(-90 467.0 768.4)" >HV1.1547*</text>
<text x="481.6" y="768.4" font-size="10" text-anchor="end" textLength="44.699999999999996" lengthAdjust="spacingAndGlyphs" transform="rotate(-90 481.6 768.4)" >HV1.457*</text>
<text x="60.0" y="840.0" font-size="13" text-anchor="middle" >Aviraemic</text>
<text x="61.5" y="854.8" font-size="12.6" text-anchor="middle" >(Fig. 3)</text>
<text x="244.0" y="840.0" font-size="13" text-anchor="middle" >Low viraemic</text>
<text x="245.5" y="854.8" font-size="12.6" text-anchor="middle" >(Fig. 4)</text>
<text x="426.0" y="840.0" font-size="13" text-anchor="middle" >High viraemic</text>
<text x="427.5" y="854.8" font-size="12.6" text-anchor="middle" >(Fig. 5)</text>
<rect x="636.5" y="306.7" width="3.7" height="82.3" fill="#3d4ba4"/>
<rect x="636.5" y="405.3" width="3.7" height="186.8" fill="#e5202a"/>
<rect x="636.5" y="611.9" width="3.7" height="111.6" fill="#1a9a50"/>
<rect x="560.3" y="738" width="3.5" height="24" fill="#a04aa0"/>
<text x="649.0" y="348.0" font-size="13" text-anchor="middle" transform="rotate(90 649.0 348.0)" >GI tract</text>
<text x="648.0" y="498.5" font-size="13" text-anchor="middle" transform="rotate(90 648.0 498.5)" >GI lymphoid tissues</text>
<text x="664.0" y="666.0" font-size="13" text-anchor="middle" transform="rotate(90 664.0 666.0)" >Non-GI lymphoid</text>
<text x="648.0" y="667.7" font-size="13" text-anchor="middle" transform="rotate(90 648.0 667.7)" >tissues</text>
<text x="569.7" y="746.5" font-size="13" >Non-lymphoid</text>
<text x="569.7" y="761.5" font-size="13" >tissues</text>
<path d="M596 553.9H602.4V592.1H596" stroke="#555" stroke-width="1" fill="none"/>
<text x="605.5" y="572.3" font-size="10.8" text-anchor="middle" transform="rotate(90 605.5 572.3)" >Oral</text>
<rect x="527.00" y="801.3" width="4.20" height="19.3" fill="#4e2c8b"/>
<rect x="530.30" y="801.3" width="4.20" height="19.3" fill="#572b8c"/>
<rect x="533.60" y="801.3" width="4.20" height="19.3" fill="#602b8e"/>
<rect x="536.90" y="801.3" width="4.20" height="19.3" fill="#692a90"/>
<rect x="540.20" y="801.3" width="4.20" height="19.3" fill="#742a8f"/>
<rect x="543.49" y="801.3" width="4.20" height="19.3" fill="#802a8d"/>
<rect x="546.79" y="801.3" width="4.20" height="19.3" fill="#8b2a8c"/>
<rect x="550.09" y="801.3" width="4.20" height="19.3" fill="#982b8d"/>
<rect x="553.39" y="801.3" width="4.20" height="19.3" fill="#a42b8d"/>
<rect x="556.69" y="801.3" width="4.20" height="19.3" fill="#b12c8e"/>
<rect x="559.99" y="801.3" width="4.20" height="19.3" fill="#bf2e8d"/>
<rect x="563.29" y="801.3" width="4.20" height="19.3" fill="#cd308c"/>
<rect x="566.59" y="801.3" width="4.20" height="19.3" fill="#d73989"/>
<rect x="569.88" y="801.3" width="4.20" height="19.3" fill="#e04585"/>
<rect x="573.18" y="801.3" width="4.20" height="19.3" fill="#e5527e"/>
<rect x="576.48" y="801.3" width="4.20" height="19.3" fill="#e95d78"/>
<rect x="579.78" y="801.3" width="4.20" height="19.3" fill="#ec6672"/>
<rect x="583.08" y="801.3" width="4.20" height="19.3" fill="#ef6f6c"/>
<rect x="586.38" y="801.3" width="4.20" height="19.3" fill="#ef7b67"/>
<rect x="589.68" y="801.3" width="4.20" height="19.3" fill="#f08762"/>
<rect x="592.98" y="801.3" width="4.20" height="19.3" fill="#f1925f"/>
<rect x="596.27" y="801.3" width="4.20" height="19.3" fill="#f19c5f"/>
<rect x="599.57" y="801.3" width="4.20" height="19.3" fill="#f2a761"/>
<rect x="602.87" y="801.3" width="4.20" height="19.3" fill="#f1b16a"/>
<rect x="606.17" y="801.3" width="4.20" height="19.3" fill="#f0bc73"/>
<rect x="609.47" y="801.3" width="4.20" height="19.3" fill="#ebc785"/>
<rect x="612.77" y="801.3" width="4.34" height="19.3" fill="#e8f2ee"/>
<rect x="616.21" y="801.3" width="4.34" height="19.3" fill="#e4f0ee"/>
<rect x="619.65" y="801.3" width="4.34" height="19.3" fill="#e0edee"/>
<rect x="623.09" y="801.3" width="4.34" height="19.3" fill="#dbebee"/>
<rect x="626.53" y="801.3" width="4.34" height="19.3" fill="#d7e9ef"/>
<rect x="629.98" y="801.3" width="4.34" height="19.3" fill="#d3e7ef"/>
<rect x="633.42" y="801.3" width="4.34" height="19.3" fill="#cfe4ef"/>
<rect x="636.86" y="801.3" width="3.44" height="19.3" fill="#cbe2ef"/>
<text x="535.8" y="792.0" font-size="10" transform="rotate(-90 535.8 792.0)" >3.5</text>
<text x="552.9" y="792.0" font-size="10" transform="rotate(-90 552.9 792.0)" >3</text>
<text x="573.2" y="792.0" font-size="10" transform="rotate(-90 573.2 792.0)" >2.5</text>
<text x="594.1" y="792.0" font-size="10" transform="rotate(-90 594.1 792.0)" >2</text>
<text x="614.2" y="792.0" font-size="10" transform="rotate(-90 614.2 792.0)" >1.5</text>
<text x="637.4" y="792.0" font-size="10" transform="rotate(-90 637.4 792.0)" >&lt;1</text>
<path d="M532.3 797.5V801.3M549.4 797.5V801.3M569.7 797.5V801.3M590.6 797.5V801.3M610.7 797.5V801.3M633.9 797.5V801.3" stroke="#555" stroke-width="0.8"/>
<text x="518.5" y="837.0" font-size="13" >RNA &gt; expected (log<tspan font-size="9" dy="2.5">10</tspan><tspan dy="-2.5">)</tspan></text>
<rect x="504.7" y="853.5" width="10.5" height="10.5" fill="none" stroke="#48c6e8" stroke-width="2"/>
<text x="522.7" y="863.3" font-size="13" >Putative origin site</text>
<text x="509.9" y="892.0" font-size="13" text-anchor="middle" >*</text>
<text x="522.7" y="887.5" font-size="13" >Rebound barcode</text>
<text x="0.0" y="298.0" font-size="18.5" fill="#111" font-weight="bold" >c</text>
</svg>
</body></html>
